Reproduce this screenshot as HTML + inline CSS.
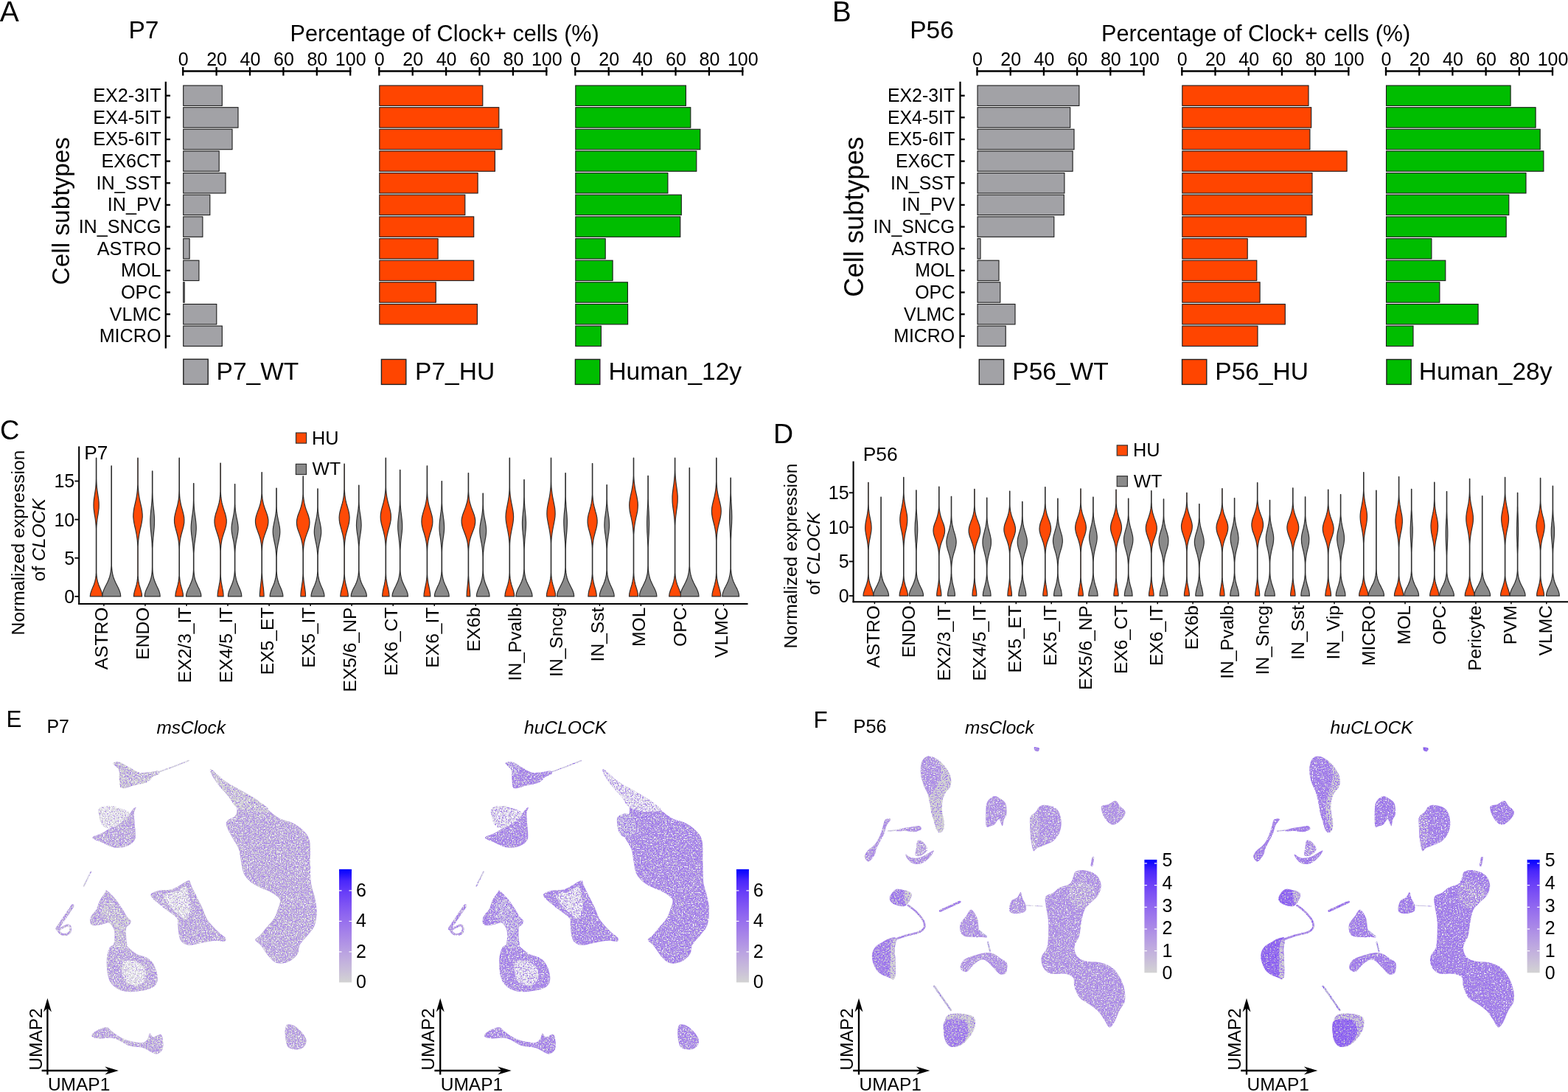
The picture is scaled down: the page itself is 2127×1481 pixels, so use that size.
<!DOCTYPE html>
<html><head><meta charset="utf-8"><title>Figure</title>
<style>html,body{margin:0;padding:0;background:#fff;overflow:hidden;}svg{display:block;}</style></head>
<body><svg width="2127" height="1481" viewBox="0 0 2127 1481" font-family="'Liberation Sans', Arial, Helvetica, sans-serif">
<rect width="2127" height="1481" fill="#fff"/>
<defs><filter id="fmE1" filterUnits="userSpaceOnUse" x="60" y="1020" width="380" height="420" color-interpolation-filters="sRGB"><feTurbulence type="fractalNoise" baseFrequency="0.6" numOctaves="1" seed="17" result="n0"/><feColorMatrix in="n0" type="matrix" values="0 0 0 0 0.827 0 0 0 0 0.827 0 0 0 0 0.827 14.00 0 0 0 -6.824" result="c0"/><feComposite in="c0" in2="SourceAlpha" operator="in" result="m0"/><feTurbulence type="fractalNoise" baseFrequency="0.6" numOctaves="1" seed="24" result="n1"/><feColorMatrix in="n1" type="matrix" values="0 0 0 0 1.000 0 0 0 0 1.000 0 0 0 0 1.000 14.00 0 0 0 -8.691" result="c1"/><feComposite in="c1" in2="SourceAlpha" operator="in" result="m1"/><feTurbulence type="fractalNoise" baseFrequency="0.6" numOctaves="1" seed="31" result="n2"/><feColorMatrix in="n2" type="matrix" values="0 0 0 0 0.616 0 0 0 0 0.467 0 0 0 0 0.925 14.00 0 0 0 -8.888" result="c2"/><feComposite in="c2" in2="SourceAlpha" operator="in" result="m2"/><feMerge><feMergeNode in="SourceGraphic"/><feMergeNode in="m0"/><feMergeNode in="m1"/><feMergeNode in="m2"/></feMerge></filter><filter id="fgE1" filterUnits="userSpaceOnUse" x="60" y="1020" width="380" height="420" color-interpolation-filters="sRGB"><feTurbulence type="fractalNoise" baseFrequency="0.6" numOctaves="1" seed="38" result="n0"/><feColorMatrix in="n0" type="matrix" values="0 0 0 0 0.698 0 0 0 0 0.588 0 0 0 0 0.894 14.00 0 0 0 -7.329" result="c0"/><feComposite in="c0" in2="SourceAlpha" operator="in" result="m0"/><feTurbulence type="fractalNoise" baseFrequency="0.6" numOctaves="1" seed="45" result="n1"/><feColorMatrix in="n1" type="matrix" values="0 0 0 0 1.000 0 0 0 0 1.000 0 0 0 0 1.000 14.00 0 0 0 -8.592" result="c1"/><feComposite in="c1" in2="SourceAlpha" operator="in" result="m1"/><feTurbulence type="fractalNoise" baseFrequency="0.6" numOctaves="1" seed="52" result="n2"/><feColorMatrix in="n2" type="matrix" values="0 0 0 0 0.588 0 0 0 0 0.431 0 0 0 0 0.933 14.00 0 0 0 -8.888" result="c2"/><feComposite in="c2" in2="SourceAlpha" operator="in" result="m2"/><feMerge><feMergeNode in="SourceGraphic"/><feMergeNode in="m0"/><feMergeNode in="m1"/><feMergeNode in="m2"/></feMerge></filter><filter id="fsE1" filterUnits="userSpaceOnUse" x="60" y="1020" width="380" height="420" color-interpolation-filters="sRGB"><feTurbulence type="fractalNoise" baseFrequency="0.6" numOctaves="1" seed="59" result="n0"/><feColorMatrix in="n0" type="matrix" values="0 0 0 0 1.000 0 0 0 0 1.000 0 0 0 0 1.000 14.00 0 0 0 -7.077" result="c0"/><feComposite in="c0" in2="SourceAlpha" operator="in" result="m0"/><feTurbulence type="fractalNoise" baseFrequency="0.6" numOctaves="1" seed="66" result="n1"/><feColorMatrix in="n1" type="matrix" values="0 0 0 0 0.827 0 0 0 0 0.827 0 0 0 0 0.827 14.00 0 0 0 -7.625" result="c1"/><feComposite in="c1" in2="SourceAlpha" operator="in" result="m1"/><feTurbulence type="fractalNoise" baseFrequency="0.6" numOctaves="1" seed="73" result="n2"/><feColorMatrix in="n2" type="matrix" values="0 0 0 0 0.690 0 0 0 0 0.573 0 0 0 0 0.898 14.00 0 0 0 -8.394" result="c2"/><feComposite in="c2" in2="SourceAlpha" operator="in" result="m2"/><feMerge><feMergeNode in="SourceGraphic"/><feMergeNode in="m0"/><feMergeNode in="m1"/><feMergeNode in="m2"/></feMerge></filter><filter id="fmE2" filterUnits="userSpaceOnUse" x="592.5" y="1020" width="380" height="420" color-interpolation-filters="sRGB"><feTurbulence type="fractalNoise" baseFrequency="0.6" numOctaves="1" seed="80" result="n0"/><feColorMatrix in="n0" type="matrix" values="0 0 0 0 0.827 0 0 0 0 0.827 0 0 0 0 0.827 14.00 0 0 0 -7.735" result="c0"/><feComposite in="c0" in2="SourceAlpha" operator="in" result="m0"/><feTurbulence type="fractalNoise" baseFrequency="0.6" numOctaves="1" seed="87" result="n1"/><feColorMatrix in="n1" type="matrix" values="0 0 0 0 1.000 0 0 0 0 1.000 0 0 0 0 1.000 14.00 0 0 0 -8.790" result="c1"/><feComposite in="c1" in2="SourceAlpha" operator="in" result="m1"/><feTurbulence type="fractalNoise" baseFrequency="0.6" numOctaves="1" seed="94" result="n2"/><feColorMatrix in="n2" type="matrix" values="0 0 0 0 0.580 0 0 0 0 0.424 0 0 0 0 0.933 14.00 0 0 0 -8.394" result="c2"/><feComposite in="c2" in2="SourceAlpha" operator="in" result="m2"/><feMerge><feMergeNode in="SourceGraphic"/><feMergeNode in="m0"/><feMergeNode in="m1"/><feMergeNode in="m2"/></feMerge></filter><filter id="fgE2" filterUnits="userSpaceOnUse" x="592.5" y="1020" width="380" height="420" color-interpolation-filters="sRGB"><feTurbulence type="fractalNoise" baseFrequency="0.6" numOctaves="1" seed="101" result="n0"/><feColorMatrix in="n0" type="matrix" values="0 0 0 0 0.655 0 0 0 0 0.522 0 0 0 0 0.910 14.00 0 0 0 -6.912" result="c0"/><feComposite in="c0" in2="SourceAlpha" operator="in" result="m0"/><feTurbulence type="fractalNoise" baseFrequency="0.6" numOctaves="1" seed="108" result="n1"/><feColorMatrix in="n1" type="matrix" values="0 0 0 0 1.000 0 0 0 0 1.000 0 0 0 0 1.000 14.00 0 0 0 -8.790" result="c1"/><feComposite in="c1" in2="SourceAlpha" operator="in" result="m1"/><feTurbulence type="fractalNoise" baseFrequency="0.6" numOctaves="1" seed="115" result="n2"/><feColorMatrix in="n2" type="matrix" values="0 0 0 0 0.557 0 0 0 0 0.396 0 0 0 0 0.941 14.00 0 0 0 -8.592" result="c2"/><feComposite in="c2" in2="SourceAlpha" operator="in" result="m2"/><feMerge><feMergeNode in="SourceGraphic"/><feMergeNode in="m0"/><feMergeNode in="m1"/><feMergeNode in="m2"/></feMerge></filter><filter id="fsE2" filterUnits="userSpaceOnUse" x="592.5" y="1020" width="380" height="420" color-interpolation-filters="sRGB"><feTurbulence type="fractalNoise" baseFrequency="0.6" numOctaves="1" seed="122" result="n0"/><feColorMatrix in="n0" type="matrix" values="0 0 0 0 1.000 0 0 0 0 1.000 0 0 0 0 1.000 14.00 0 0 0 -7.175" result="c0"/><feComposite in="c0" in2="SourceAlpha" operator="in" result="m0"/><feTurbulence type="fractalNoise" baseFrequency="0.6" numOctaves="1" seed="129" result="n1"/><feColorMatrix in="n1" type="matrix" values="0 0 0 0 0.827 0 0 0 0 0.827 0 0 0 0 0.827 14.00 0 0 0 -8.009" result="c1"/><feComposite in="c1" in2="SourceAlpha" operator="in" result="m1"/><feTurbulence type="fractalNoise" baseFrequency="0.6" numOctaves="1" seed="136" result="n2"/><feColorMatrix in="n2" type="matrix" values="0 0 0 0 0.655 0 0 0 0 0.522 0 0 0 0 0.910 14.00 0 0 0 -7.625" result="c2"/><feComposite in="c2" in2="SourceAlpha" operator="in" result="m2"/><feMerge><feMergeNode in="SourceGraphic"/><feMergeNode in="m0"/><feMergeNode in="m1"/><feMergeNode in="m2"/></feMerge></filter><linearGradient id="cbE1" x1="0" y1="0" x2="0" y2="1"><stop offset="0" stop-color="#0000ff"/><stop offset="0.1" stop-color="#4926fb"/><stop offset="0.2" stop-color="#673df8"/><stop offset="0.3" stop-color="#7c51f4"/><stop offset="0.4" stop-color="#8e65f0"/><stop offset="0.5" stop-color="#9d77ec"/><stop offset="0.6" stop-color="#aa89e7"/><stop offset="0.7" stop-color="#b69ce3"/><stop offset="0.8" stop-color="#c1aede"/><stop offset="0.9" stop-color="#cac0d9"/><stop offset="1" stop-color="#d3d3d3"/></linearGradient><linearGradient id="cbE2" x1="0" y1="0" x2="0" y2="1"><stop offset="0" stop-color="#0000ff"/><stop offset="0.1" stop-color="#4926fb"/><stop offset="0.2" stop-color="#673df8"/><stop offset="0.3" stop-color="#7c51f4"/><stop offset="0.4" stop-color="#8e65f0"/><stop offset="0.5" stop-color="#9d77ec"/><stop offset="0.6" stop-color="#aa89e7"/><stop offset="0.7" stop-color="#b69ce3"/><stop offset="0.8" stop-color="#c1aede"/><stop offset="0.9" stop-color="#cac0d9"/><stop offset="1" stop-color="#d3d3d3"/></linearGradient><filter id="fdF1" filterUnits="userSpaceOnUse" x="1150" y="1000" width="400" height="440" color-interpolation-filters="sRGB"><feTurbulence type="fractalNoise" baseFrequency="0.6" numOctaves="1" seed="143" result="n0"/><feColorMatrix in="n0" type="matrix" values="0 0 0 0 0.827 0 0 0 0 0.827 0 0 0 0 0.827 14.00 0 0 0 -6.692" result="c0"/><feComposite in="c0" in2="SourceAlpha" operator="in" result="m0"/><feTurbulence type="fractalNoise" baseFrequency="0.6" numOctaves="1" seed="150" result="n1"/><feColorMatrix in="n1" type="matrix" values="0 0 0 0 1.000 0 0 0 0 1.000 0 0 0 0 1.000 14.00 0 0 0 -8.394" result="c1"/><feComposite in="c1" in2="SourceAlpha" operator="in" result="m1"/><feTurbulence type="fractalNoise" baseFrequency="0.6" numOctaves="1" seed="157" result="n2"/><feColorMatrix in="n2" type="matrix" values="0 0 0 0 0.616 0 0 0 0 0.467 0 0 0 0 0.925 14.00 0 0 0 -8.790" result="c2"/><feComposite in="c2" in2="SourceAlpha" operator="in" result="m2"/><feMerge><feMergeNode in="SourceGraphic"/><feMergeNode in="m0"/><feMergeNode in="m1"/><feMergeNode in="m2"/></feMerge></filter><filter id="fmF1" filterUnits="userSpaceOnUse" x="1150" y="1000" width="400" height="440" color-interpolation-filters="sRGB"><feTurbulence type="fractalNoise" baseFrequency="0.6" numOctaves="1" seed="164" result="n0"/><feColorMatrix in="n0" type="matrix" values="0 0 0 0 0.827 0 0 0 0 0.827 0 0 0 0 0.827 14.00 0 0 0 -7.625" result="c0"/><feComposite in="c0" in2="SourceAlpha" operator="in" result="m0"/><feTurbulence type="fractalNoise" baseFrequency="0.6" numOctaves="1" seed="171" result="n1"/><feColorMatrix in="n1" type="matrix" values="0 0 0 0 1.000 0 0 0 0 1.000 0 0 0 0 1.000 14.00 0 0 0 -8.888" result="c1"/><feComposite in="c1" in2="SourceAlpha" operator="in" result="m1"/><feTurbulence type="fractalNoise" baseFrequency="0.6" numOctaves="1" seed="178" result="n2"/><feColorMatrix in="n2" type="matrix" values="0 0 0 0 0.616 0 0 0 0 0.467 0 0 0 0 0.925 14.00 0 0 0 -8.790" result="c2"/><feComposite in="c2" in2="SourceAlpha" operator="in" result="m2"/><feMerge><feMergeNode in="SourceGraphic"/><feMergeNode in="m0"/><feMergeNode in="m1"/><feMergeNode in="m2"/></feMerge></filter><filter id="fpF1" filterUnits="userSpaceOnUse" x="1150" y="1000" width="400" height="440" color-interpolation-filters="sRGB"><feTurbulence type="fractalNoise" baseFrequency="0.6" numOctaves="1" seed="185" result="n0"/><feColorMatrix in="n0" type="matrix" values="0 0 0 0 0.827 0 0 0 0 0.827 0 0 0 0 0.827 14.00 0 0 0 -7.625" result="c0"/><feComposite in="c0" in2="SourceAlpha" operator="in" result="m0"/><feTurbulence type="fractalNoise" baseFrequency="0.6" numOctaves="1" seed="192" result="n1"/><feColorMatrix in="n1" type="matrix" values="0 0 0 0 0.541 0 0 0 0 0.380 0 0 0 0 0.945 14.00 0 0 0 -8.394" result="c1"/><feComposite in="c1" in2="SourceAlpha" operator="in" result="m1"/><feMerge><feMergeNode in="SourceGraphic"/><feMergeNode in="m0"/><feMergeNode in="m1"/></feMerge></filter><filter id="fgF1" filterUnits="userSpaceOnUse" x="1150" y="1000" width="400" height="440" color-interpolation-filters="sRGB"><feTurbulence type="fractalNoise" baseFrequency="0.6" numOctaves="1" seed="199" result="n0"/><feColorMatrix in="n0" type="matrix" values="0 0 0 0 0.655 0 0 0 0 0.522 0 0 0 0 0.910 14.00 0 0 0 -7.845" result="c0"/><feComposite in="c0" in2="SourceAlpha" operator="in" result="m0"/><feTurbulence type="fractalNoise" baseFrequency="0.6" numOctaves="1" seed="206" result="n1"/><feColorMatrix in="n1" type="matrix" values="0 0 0 0 0.557 0 0 0 0 0.396 0 0 0 0 0.941 14.00 0 0 0 -8.888" result="c1"/><feComposite in="c1" in2="SourceAlpha" operator="in" result="m1"/><feMerge><feMergeNode in="SourceGraphic"/><feMergeNode in="m0"/><feMergeNode in="m1"/></feMerge></filter><filter id="fsF1" filterUnits="userSpaceOnUse" x="1150" y="1000" width="400" height="440" color-interpolation-filters="sRGB"><feTurbulence type="fractalNoise" baseFrequency="0.6" numOctaves="1" seed="213" result="n0"/><feColorMatrix in="n0" type="matrix" values="0 0 0 0 1.000 0 0 0 0 1.000 0 0 0 0 1.000 14.00 0 0 0 -7.241" result="c0"/><feComposite in="c0" in2="SourceAlpha" operator="in" result="m0"/><feTurbulence type="fractalNoise" baseFrequency="0.6" numOctaves="1" seed="220" result="n1"/><feColorMatrix in="n1" type="matrix" values="0 0 0 0 0.827 0 0 0 0 0.827 0 0 0 0 0.827 14.00 0 0 0 -7.460" result="c1"/><feComposite in="c1" in2="SourceAlpha" operator="in" result="m1"/><feMerge><feMergeNode in="SourceGraphic"/><feMergeNode in="m0"/><feMergeNode in="m1"/></feMerge></filter><filter id="fdF2" filterUnits="userSpaceOnUse" x="1677.5" y="1000" width="400" height="440" color-interpolation-filters="sRGB"><feTurbulence type="fractalNoise" baseFrequency="0.6" numOctaves="1" seed="227" result="n0"/><feColorMatrix in="n0" type="matrix" values="0 0 0 0 0.827 0 0 0 0 0.827 0 0 0 0 0.827 14.00 0 0 0 -7.077" result="c0"/><feComposite in="c0" in2="SourceAlpha" operator="in" result="m0"/><feTurbulence type="fractalNoise" baseFrequency="0.6" numOctaves="1" seed="234" result="n1"/><feColorMatrix in="n1" type="matrix" values="0 0 0 0 1.000 0 0 0 0 1.000 0 0 0 0 1.000 14.00 0 0 0 -8.592" result="c1"/><feComposite in="c1" in2="SourceAlpha" operator="in" result="m1"/><feTurbulence type="fractalNoise" baseFrequency="0.6" numOctaves="1" seed="241" result="n2"/><feColorMatrix in="n2" type="matrix" values="0 0 0 0 0.588 0 0 0 0 0.431 0 0 0 0 0.933 14.00 0 0 0 -8.592" result="c2"/><feComposite in="c2" in2="SourceAlpha" operator="in" result="m2"/><feMerge><feMergeNode in="SourceGraphic"/><feMergeNode in="m0"/><feMergeNode in="m1"/><feMergeNode in="m2"/></feMerge></filter><filter id="fmF2" filterUnits="userSpaceOnUse" x="1677.5" y="1000" width="400" height="440" color-interpolation-filters="sRGB"><feTurbulence type="fractalNoise" baseFrequency="0.6" numOctaves="1" seed="248" result="n0"/><feColorMatrix in="n0" type="matrix" values="0 0 0 0 0.827 0 0 0 0 0.827 0 0 0 0 0.827 14.00 0 0 0 -8.240" result="c0"/><feComposite in="c0" in2="SourceAlpha" operator="in" result="m0"/><feTurbulence type="fractalNoise" baseFrequency="0.6" numOctaves="1" seed="255" result="n1"/><feColorMatrix in="n1" type="matrix" values="0 0 0 0 1.000 0 0 0 0 1.000 0 0 0 0 1.000 14.00 0 0 0 -8.888" result="c1"/><feComposite in="c1" in2="SourceAlpha" operator="in" result="m1"/><feTurbulence type="fractalNoise" baseFrequency="0.6" numOctaves="1" seed="262" result="n2"/><feColorMatrix in="n2" type="matrix" values="0 0 0 0 0.569 0 0 0 0 0.412 0 0 0 0 0.937 14.00 0 0 0 -8.394" result="c2"/><feComposite in="c2" in2="SourceAlpha" operator="in" result="m2"/><feMerge><feMergeNode in="SourceGraphic"/><feMergeNode in="m0"/><feMergeNode in="m1"/><feMergeNode in="m2"/></feMerge></filter><filter id="fpF2" filterUnits="userSpaceOnUse" x="1677.5" y="1000" width="400" height="440" color-interpolation-filters="sRGB"><feTurbulence type="fractalNoise" baseFrequency="0.6" numOctaves="1" seed="269" result="n0"/><feColorMatrix in="n0" type="matrix" values="0 0 0 0 0.827 0 0 0 0 0.827 0 0 0 0 0.827 14.00 0 0 0 -8.394" result="c0"/><feComposite in="c0" in2="SourceAlpha" operator="in" result="m0"/><feTurbulence type="fractalNoise" baseFrequency="0.6" numOctaves="1" seed="276" result="n1"/><feColorMatrix in="n1" type="matrix" values="0 0 0 0 0.486 0 0 0 0 0.318 0 0 0 0 0.957 14.00 0 0 0 -8.086" result="c1"/><feComposite in="c1" in2="SourceAlpha" operator="in" result="m1"/><feMerge><feMergeNode in="SourceGraphic"/><feMergeNode in="m0"/><feMergeNode in="m1"/></feMerge></filter><filter id="fgF2" filterUnits="userSpaceOnUse" x="1677.5" y="1000" width="400" height="440" color-interpolation-filters="sRGB"><feTurbulence type="fractalNoise" baseFrequency="0.6" numOctaves="1" seed="283" result="n0"/><feColorMatrix in="n0" type="matrix" values="0 0 0 0 0.643 0 0 0 0 0.502 0 0 0 0 0.918 14.00 0 0 0 -7.077" result="c0"/><feComposite in="c0" in2="SourceAlpha" operator="in" result="m0"/><feTurbulence type="fractalNoise" baseFrequency="0.6" numOctaves="1" seed="290" result="n1"/><feColorMatrix in="n1" type="matrix" values="0 0 0 0 0.557 0 0 0 0 0.396 0 0 0 0 0.941 14.00 0 0 0 -8.790" result="c1"/><feComposite in="c1" in2="SourceAlpha" operator="in" result="m1"/><feMerge><feMergeNode in="SourceGraphic"/><feMergeNode in="m0"/><feMergeNode in="m1"/></feMerge></filter><filter id="fsF2" filterUnits="userSpaceOnUse" x="1677.5" y="1000" width="400" height="440" color-interpolation-filters="sRGB"><feTurbulence type="fractalNoise" baseFrequency="0.6" numOctaves="1" seed="297" result="n0"/><feColorMatrix in="n0" type="matrix" values="0 0 0 0 1.000 0 0 0 0 1.000 0 0 0 0 1.000 14.00 0 0 0 -7.460" result="c0"/><feComposite in="c0" in2="SourceAlpha" operator="in" result="m0"/><feTurbulence type="fractalNoise" baseFrequency="0.6" numOctaves="1" seed="304" result="n1"/><feColorMatrix in="n1" type="matrix" values="0 0 0 0 0.827 0 0 0 0 0.827 0 0 0 0 0.827 14.00 0 0 0 -7.460" result="c1"/><feComposite in="c1" in2="SourceAlpha" operator="in" result="m1"/><feMerge><feMergeNode in="SourceGraphic"/><feMergeNode in="m0"/><feMergeNode in="m1"/></feMerge></filter><linearGradient id="cbF1" x1="0" y1="0" x2="0" y2="1"><stop offset="0" stop-color="#0000ff"/><stop offset="0.1" stop-color="#4926fb"/><stop offset="0.2" stop-color="#673df8"/><stop offset="0.3" stop-color="#7c51f4"/><stop offset="0.4" stop-color="#8e65f0"/><stop offset="0.5" stop-color="#9d77ec"/><stop offset="0.6" stop-color="#aa89e7"/><stop offset="0.7" stop-color="#b69ce3"/><stop offset="0.8" stop-color="#c1aede"/><stop offset="0.9" stop-color="#cac0d9"/><stop offset="1" stop-color="#d3d3d3"/></linearGradient><linearGradient id="cbF2" x1="0" y1="0" x2="0" y2="1"><stop offset="0" stop-color="#0000ff"/><stop offset="0.1" stop-color="#4926fb"/><stop offset="0.2" stop-color="#673df8"/><stop offset="0.3" stop-color="#7c51f4"/><stop offset="0.4" stop-color="#8e65f0"/><stop offset="0.5" stop-color="#9d77ec"/><stop offset="0.6" stop-color="#aa89e7"/><stop offset="0.7" stop-color="#b69ce3"/><stop offset="0.8" stop-color="#c1aede"/><stop offset="0.9" stop-color="#cac0d9"/><stop offset="1" stop-color="#d3d3d3"/></linearGradient></defs>
<text x="-0.3" y="29.1" font-size="39">A</text>
<text x="174.4" y="52.1" font-size="33.5">P7</text>
<text x="393.6" y="55.9" font-size="30.6">Percentage of Clock+ cells (%)</text>
<text x="93.9" y="286.2" font-size="33.4" text-anchor="middle" transform="rotate(-90 93.9 286.2)">Cell subtypes</text>
<line x1="224.8" y1="110.8" x2="224.8" y2="472.5" stroke="#000" stroke-width="2.3" stroke-linecap="butt"/>
<line x1="224.8" y1="129.7" x2="231" y2="129.7" stroke="#000" stroke-width="2.3" stroke-linecap="butt"/>
<text x="218.6" y="138.1" font-size="25.2" text-anchor="end">EX2-3IT</text>
<line x1="224.8" y1="159.3" x2="231" y2="159.3" stroke="#000" stroke-width="2.3" stroke-linecap="butt"/>
<text x="218.6" y="167.8" font-size="25.2" text-anchor="end">EX4-5IT</text>
<line x1="224.8" y1="189" x2="231" y2="189" stroke="#000" stroke-width="2.3" stroke-linecap="butt"/>
<text x="218.6" y="197.4" font-size="25.2" text-anchor="end">EX5-6IT</text>
<line x1="224.8" y1="218.6" x2="231" y2="218.6" stroke="#000" stroke-width="2.3" stroke-linecap="butt"/>
<text x="218.6" y="227" font-size="25.2" text-anchor="end">EX6CT</text>
<line x1="224.8" y1="248.3" x2="231" y2="248.3" stroke="#000" stroke-width="2.3" stroke-linecap="butt"/>
<text x="218.6" y="256.7" font-size="25.2" text-anchor="end">IN_SST</text>
<line x1="224.8" y1="277.9" x2="231" y2="277.9" stroke="#000" stroke-width="2.3" stroke-linecap="butt"/>
<text x="218.6" y="286.3" font-size="25.2" text-anchor="end">IN_PV</text>
<line x1="224.8" y1="307.6" x2="231" y2="307.6" stroke="#000" stroke-width="2.3" stroke-linecap="butt"/>
<text x="218.6" y="316" font-size="25.2" text-anchor="end">IN_SNCG</text>
<line x1="224.8" y1="337.2" x2="231" y2="337.2" stroke="#000" stroke-width="2.3" stroke-linecap="butt"/>
<text x="218.6" y="345.6" font-size="25.2" text-anchor="end">ASTRO</text>
<line x1="224.8" y1="366.9" x2="231" y2="366.9" stroke="#000" stroke-width="2.3" stroke-linecap="butt"/>
<text x="218.6" y="375.3" font-size="25.2" text-anchor="end">MOL</text>
<line x1="224.8" y1="396.5" x2="231" y2="396.5" stroke="#000" stroke-width="2.3" stroke-linecap="butt"/>
<text x="218.6" y="404.9" font-size="25.2" text-anchor="end">OPC</text>
<line x1="224.8" y1="426.2" x2="231" y2="426.2" stroke="#000" stroke-width="2.3" stroke-linecap="butt"/>
<text x="218.6" y="434.6" font-size="25.2" text-anchor="end">VLMC</text>
<line x1="224.8" y1="455.8" x2="231" y2="455.8" stroke="#000" stroke-width="2.3" stroke-linecap="butt"/>
<text x="218.6" y="464.2" font-size="25.2" text-anchor="end">MICRO</text>
<line x1="247.1" y1="96.6" x2="476.3" y2="96.6" stroke="#000" stroke-width="2.5" stroke-linecap="butt"/>
<line x1="248.2" y1="91" x2="248.2" y2="102.6" stroke="#000" stroke-width="2.3" stroke-linecap="butt"/>
<text x="248.7" y="89" font-size="25" text-anchor="middle">0</text>
<line x1="293.6" y1="91" x2="293.6" y2="102.6" stroke="#000" stroke-width="2.3" stroke-linecap="butt"/>
<text x="294.1" y="89" font-size="25" text-anchor="middle">20</text>
<line x1="339" y1="91" x2="339" y2="102.6" stroke="#000" stroke-width="2.3" stroke-linecap="butt"/>
<text x="339.5" y="89" font-size="25" text-anchor="middle">40</text>
<line x1="384.4" y1="91" x2="384.4" y2="102.6" stroke="#000" stroke-width="2.3" stroke-linecap="butt"/>
<text x="384.9" y="89" font-size="25" text-anchor="middle">60</text>
<line x1="429.8" y1="91" x2="429.8" y2="102.6" stroke="#000" stroke-width="2.3" stroke-linecap="butt"/>
<text x="430.3" y="89" font-size="25" text-anchor="middle">80</text>
<line x1="475.2" y1="91" x2="475.2" y2="102.6" stroke="#000" stroke-width="2.3" stroke-linecap="butt"/>
<text x="475.7" y="89" font-size="25" text-anchor="middle">100</text>
<rect x="248.7" y="116" width="52.6" height="27.4" fill="#a2a2a6" stroke="#1a1a1a" stroke-width="1.1"/>
<rect x="248.7" y="145.7" width="74.3" height="27.4" fill="#a2a2a6" stroke="#1a1a1a" stroke-width="1.1"/>
<rect x="248.7" y="175.3" width="66.3" height="27.4" fill="#a2a2a6" stroke="#1a1a1a" stroke-width="1.1"/>
<rect x="248.7" y="204.9" width="48.5" height="27.4" fill="#a2a2a6" stroke="#1a1a1a" stroke-width="1.1"/>
<rect x="248.7" y="234.6" width="57.3" height="27.4" fill="#a2a2a6" stroke="#1a1a1a" stroke-width="1.1"/>
<rect x="248.7" y="264.2" width="36.1" height="27.4" fill="#a2a2a6" stroke="#1a1a1a" stroke-width="1.1"/>
<rect x="248.7" y="293.9" width="26.2" height="27.4" fill="#a2a2a6" stroke="#1a1a1a" stroke-width="1.1"/>
<rect x="248.7" y="323.6" width="8.4" height="27.4" fill="#a2a2a6" stroke="#1a1a1a" stroke-width="1.1"/>
<rect x="248.7" y="353.2" width="21.2" height="27.4" fill="#a2a2a6" stroke="#1a1a1a" stroke-width="1.1"/>
<rect x="248.7" y="382.8" width="1.5" height="27.4" fill="#a2a2a6" stroke="#1a1a1a" stroke-width="1.1"/>
<rect x="248.7" y="412.5" width="45.1" height="27.4" fill="#a2a2a6" stroke="#1a1a1a" stroke-width="1.1"/>
<rect x="248.7" y="442.1" width="52.6" height="27.4" fill="#a2a2a6" stroke="#1a1a1a" stroke-width="1.1"/>
<line x1="513.2" y1="96.6" x2="742.4" y2="96.6" stroke="#000" stroke-width="2.5" stroke-linecap="butt"/>
<line x1="514.3" y1="91" x2="514.3" y2="102.6" stroke="#000" stroke-width="2.3" stroke-linecap="butt"/>
<text x="514.8" y="89" font-size="25" text-anchor="middle">0</text>
<line x1="559.7" y1="91" x2="559.7" y2="102.6" stroke="#000" stroke-width="2.3" stroke-linecap="butt"/>
<text x="560.2" y="89" font-size="25" text-anchor="middle">20</text>
<line x1="605.1" y1="91" x2="605.1" y2="102.6" stroke="#000" stroke-width="2.3" stroke-linecap="butt"/>
<text x="605.6" y="89" font-size="25" text-anchor="middle">40</text>
<line x1="650.5" y1="91" x2="650.5" y2="102.6" stroke="#000" stroke-width="2.3" stroke-linecap="butt"/>
<text x="651" y="89" font-size="25" text-anchor="middle">60</text>
<line x1="695.9" y1="91" x2="695.9" y2="102.6" stroke="#000" stroke-width="2.3" stroke-linecap="butt"/>
<text x="696.4" y="89" font-size="25" text-anchor="middle">80</text>
<line x1="741.3" y1="91" x2="741.3" y2="102.6" stroke="#000" stroke-width="2.3" stroke-linecap="butt"/>
<text x="741.8" y="89" font-size="25" text-anchor="middle">100</text>
<rect x="514.8" y="116" width="140" height="27.4" fill="#ff4500" stroke="#1a1a1a" stroke-width="1.1"/>
<rect x="514.8" y="145.7" width="162" height="27.4" fill="#ff4500" stroke="#1a1a1a" stroke-width="1.1"/>
<rect x="514.8" y="175.3" width="166.1" height="27.4" fill="#ff4500" stroke="#1a1a1a" stroke-width="1.1"/>
<rect x="514.8" y="204.9" width="156.6" height="27.4" fill="#ff4500" stroke="#1a1a1a" stroke-width="1.1"/>
<rect x="514.8" y="234.6" width="133.3" height="27.4" fill="#ff4500" stroke="#1a1a1a" stroke-width="1.1"/>
<rect x="514.8" y="264.2" width="116" height="27.4" fill="#ff4500" stroke="#1a1a1a" stroke-width="1.1"/>
<rect x="514.8" y="293.9" width="127.9" height="27.4" fill="#ff4500" stroke="#1a1a1a" stroke-width="1.1"/>
<rect x="514.8" y="323.6" width="79.3" height="27.4" fill="#ff4500" stroke="#1a1a1a" stroke-width="1.1"/>
<rect x="514.8" y="353.2" width="127.9" height="27.4" fill="#ff4500" stroke="#1a1a1a" stroke-width="1.1"/>
<rect x="514.8" y="382.8" width="76.5" height="27.4" fill="#ff4500" stroke="#1a1a1a" stroke-width="1.1"/>
<rect x="514.8" y="412.5" width="132.6" height="27.4" fill="#ff4500" stroke="#1a1a1a" stroke-width="1.1"/>
<line x1="779.2" y1="96.6" x2="1008.4" y2="96.6" stroke="#000" stroke-width="2.5" stroke-linecap="butt"/>
<line x1="780.3" y1="91" x2="780.3" y2="102.6" stroke="#000" stroke-width="2.3" stroke-linecap="butt"/>
<text x="780.8" y="89" font-size="25" text-anchor="middle">0</text>
<line x1="825.7" y1="91" x2="825.7" y2="102.6" stroke="#000" stroke-width="2.3" stroke-linecap="butt"/>
<text x="826.2" y="89" font-size="25" text-anchor="middle">20</text>
<line x1="871.1" y1="91" x2="871.1" y2="102.6" stroke="#000" stroke-width="2.3" stroke-linecap="butt"/>
<text x="871.6" y="89" font-size="25" text-anchor="middle">40</text>
<line x1="916.5" y1="91" x2="916.5" y2="102.6" stroke="#000" stroke-width="2.3" stroke-linecap="butt"/>
<text x="917" y="89" font-size="25" text-anchor="middle">60</text>
<line x1="961.9" y1="91" x2="961.9" y2="102.6" stroke="#000" stroke-width="2.3" stroke-linecap="butt"/>
<text x="962.4" y="89" font-size="25" text-anchor="middle">80</text>
<line x1="1007.3" y1="91" x2="1007.3" y2="102.6" stroke="#000" stroke-width="2.3" stroke-linecap="butt"/>
<text x="1007.8" y="89" font-size="25" text-anchor="middle">100</text>
<rect x="780.8" y="116" width="149.6" height="27.4" fill="#00bd00" stroke="#1a1a1a" stroke-width="1.1"/>
<rect x="780.8" y="145.7" width="156" height="27.4" fill="#00bd00" stroke="#1a1a1a" stroke-width="1.1"/>
<rect x="780.8" y="175.3" width="169" height="27.4" fill="#00bd00" stroke="#1a1a1a" stroke-width="1.1"/>
<rect x="780.8" y="204.9" width="164" height="27.4" fill="#00bd00" stroke="#1a1a1a" stroke-width="1.1"/>
<rect x="780.8" y="234.6" width="125.1" height="27.4" fill="#00bd00" stroke="#1a1a1a" stroke-width="1.1"/>
<rect x="780.8" y="264.2" width="143.5" height="27.4" fill="#00bd00" stroke="#1a1a1a" stroke-width="1.1"/>
<rect x="780.8" y="293.9" width="142" height="27.4" fill="#00bd00" stroke="#1a1a1a" stroke-width="1.1"/>
<rect x="780.8" y="323.6" width="40.4" height="27.4" fill="#00bd00" stroke="#1a1a1a" stroke-width="1.1"/>
<rect x="780.8" y="353.2" width="50.3" height="27.4" fill="#00bd00" stroke="#1a1a1a" stroke-width="1.1"/>
<rect x="780.8" y="382.8" width="70.6" height="27.4" fill="#00bd00" stroke="#1a1a1a" stroke-width="1.1"/>
<rect x="780.8" y="412.5" width="70.8" height="27.4" fill="#00bd00" stroke="#1a1a1a" stroke-width="1.1"/>
<rect x="780.8" y="442.1" width="34.6" height="27.4" fill="#00bd00" stroke="#1a1a1a" stroke-width="1.1"/>
<rect x="248.8" y="487.2" width="33.4" height="34" fill="#a2a2a6" stroke="#222" stroke-width="1.4"/>
<text x="293.6" y="515.1" font-size="33.5">P7_WT</text>
<rect x="517.4" y="487.4" width="33.4" height="34" fill="#ff4500" stroke="#222" stroke-width="1.4"/>
<text x="563.1" y="515.1" font-size="33.5">P7_HU</text>
<rect x="780.4" y="487.4" width="33.4" height="34" fill="#00bd00" stroke="#222" stroke-width="1.4"/>
<text x="825.4" y="515.1" font-size="33.5">Human_12y</text>
<text x="1129" y="28.8" font-size="38.5">B</text>
<text x="1234.2" y="52.2" font-size="33.5">P56</text>
<text x="1494.1" y="56" font-size="30.6">Percentage of Clock+ cells (%)</text>
<text x="1171.3" y="294" font-size="36.2" text-anchor="middle" transform="rotate(-90 1171.3 294)">Cell subtypes</text>
<line x1="1302.5" y1="110.8" x2="1302.5" y2="472.5" stroke="#000" stroke-width="2.3" stroke-linecap="butt"/>
<line x1="1302.5" y1="129.7" x2="1308.7" y2="129.7" stroke="#000" stroke-width="2.3" stroke-linecap="butt"/>
<text x="1295.2" y="138.1" font-size="24.9" text-anchor="end">EX2-3IT</text>
<line x1="1302.5" y1="159.3" x2="1308.7" y2="159.3" stroke="#000" stroke-width="2.3" stroke-linecap="butt"/>
<text x="1295.2" y="167.8" font-size="24.9" text-anchor="end">EX4-5IT</text>
<line x1="1302.5" y1="189" x2="1308.7" y2="189" stroke="#000" stroke-width="2.3" stroke-linecap="butt"/>
<text x="1295.2" y="197.4" font-size="24.9" text-anchor="end">EX5-6IT</text>
<line x1="1302.5" y1="218.6" x2="1308.7" y2="218.6" stroke="#000" stroke-width="2.3" stroke-linecap="butt"/>
<text x="1295.2" y="227" font-size="24.9" text-anchor="end">EX6CT</text>
<line x1="1302.5" y1="248.3" x2="1308.7" y2="248.3" stroke="#000" stroke-width="2.3" stroke-linecap="butt"/>
<text x="1295.2" y="256.7" font-size="24.9" text-anchor="end">IN_SST</text>
<line x1="1302.5" y1="277.9" x2="1308.7" y2="277.9" stroke="#000" stroke-width="2.3" stroke-linecap="butt"/>
<text x="1295.2" y="286.3" font-size="24.9" text-anchor="end">IN_PV</text>
<line x1="1302.5" y1="307.6" x2="1308.7" y2="307.6" stroke="#000" stroke-width="2.3" stroke-linecap="butt"/>
<text x="1295.2" y="316" font-size="24.9" text-anchor="end">IN_SNCG</text>
<line x1="1302.5" y1="337.2" x2="1308.7" y2="337.2" stroke="#000" stroke-width="2.3" stroke-linecap="butt"/>
<text x="1295.2" y="345.6" font-size="24.9" text-anchor="end">ASTRO</text>
<line x1="1302.5" y1="366.9" x2="1308.7" y2="366.9" stroke="#000" stroke-width="2.3" stroke-linecap="butt"/>
<text x="1295.2" y="375.3" font-size="24.9" text-anchor="end">MOL</text>
<line x1="1302.5" y1="396.5" x2="1308.7" y2="396.5" stroke="#000" stroke-width="2.3" stroke-linecap="butt"/>
<text x="1295.2" y="404.9" font-size="24.9" text-anchor="end">OPC</text>
<line x1="1302.5" y1="426.2" x2="1308.7" y2="426.2" stroke="#000" stroke-width="2.3" stroke-linecap="butt"/>
<text x="1295.2" y="434.6" font-size="24.9" text-anchor="end">VLMC</text>
<line x1="1302.5" y1="455.8" x2="1308.7" y2="455.8" stroke="#000" stroke-width="2.3" stroke-linecap="butt"/>
<text x="1295.2" y="464.2" font-size="24.9" text-anchor="end">MICRO</text>
<line x1="1324.4" y1="96.6" x2="1552.6" y2="96.6" stroke="#000" stroke-width="2.5" stroke-linecap="butt"/>
<line x1="1325.5" y1="91" x2="1325.5" y2="102.6" stroke="#000" stroke-width="2.3" stroke-linecap="butt"/>
<text x="1326" y="89" font-size="25" text-anchor="middle">0</text>
<line x1="1370.7" y1="91" x2="1370.7" y2="102.6" stroke="#000" stroke-width="2.3" stroke-linecap="butt"/>
<text x="1371.2" y="89" font-size="25" text-anchor="middle">20</text>
<line x1="1415.9" y1="91" x2="1415.9" y2="102.6" stroke="#000" stroke-width="2.3" stroke-linecap="butt"/>
<text x="1416.4" y="89" font-size="25" text-anchor="middle">40</text>
<line x1="1461.1" y1="91" x2="1461.1" y2="102.6" stroke="#000" stroke-width="2.3" stroke-linecap="butt"/>
<text x="1461.6" y="89" font-size="25" text-anchor="middle">60</text>
<line x1="1506.3" y1="91" x2="1506.3" y2="102.6" stroke="#000" stroke-width="2.3" stroke-linecap="butt"/>
<text x="1506.8" y="89" font-size="25" text-anchor="middle">80</text>
<line x1="1551.5" y1="91" x2="1551.5" y2="102.6" stroke="#000" stroke-width="2.3" stroke-linecap="butt"/>
<text x="1552" y="89" font-size="25" text-anchor="middle">100</text>
<rect x="1326" y="116" width="137.9" height="27.4" fill="#a2a2a6" stroke="#1a1a1a" stroke-width="1.1"/>
<rect x="1326" y="145.7" width="125.7" height="27.4" fill="#a2a2a6" stroke="#1a1a1a" stroke-width="1.1"/>
<rect x="1326" y="175.3" width="131" height="27.4" fill="#a2a2a6" stroke="#1a1a1a" stroke-width="1.1"/>
<rect x="1326" y="204.9" width="129.1" height="27.4" fill="#a2a2a6" stroke="#1a1a1a" stroke-width="1.1"/>
<rect x="1326" y="234.6" width="117.9" height="27.4" fill="#a2a2a6" stroke="#1a1a1a" stroke-width="1.1"/>
<rect x="1326" y="264.2" width="117.3" height="27.4" fill="#a2a2a6" stroke="#1a1a1a" stroke-width="1.1"/>
<rect x="1326" y="293.9" width="103.8" height="27.4" fill="#a2a2a6" stroke="#1a1a1a" stroke-width="1.1"/>
<rect x="1326" y="323.6" width="4" height="27.4" fill="#a2a2a6" stroke="#1a1a1a" stroke-width="1.1"/>
<rect x="1326" y="353.2" width="29" height="27.4" fill="#a2a2a6" stroke="#1a1a1a" stroke-width="1.1"/>
<rect x="1326" y="382.8" width="30.8" height="27.4" fill="#a2a2a6" stroke="#1a1a1a" stroke-width="1.1"/>
<rect x="1326" y="412.5" width="51" height="27.4" fill="#a2a2a6" stroke="#1a1a1a" stroke-width="1.1"/>
<rect x="1326" y="442.1" width="38.2" height="27.4" fill="#a2a2a6" stroke="#1a1a1a" stroke-width="1.1"/>
<line x1="1602.2" y1="96.6" x2="1830.4" y2="96.6" stroke="#000" stroke-width="2.5" stroke-linecap="butt"/>
<line x1="1603.3" y1="91" x2="1603.3" y2="102.6" stroke="#000" stroke-width="2.3" stroke-linecap="butt"/>
<text x="1603.8" y="89" font-size="25" text-anchor="middle">0</text>
<line x1="1648.5" y1="91" x2="1648.5" y2="102.6" stroke="#000" stroke-width="2.3" stroke-linecap="butt"/>
<text x="1649" y="89" font-size="25" text-anchor="middle">20</text>
<line x1="1693.7" y1="91" x2="1693.7" y2="102.6" stroke="#000" stroke-width="2.3" stroke-linecap="butt"/>
<text x="1694.2" y="89" font-size="25" text-anchor="middle">40</text>
<line x1="1738.9" y1="91" x2="1738.9" y2="102.6" stroke="#000" stroke-width="2.3" stroke-linecap="butt"/>
<text x="1739.4" y="89" font-size="25" text-anchor="middle">60</text>
<line x1="1784.1" y1="91" x2="1784.1" y2="102.6" stroke="#000" stroke-width="2.3" stroke-linecap="butt"/>
<text x="1784.6" y="89" font-size="25" text-anchor="middle">80</text>
<line x1="1829.3" y1="91" x2="1829.3" y2="102.6" stroke="#000" stroke-width="2.3" stroke-linecap="butt"/>
<text x="1829.8" y="89" font-size="25" text-anchor="middle">100</text>
<rect x="1603.8" y="116" width="171.2" height="27.4" fill="#ff4500" stroke="#1a1a1a" stroke-width="1.1"/>
<rect x="1603.8" y="145.7" width="174.9" height="27.4" fill="#ff4500" stroke="#1a1a1a" stroke-width="1.1"/>
<rect x="1603.8" y="175.3" width="173.1" height="27.4" fill="#ff4500" stroke="#1a1a1a" stroke-width="1.1"/>
<rect x="1603.8" y="204.9" width="223.3" height="27.4" fill="#ff4500" stroke="#1a1a1a" stroke-width="1.1"/>
<rect x="1603.8" y="234.6" width="176.2" height="27.4" fill="#ff4500" stroke="#1a1a1a" stroke-width="1.1"/>
<rect x="1603.8" y="264.2" width="176.2" height="27.4" fill="#ff4500" stroke="#1a1a1a" stroke-width="1.1"/>
<rect x="1603.8" y="293.9" width="168.1" height="27.4" fill="#ff4500" stroke="#1a1a1a" stroke-width="1.1"/>
<rect x="1603.8" y="323.6" width="88.4" height="27.4" fill="#ff4500" stroke="#1a1a1a" stroke-width="1.1"/>
<rect x="1603.8" y="353.2" width="101" height="27.4" fill="#ff4500" stroke="#1a1a1a" stroke-width="1.1"/>
<rect x="1603.8" y="382.8" width="105.3" height="27.4" fill="#ff4500" stroke="#1a1a1a" stroke-width="1.1"/>
<rect x="1603.8" y="412.5" width="139.5" height="27.4" fill="#ff4500" stroke="#1a1a1a" stroke-width="1.1"/>
<rect x="1603.8" y="442.1" width="102.2" height="27.4" fill="#ff4500" stroke="#1a1a1a" stroke-width="1.1"/>
<line x1="1878.9" y1="96.6" x2="2107.1" y2="96.6" stroke="#000" stroke-width="2.5" stroke-linecap="butt"/>
<line x1="1880" y1="91" x2="1880" y2="102.6" stroke="#000" stroke-width="2.3" stroke-linecap="butt"/>
<text x="1880.5" y="89" font-size="25" text-anchor="middle">0</text>
<line x1="1925.2" y1="91" x2="1925.2" y2="102.6" stroke="#000" stroke-width="2.3" stroke-linecap="butt"/>
<text x="1925.7" y="89" font-size="25" text-anchor="middle">20</text>
<line x1="1970.4" y1="91" x2="1970.4" y2="102.6" stroke="#000" stroke-width="2.3" stroke-linecap="butt"/>
<text x="1970.9" y="89" font-size="25" text-anchor="middle">40</text>
<line x1="2015.6" y1="91" x2="2015.6" y2="102.6" stroke="#000" stroke-width="2.3" stroke-linecap="butt"/>
<text x="2016.1" y="89" font-size="25" text-anchor="middle">60</text>
<line x1="2060.8" y1="91" x2="2060.8" y2="102.6" stroke="#000" stroke-width="2.3" stroke-linecap="butt"/>
<text x="2061.3" y="89" font-size="25" text-anchor="middle">80</text>
<line x1="2106" y1="91" x2="2106" y2="102.6" stroke="#000" stroke-width="2.3" stroke-linecap="butt"/>
<text x="2106.5" y="89" font-size="25" text-anchor="middle">100</text>
<rect x="1880.5" y="116" width="168.6" height="27.4" fill="#00bd00" stroke="#1a1a1a" stroke-width="1.1"/>
<rect x="1880.5" y="145.7" width="202.6" height="27.4" fill="#00bd00" stroke="#1a1a1a" stroke-width="1.1"/>
<rect x="1880.5" y="175.3" width="208.7" height="27.4" fill="#00bd00" stroke="#1a1a1a" stroke-width="1.1"/>
<rect x="1880.5" y="204.9" width="213.4" height="27.4" fill="#00bd00" stroke="#1a1a1a" stroke-width="1.1"/>
<rect x="1880.5" y="234.6" width="189.5" height="27.4" fill="#00bd00" stroke="#1a1a1a" stroke-width="1.1"/>
<rect x="1880.5" y="264.2" width="166.3" height="27.4" fill="#00bd00" stroke="#1a1a1a" stroke-width="1.1"/>
<rect x="1880.5" y="293.9" width="162.7" height="27.4" fill="#00bd00" stroke="#1a1a1a" stroke-width="1.1"/>
<rect x="1880.5" y="323.6" width="61.4" height="27.4" fill="#00bd00" stroke="#1a1a1a" stroke-width="1.1"/>
<rect x="1880.5" y="353.2" width="80.3" height="27.4" fill="#00bd00" stroke="#1a1a1a" stroke-width="1.1"/>
<rect x="1880.5" y="382.8" width="72.4" height="27.4" fill="#00bd00" stroke="#1a1a1a" stroke-width="1.1"/>
<rect x="1880.5" y="412.5" width="124.6" height="27.4" fill="#00bd00" stroke="#1a1a1a" stroke-width="1.1"/>
<rect x="1880.5" y="442.1" width="36.5" height="27.4" fill="#00bd00" stroke="#1a1a1a" stroke-width="1.1"/>
<rect x="1328.3" y="487.5" width="33.3" height="33.9" fill="#a2a2a6" stroke="#222" stroke-width="1.4"/>
<text x="1373.3" y="515.1" font-size="33.5">P56_WT</text>
<rect x="1603.5" y="487.5" width="33.3" height="33.9" fill="#ff4500" stroke="#222" stroke-width="1.4"/>
<text x="1648.3" y="515.1" font-size="33.5">P56_HU</text>
<rect x="1880.9" y="487.5" width="33.3" height="33.9" fill="#00bd00" stroke="#222" stroke-width="1.4"/>
<text x="1924.8" y="515.1" font-size="33.5">Human_28y</text>
<polygon points="138.7,808.9 139.1,805.1 140.2,801.4 141.9,797.6 143.8,793.8 145.7,790.1 147.3,786.3 148.7,782.5 149.6,778.8 150.3,775 150.7,771.2 151,767.5 151,763.7 151,759.9 151,756.1 151,752.4 151,748.6 151,744.8 151,741.1 151,737.3 151,733.5 151,729.8 151,726 151,722.2 151,718.5 151,714.7 151,710.9 151,707.2 151,703.4 151,699.6 151,695.9 151,692.1 151,688.3 151,684.6 151,680.8 151,677 151,673.2 151,669.5 151,665.7 151,661.9 151,658.2 151,654.4 151,650.6 151,646.9 151,643.1 151,639.3 151,635.6 151,631.8 151.4,631.8 151.4,635.6 151.4,639.3 151.4,643.1 151.4,646.9 151.4,650.6 151.4,654.4 151.4,658.2 151.4,661.9 151.4,665.7 151.4,669.5 151.4,673.2 151.4,677 151.4,680.8 151.4,684.6 151.4,688.3 151.4,692.1 151.4,695.9 151.4,699.6 151.4,703.4 151.4,707.2 151.4,710.9 151.4,714.7 151.4,718.5 151.4,722.2 151.4,726 151.4,729.8 151.4,733.5 151.4,737.3 151.4,741.1 151.4,744.8 151.4,748.6 151.4,752.4 151.4,756.1 151.4,759.9 151.4,763.7 151.4,767.5 151.7,771.2 152.1,775 152.8,778.8 153.7,782.5 155.1,786.3 156.7,790.1 158.6,793.8 160.5,797.6 162.2,801.4 163.3,805.1 163.7,808.9" fill="#8a8a8a" stroke="#2e2e2e" stroke-width="1.2" stroke-linejoin="round"/>
<polygon points="196.2,808.9 196.6,805.3 197.6,801.7 199.2,798 200.9,794.4 202.5,790.8 203.9,787.2 205,783.6 205.7,780 206.2,776.3 206.4,772.7 206.5,769.1 206.5,765.5 206.5,761.9 206.5,758.3 206.5,754.6 206.5,751 206.5,747.4 206.5,743.8 206.3,740.2 206.2,736.6 205.9,732.9 205.6,729.3 205.2,725.7 204.9,722.1 204.5,718.5 204.2,714.9 204,711.2 203.9,707.6 203.9,704 204.1,700.4 204.4,696.8 204.7,693.1 205.1,689.5 205.5,685.9 205.8,682.3 206.1,678.7 206.3,675.1 206.4,671.4 206.5,667.8 206.5,664.2 206.5,660.6 206.5,657 206.5,653.4 206.5,649.7 206.5,646.1 206.5,642.5 206.5,638.9 206.9,638.9 206.9,642.5 206.9,646.1 206.9,649.7 206.9,653.4 206.9,657 206.9,660.6 206.9,664.2 206.9,667.8 207,671.4 207.1,675.1 207.3,678.7 207.6,682.3 207.9,685.9 208.3,689.5 208.7,693.1 209,696.8 209.3,700.4 209.5,704 209.5,707.6 209.4,711.2 209.2,714.9 208.9,718.5 208.5,722.1 208.2,725.7 207.8,729.3 207.5,732.9 207.2,736.6 207.1,740.2 206.9,743.8 206.9,747.4 206.9,751 206.9,754.6 206.9,758.3 206.9,761.9 206.9,765.5 206.9,769.1 207,772.7 207.2,776.3 207.7,780 208.4,783.6 209.5,787.2 210.9,790.8 212.5,794.4 214.2,798 215.8,801.7 216.8,805.3 217.2,808.9" fill="#8a8a8a" stroke="#2e2e2e" stroke-width="1.2" stroke-linejoin="round"/>
<polygon points="252.5,808.9 252.8,805.6 253.8,802.4 255.1,799.1 256.7,795.9 258.2,792.6 259.6,789.3 260.7,786.1 261.5,782.8 262,779.5 262.3,776.3 262.5,773 262.5,769.8 262.5,766.5 262.5,763.2 262.5,760 262.5,756.7 262.5,753.4 262.5,750.2 262.3,746.9 262.1,743.7 261.8,740.4 261.5,737.1 261,733.9 260.6,730.6 260.1,727.3 259.7,724.1 259.4,720.8 259.2,717.6 259.2,714.3 259.4,711 259.7,707.8 260.1,704.5 260.5,701.2 261,698 261.4,694.7 261.8,691.5 262.1,688.2 262.3,684.9 262.4,681.7 262.5,678.4 262.5,675.2 262.5,671.9 262.5,668.6 262.5,665.4 262.5,662.1 262.5,658.8 262.5,655.6 262.9,655.6 262.9,658.8 262.9,662.1 262.9,665.4 262.9,668.6 262.9,671.9 262.9,675.2 262.9,678.4 263,681.7 263.1,684.9 263.3,688.2 263.6,691.5 264,694.7 264.4,698 264.9,701.2 265.3,704.5 265.7,707.8 266,711 266.2,714.3 266.2,717.6 266,720.8 265.7,724.1 265.3,727.3 264.8,730.6 264.4,733.9 263.9,737.1 263.6,740.4 263.3,743.7 263.1,746.9 262.9,750.2 262.9,753.4 262.9,756.7 262.9,760 262.9,763.2 262.9,766.5 262.9,769.8 262.9,773 263.1,776.3 263.4,779.5 263.9,782.8 264.7,786.1 265.8,789.3 267.2,792.6 268.7,795.9 270.3,799.1 271.6,802.4 272.6,805.6 272.9,808.9" fill="#8a8a8a" stroke="#2e2e2e" stroke-width="1.2" stroke-linejoin="round"/>
<polygon points="309.4,808.9 309.7,805.7 310.5,802.4 311.7,799.2 313.1,795.9 314.5,792.7 315.7,789.5 316.7,786.2 317.4,783 317.9,779.8 318.2,776.5 318.4,773.3 318.4,770 318.4,766.8 318.4,763.6 318.4,760.3 318.4,757.1 318.4,753.9 318.4,750.6 318.3,747.4 318.1,744.1 317.8,740.9 317.4,737.7 316.9,734.4 316.2,731.2 315.5,728 314.9,724.7 314.4,721.5 314.1,718.2 314.1,715 314.4,711.8 314.9,708.5 315.5,705.3 316.2,702.1 316.8,698.8 317.4,695.6 317.8,692.3 318.1,689.1 318.3,685.9 318.4,682.6 318.4,679.4 318.4,676.2 318.4,672.9 318.4,669.7 318.4,666.4 318.4,663.2 318.4,660 318.4,656.7 318.8,656.7 318.8,660 318.8,663.2 318.8,666.4 318.8,669.7 318.8,672.9 318.8,676.2 318.8,679.4 318.8,682.6 318.9,685.9 319.1,689.1 319.4,692.3 319.8,695.6 320.4,698.8 321,702.1 321.7,705.3 322.3,708.5 322.8,711.8 323.1,715 323.1,718.2 322.8,721.5 322.3,724.7 321.7,728 321,731.2 320.3,734.4 319.8,737.7 319.4,740.9 319.1,744.1 318.9,747.4 318.8,750.6 318.8,753.9 318.8,757.1 318.8,760.3 318.8,763.6 318.8,766.8 318.8,770 318.8,773.3 319,776.5 319.3,779.8 319.8,783 320.5,786.2 321.5,789.5 322.7,792.7 324.1,795.9 325.5,799.2 326.7,802.4 327.5,805.7 327.8,808.9" fill="#8a8a8a" stroke="#2e2e2e" stroke-width="1.2" stroke-linejoin="round"/>
<polygon points="366.1,808.9 366.4,805.8 367.2,802.7 368.3,799.5 369.6,796.4 371,793.3 372.2,790.2 373.1,787 373.8,783.9 374.3,780.8 374.6,777.7 374.8,774.6 374.8,771.4 374.8,768.3 374.8,765.2 374.8,762.1 374.8,758.9 374.8,755.8 374.7,752.7 374.5,749.6 374.2,746.5 373.8,743.3 373.3,740.2 372.7,737.1 372,734 371.4,730.8 370.8,727.7 370.4,724.6 370.2,721.5 370.3,718.4 370.6,715.2 371.2,712.1 371.8,709 372.5,705.9 373.1,702.7 373.7,699.6 374.1,696.5 374.5,693.4 374.7,690.3 374.8,687.1 374.8,684 374.8,680.9 374.8,677.8 374.8,674.6 374.8,671.5 374.8,668.4 374.8,665.3 374.8,662.1 375.2,662.1 375.2,665.3 375.2,668.4 375.2,671.5 375.2,674.6 375.2,677.8 375.2,680.9 375.2,684 375.2,687.1 375.3,690.3 375.5,693.4 375.9,696.5 376.3,699.6 376.9,702.7 377.5,705.9 378.2,709 378.8,712.1 379.4,715.2 379.7,718.4 379.8,721.5 379.6,724.6 379.2,727.7 378.6,730.8 378,734 377.3,737.1 376.7,740.2 376.2,743.3 375.8,746.5 375.5,749.6 375.3,752.7 375.2,755.8 375.2,758.9 375.2,762.1 375.2,765.2 375.2,768.3 375.2,771.4 375.2,774.6 375.4,777.7 375.7,780.8 376.2,783.9 376.9,787 377.8,790.2 379,793.3 380.4,796.4 381.7,799.5 382.8,802.7 383.6,805.8 383.9,808.9" fill="#8a8a8a" stroke="#2e2e2e" stroke-width="1.2" stroke-linejoin="round"/>
<polygon points="422,808.9 422.3,805.8 423.1,802.7 424.2,799.6 425.6,796.5 426.9,793.4 428.1,790.3 429.1,787.2 429.8,784 430.3,780.9 430.6,777.8 430.8,774.7 430.8,771.6 430.8,768.5 430.8,765.4 430.8,762.3 430.8,759.2 430.8,756.1 430.8,753 430.6,749.9 430.3,746.8 430,743.7 429.5,740.6 428.9,737.4 428.2,734.3 427.6,731.2 427,728.1 426.5,725 426.3,721.9 426.4,718.8 426.7,715.7 427.2,712.6 427.8,709.5 428.5,706.4 429.1,703.3 429.7,700.2 430.1,697.1 430.5,693.9 430.7,690.8 430.8,687.7 430.8,684.6 430.8,681.5 430.8,678.4 430.8,675.3 430.8,672.2 430.8,669.1 430.8,666 430.8,662.9 431.2,662.9 431.2,666 431.2,669.1 431.2,672.2 431.2,675.3 431.2,678.4 431.2,681.5 431.2,684.6 431.2,687.7 431.3,690.8 431.5,693.9 431.9,697.1 432.3,700.2 432.9,703.3 433.5,706.4 434.2,709.5 434.8,712.6 435.3,715.7 435.6,718.8 435.7,721.9 435.5,725 435,728.1 434.4,731.2 433.8,734.3 433.1,737.4 432.5,740.6 432,743.7 431.7,746.8 431.4,749.9 431.2,753 431.2,756.1 431.2,759.2 431.2,762.3 431.2,765.4 431.2,768.5 431.2,771.6 431.2,774.7 431.4,777.8 431.7,780.9 432.2,784 432.9,787.2 433.9,790.3 435.1,793.4 436.4,796.5 437.8,799.6 438.9,802.7 439.7,805.8 440,808.9" fill="#8a8a8a" stroke="#2e2e2e" stroke-width="1.2" stroke-linejoin="round"/>
<polygon points="476.2,808.9 476.5,805.7 477.5,802.5 478.9,799.3 480.6,796.1 482.2,792.9 483.6,789.7 484.7,786.5 485.5,783.2 486.1,780 486.4,776.8 486.6,773.6 486.6,770.4 486.6,767.2 486.6,764 486.6,760.8 486.6,757.6 486.6,754.4 486.6,751.2 486.6,748 486.6,744.8 486.6,741.6 486.4,738.4 486.1,735.1 485.8,731.9 485.4,728.7 484.9,725.5 484.4,722.3 484,719.1 483.7,715.9 483.5,712.7 483.6,709.5 483.8,706.3 484.2,703.1 484.6,699.9 485.1,696.7 485.6,693.5 486,690.3 486.3,687 486.5,683.8 486.6,680.6 486.6,677.4 486.6,674.2 486.6,671 486.6,667.8 486.6,664.6 486.6,661.4 486.6,658.2 487,658.2 487,661.4 487,664.6 487,667.8 487,671 487,674.2 487,677.4 487,680.6 487.1,683.8 487.3,687 487.6,690.3 488,693.5 488.5,696.7 489,699.9 489.4,703.1 489.8,706.3 490,709.5 490.1,712.7 489.9,715.9 489.6,719.1 489.2,722.3 488.7,725.5 488.2,728.7 487.8,731.9 487.5,735.1 487.2,738.4 487,741.6 487,744.8 487,748 487,751.2 487,754.4 487,757.6 487,760.8 487,764 487,767.2 487,770.4 487,773.6 487.2,776.8 487.5,780 488.1,783.2 488.9,786.5 490,789.7 491.4,792.9 493,796.1 494.7,799.3 496.1,802.5 497.1,805.7 497.4,808.9" fill="#8a8a8a" stroke="#2e2e2e" stroke-width="1.2" stroke-linejoin="round"/>
<polygon points="532,808.9 532.4,805.2 533.6,801.6 535.3,797.9 537.1,794.3 538.8,790.6 540.2,787 541.2,783.3 541.9,779.7 542.3,776 542.5,772.4 542.5,768.7 542.5,765.1 542.5,761.4 542.5,757.8 542.5,754.1 542.5,750.5 542.5,746.8 542.3,743.2 542.1,739.5 541.8,735.9 541.4,732.2 541,728.6 540.5,724.9 540.1,721.3 539.8,717.6 539.7,714 539.8,710.3 540,706.7 540.4,703 540.8,699.4 541.3,695.7 541.7,692.1 542,688.4 542.3,684.8 542.4,681.1 542.5,677.5 542.5,673.8 542.5,670.2 542.5,666.5 542.5,662.9 542.5,659.2 542.5,655.6 542.5,651.9 542.5,648.3 542.5,644.6 542.5,641 542.5,637.3 542.9,637.3 542.9,641 542.9,644.6 542.9,648.3 542.9,651.9 542.9,655.6 542.9,659.2 542.9,662.9 542.9,666.5 542.9,670.2 542.9,673.8 542.9,677.5 543,681.1 543.1,684.8 543.4,688.4 543.7,692.1 544.1,695.7 544.6,699.4 545,703 545.4,706.7 545.6,710.3 545.7,714 545.6,717.6 545.3,721.3 544.9,724.9 544.4,728.6 544,732.2 543.6,735.9 543.3,739.5 543.1,743.2 542.9,746.8 542.9,750.5 542.9,754.1 542.9,757.8 542.9,761.4 542.9,765.1 542.9,768.7 542.9,772.4 543.1,776 543.5,779.7 544.2,783.3 545.2,787 546.6,790.6 548.3,794.3 550.1,797.9 551.8,801.6 553,805.2 553.4,808.9" fill="#8a8a8a" stroke="#2e2e2e" stroke-width="1.2" stroke-linejoin="round"/>
<polygon points="589.4,808.9 589.7,805.6 590.7,802.2 592.1,798.9 593.6,795.6 595.2,792.3 596.5,788.9 597.5,785.6 598.2,782.3 598.7,778.9 599,775.6 599.1,772.3 599.1,769 599.1,765.6 599.1,762.3 599.1,759 599.1,755.6 599.1,752.3 599.1,749 599,745.7 598.8,742.3 598.5,739 598.2,735.7 597.8,732.3 597.3,729 596.8,725.7 596.4,722.4 596.1,719 596,715.7 596.1,712.4 596.3,709 596.6,705.7 597.1,702.4 597.5,699.1 598,695.7 598.4,692.4 598.7,689.1 598.9,685.7 599.1,682.4 599.1,679.1 599.1,675.8 599.1,672.4 599.1,669.1 599.1,665.8 599.1,662.4 599.1,659.1 599.1,655.8 599.1,652.5 599.5,652.5 599.5,655.8 599.5,659.1 599.5,662.4 599.5,665.8 599.5,669.1 599.5,672.4 599.5,675.8 599.5,679.1 599.5,682.4 599.7,685.7 599.9,689.1 600.2,692.4 600.6,695.7 601.1,699.1 601.5,702.4 602,705.7 602.3,709 602.5,712.4 602.6,715.7 602.5,719 602.2,722.4 601.8,725.7 601.3,729 600.8,732.3 600.4,735.7 600.1,739 599.8,742.3 599.6,745.7 599.5,749 599.5,752.3 599.5,755.6 599.5,759 599.5,762.3 599.5,765.6 599.5,769 599.5,772.3 599.6,775.6 599.9,778.9 600.4,782.3 601.1,785.6 602.1,788.9 603.4,792.3 605,795.6 606.5,798.9 607.9,802.2 608.9,805.6 609.2,808.9" fill="#8a8a8a" stroke="#2e2e2e" stroke-width="1.2" stroke-linejoin="round"/>
<polygon points="646.4,808.9 646.6,805.9 647.4,803 648.4,800 649.6,797 650.9,794 652.1,791.1 653,788.1 653.8,785.1 654.3,782.1 654.7,779.2 654.9,776.2 655,773.2 655,770.2 655,767.3 655,764.3 655,761.3 655,758.3 655,755.4 654.9,752.4 654.8,749.4 654.5,746.5 654.2,743.5 653.8,740.5 653.3,737.5 652.7,734.6 652.2,731.6 651.6,728.6 651.2,725.6 650.9,722.7 650.8,719.7 650.9,716.7 651.2,713.7 651.6,710.8 652.1,707.8 652.7,704.8 653.3,701.8 653.8,698.9 654.2,695.9 654.5,692.9 654.8,690 654.9,687 655,684 655,681 655,678.1 655,675.1 655,672.1 655,669.1 655.4,669.1 655.4,672.1 655.4,675.1 655.4,678.1 655.4,681 655.4,684 655.5,687 655.6,690 655.9,692.9 656.2,695.9 656.6,698.9 657.1,701.8 657.7,704.8 658.3,707.8 658.8,710.8 659.2,713.7 659.5,716.7 659.6,719.7 659.5,722.7 659.2,725.6 658.8,728.6 658.2,731.6 657.7,734.6 657.1,737.5 656.6,740.5 656.2,743.5 655.9,746.5 655.6,749.4 655.5,752.4 655.4,755.4 655.4,758.3 655.4,761.3 655.4,764.3 655.4,767.3 655.4,770.2 655.4,773.2 655.5,776.2 655.7,779.2 656.1,782.1 656.6,785.1 657.4,788.1 658.3,791.1 659.5,794 660.8,797 662,800 663,803 663.8,805.9 664,808.9" fill="#8a8a8a" stroke="#2e2e2e" stroke-width="1.2" stroke-linejoin="round"/>
<polygon points="699.9,808.9 700.3,805.5 701.3,802.2 702.7,798.8 704.4,795.4 706.1,792 707.6,788.7 708.8,785.3 709.6,781.9 710.2,778.6 710.6,775.2 710.8,771.8 710.8,768.4 710.8,765.1 710.8,761.7 710.8,758.3 710.8,755 710.8,751.6 710.8,748.2 710.8,744.9 710.7,741.5 710.5,738.1 710.3,734.7 710.1,731.4 709.8,728 709.4,724.6 709.1,721.3 708.8,717.9 708.6,714.5 708.5,711.1 708.5,707.8 708.7,704.4 708.9,701 709.2,697.7 709.5,694.3 709.9,690.9 710.2,687.5 710.4,684.2 710.6,680.8 710.7,677.4 710.8,674.1 710.8,670.7 710.8,667.3 710.8,664 710.8,660.6 710.8,657.2 710.8,653.8 710.8,650.5 711.2,650.5 711.2,653.8 711.2,657.2 711.2,660.6 711.2,664 711.2,667.3 711.2,670.7 711.2,674.1 711.3,677.4 711.4,680.8 711.6,684.2 711.8,687.5 712.1,690.9 712.5,694.3 712.8,697.7 713.1,701 713.3,704.4 713.5,707.8 713.5,711.1 713.4,714.5 713.2,717.9 712.9,721.3 712.6,724.6 712.2,728 711.9,731.4 711.7,734.7 711.5,738.1 711.3,741.5 711.2,744.9 711.2,748.2 711.2,751.6 711.2,755 711.2,758.3 711.2,761.7 711.2,765.1 711.2,768.4 711.2,771.8 711.4,775.2 711.8,778.6 712.4,781.9 713.2,785.3 714.4,788.7 715.9,792 717.6,795.4 719.3,798.8 720.7,802.2 721.7,805.5 722.1,808.9" fill="#8a8a8a" stroke="#2e2e2e" stroke-width="1.2" stroke-linejoin="round"/>
<polygon points="755.5,808.9 755.9,805.3 757,801.8 758.6,798.2 760.4,794.7 762.2,791.1 763.8,787.5 765,784 765.8,780.4 766.4,776.9 766.7,773.3 766.9,769.7 766.9,766.2 766.9,762.6 766.9,759.1 766.9,755.5 766.9,751.9 766.9,748.4 766.9,744.8 766.8,741.3 766.7,737.7 766.5,734.2 766.2,730.6 765.9,727 765.6,723.5 765.3,719.9 765.1,716.4 764.9,712.8 764.8,709.2 764.8,705.7 765,702.1 765.2,698.6 765.5,695 765.9,691.4 766.2,687.9 766.4,684.3 766.6,680.8 766.8,677.2 766.9,673.6 766.9,670.1 766.9,666.5 766.9,663 766.9,659.4 766.9,655.8 766.9,652.3 766.9,648.7 766.9,645.2 766.9,641.6 767.3,641.6 767.3,645.2 767.3,648.7 767.3,652.3 767.3,655.8 767.3,659.4 767.3,663 767.3,666.5 767.3,670.1 767.3,673.6 767.4,677.2 767.6,680.8 767.8,684.3 768,687.9 768.3,691.4 768.7,695 769,698.6 769.2,702.1 769.4,705.7 769.4,709.2 769.3,712.8 769.1,716.4 768.9,719.9 768.6,723.5 768.3,727 768,730.6 767.7,734.2 767.5,737.7 767.4,741.3 767.3,744.8 767.3,748.4 767.3,751.9 767.3,755.5 767.3,759.1 767.3,762.6 767.3,766.2 767.3,769.7 767.5,773.3 767.8,776.9 768.4,780.4 769.2,784 770.4,787.5 772,791.1 773.8,794.7 775.6,798.2 777.2,801.8 778.3,805.3 778.7,808.9" fill="#8a8a8a" stroke="#2e2e2e" stroke-width="1.2" stroke-linejoin="round"/>
<polygon points="813.2,808.9 813.5,805.7 814.4,802.5 815.6,799.2 817.1,796 818.6,792.8 819.9,789.6 821,786.3 821.8,783.1 822.4,779.9 822.7,776.7 823,773.5 823,770.2 823,767 823,763.8 823,760.6 823,757.3 823,754.1 823,750.9 823,747.7 823,744.5 822.8,741.2 822.6,738 822.3,734.8 822,731.6 821.5,728.3 821.1,725.1 820.6,721.9 820.3,718.7 820,715.5 819.9,712.2 820,709 820.2,705.8 820.5,702.6 821,699.3 821.4,696.1 821.9,692.9 822.2,689.7 822.5,686.5 822.8,683.2 822.9,680 823,676.8 823,673.6 823,670.3 823,667.1 823,663.9 823,660.7 823,657.5 823.4,657.5 823.4,660.7 823.4,663.9 823.4,667.1 823.4,670.3 823.4,673.6 823.4,676.8 823.5,680 823.6,683.2 823.9,686.5 824.2,689.7 824.5,692.9 825,696.1 825.4,699.3 825.9,702.6 826.2,705.8 826.4,709 826.5,712.2 826.4,715.5 826.1,718.7 825.8,721.9 825.3,725.1 824.9,728.3 824.4,731.6 824.1,734.8 823.8,738 823.6,741.2 823.4,744.5 823.4,747.7 823.4,750.9 823.4,754.1 823.4,757.3 823.4,760.6 823.4,763.8 823.4,767 823.4,770.2 823.4,773.5 823.7,776.7 824,779.9 824.6,783.1 825.4,786.3 826.5,789.6 827.8,792.8 829.3,796 830.8,799.2 832,802.5 832.9,805.7 833.2,808.9" fill="#8a8a8a" stroke="#2e2e2e" stroke-width="1.2" stroke-linejoin="round"/>
<polygon points="867.3,808.9 867.7,805.4 868.7,801.9 870.2,798.5 872,795 873.7,791.5 875.3,788 876.6,784.5 877.5,781 878.2,777.6 878.6,774.1 878.8,770.6 878.9,767.1 878.9,763.6 878.9,760.2 878.9,756.7 878.9,753.2 878.9,749.7 878.9,746.2 878.9,742.7 878.8,739.3 878.6,735.8 878.5,732.3 878.3,728.8 878.1,725.3 877.9,721.9 877.8,718.4 877.7,714.9 877.6,711.4 877.6,707.9 877.7,704.4 877.8,701 878,697.5 878.1,694 878.3,690.5 878.5,687 878.7,683.6 878.8,680.1 878.9,676.6 878.9,673.1 878.9,669.6 878.9,666.1 878.9,662.7 878.9,659.2 878.9,655.7 878.9,652.2 878.9,648.7 878.9,645.3 879.3,645.3 879.3,648.7 879.3,652.2 879.3,655.7 879.3,659.2 879.3,662.7 879.3,666.1 879.3,669.6 879.3,673.1 879.3,676.6 879.4,680.1 879.5,683.6 879.7,687 879.9,690.5 880.1,694 880.2,697.5 880.4,701 880.5,704.4 880.6,707.9 880.6,711.4 880.5,714.9 880.4,718.4 880.3,721.9 880.1,725.3 879.9,728.8 879.7,732.3 879.6,735.8 879.4,739.3 879.3,742.7 879.3,746.2 879.3,749.7 879.3,753.2 879.3,756.7 879.3,760.2 879.3,763.6 879.3,767.1 879.4,770.6 879.6,774.1 880,777.6 880.7,781 881.6,784.5 882.9,788 884.5,791.5 886.2,795 888,798.5 889.5,801.9 890.5,805.4 890.9,808.9" fill="#8a8a8a" stroke="#2e2e2e" stroke-width="1.2" stroke-linejoin="round"/>
<polygon points="922.6,808.9 923,805.2 924.2,801.5 925.8,797.8 927.8,794.1 929.7,790.3 931.4,786.6 932.7,782.9 933.7,779.2 934.4,775.5 934.8,771.8 935.1,768.1 935.1,764.4 935.1,760.7 935.1,757 935.1,753.2 935.1,749.5 935.1,745.8 935.1,742.1 935.1,738.4 935.1,734.7 935.1,731 935.1,727.3 935.1,723.6 935.1,719.8 935.1,716.1 935.1,712.4 935.1,708.7 935.1,705 935.1,701.3 935.1,697.6 935.1,693.9 935.1,690.2 935.1,686.5 935.1,682.7 935.1,679 935.1,675.3 935.1,671.6 935.1,667.9 935.1,664.2 935.1,660.5 935.1,656.8 935.1,653.1 935.1,649.4 935.1,645.6 935.1,641.9 935.1,638.2 935.1,634.5 935.5,634.5 935.5,638.2 935.5,641.9 935.5,645.6 935.5,649.4 935.5,653.1 935.5,656.8 935.5,660.5 935.5,664.2 935.5,667.9 935.5,671.6 935.5,675.3 935.5,679 935.5,682.7 935.5,686.5 935.5,690.2 935.5,693.9 935.5,697.6 935.5,701.3 935.5,705 935.5,708.7 935.5,712.4 935.5,716.1 935.5,719.8 935.5,723.6 935.5,727.3 935.5,731 935.5,734.7 935.5,738.4 935.5,742.1 935.5,745.8 935.5,749.5 935.5,753.2 935.5,757 935.5,760.7 935.5,764.4 935.5,768.1 935.8,771.8 936.2,775.5 936.9,779.2 937.9,782.9 939.2,786.6 940.9,790.3 942.8,794.1 944.8,797.8 946.4,801.5 947.6,805.2 948,808.9" fill="#8a8a8a" stroke="#2e2e2e" stroke-width="1.2" stroke-linejoin="round"/>
<polygon points="979.8,808.9 980.2,805.5 981.2,802.1 982.6,798.6 984.4,795.2 986.1,791.8 987.6,788.4 988.8,784.9 989.7,781.5 990.3,778.1 990.7,774.7 991,771.3 991,767.8 991,764.4 991,761 991,757.6 991,754.1 991,750.7 991,747.3 991,743.9 991,740.5 991,737 991,733.6 990.9,730.2 990.7,726.8 990.6,723.4 990.4,719.9 990.2,716.5 990,713.1 989.8,709.7 989.7,706.2 989.6,702.8 989.6,699.4 989.7,696 989.8,692.6 990,689.1 990.2,685.7 990.4,682.3 990.6,678.9 990.7,675.4 990.9,672 991,668.6 991,665.2 991,661.8 991,658.3 991,654.9 991,651.5 991,648.1 991.4,648.1 991.4,651.5 991.4,654.9 991.4,658.3 991.4,661.8 991.4,665.2 991.4,668.6 991.5,672 991.7,675.4 991.8,678.9 992,682.3 992.2,685.7 992.4,689.1 992.6,692.6 992.7,696 992.8,699.4 992.8,702.8 992.7,706.2 992.6,709.7 992.4,713.1 992.2,716.5 992,719.9 991.8,723.4 991.7,726.8 991.5,730.2 991.4,733.6 991.4,737 991.4,740.5 991.4,743.9 991.4,747.3 991.4,750.7 991.4,754.1 991.4,757.6 991.4,761 991.4,764.4 991.4,767.8 991.4,771.3 991.7,774.7 992.1,778.1 992.7,781.5 993.6,784.9 994.8,788.4 996.3,791.8 998,795.2 999.8,798.6 1001.2,802.1 1002.2,805.5 1002.6,808.9" fill="#8a8a8a" stroke="#2e2e2e" stroke-width="1.2" stroke-linejoin="round"/>
<polygon points="122.3,808.9 122.8,804.9 124.1,800.9 125.7,796.9 127.4,792.9 128.7,788.9 129.6,784.9 130.1,780.9 130.4,776.9 130.4,772.9 130.4,769 130.4,765 130.4,761 130.4,757 130.4,753 130.4,749 130.4,745 130.4,741 130.4,737 130.4,733 130.4,729 130.4,725 130.4,721 130.4,717 130.2,713 129.8,709 129.4,705 128.8,701 128.1,697.1 127.6,693.1 127.1,689.1 127,685.1 127.1,681.1 127.5,677.1 128.1,673.1 128.7,669.1 129.3,665.1 129.8,661.1 130.1,657.1 130.3,653.1 130.4,649.1 130.4,645.1 130.4,641.1 130.4,637.1 130.4,633.1 130.4,629.1 130.4,625.2 130.4,621.2 130.8,621.2 130.8,625.2 130.8,629.1 130.8,633.1 130.8,637.1 130.8,641.1 130.8,645.1 130.8,649.1 130.9,653.1 131.1,657.1 131.4,661.1 131.9,665.1 132.5,669.1 133.1,673.1 133.7,677.1 134.1,681.1 134.2,685.1 134.1,689.1 133.6,693.1 133.1,697.1 132.4,701 131.8,705 131.4,709 131,713 130.8,717 130.8,721 130.8,725 130.8,729 130.8,733 130.8,737 130.8,741 130.8,745 130.8,749 130.8,753 130.8,757 130.8,761 130.8,765 130.8,769 130.8,772.9 130.8,776.9 131.1,780.9 131.6,784.9 132.5,788.9 133.8,792.9 135.5,796.9 137.1,800.9 138.4,804.9 138.8,808.9" fill="#ff4a06" stroke="#2e2e2e" stroke-width="1.2" stroke-linejoin="round"/>
<polygon points="181.4,808.9 181.8,804.9 182.8,800.9 184,796.9 185.2,792.9 186,788.9 186.5,784.9 186.8,780.9 186.8,776.9 186.8,772.9 186.8,769 186.8,765 186.8,761 186.8,757 186.8,753 186.8,749 186.8,745 186.8,741 186.6,737 186.3,733 185.8,729 185.2,725 184.4,721 183.6,717 182.6,713 181.8,709 181.2,705 180.8,701 180.9,697.1 181.3,693.1 181.9,689.1 182.8,685.1 183.7,681.1 184.6,677.1 185.3,673.1 185.9,669.1 186.3,665.1 186.6,661.1 186.8,657.1 186.8,653.1 186.8,649.1 186.8,645.1 186.8,641.1 186.8,637.1 186.8,633.1 186.8,629.1 186.8,625.2 186.8,621.2 187.2,621.2 187.2,625.2 187.2,629.1 187.2,633.1 187.2,637.1 187.2,641.1 187.2,645.1 187.2,649.1 187.2,653.1 187.2,657.1 187.4,661.1 187.7,665.1 188.1,669.1 188.7,673.1 189.4,677.1 190.3,681.1 191.2,685.1 192.1,689.1 192.7,693.1 193.1,697.1 193.2,701 192.8,705 192.2,709 191.4,713 190.4,717 189.6,721 188.8,725 188.2,729 187.7,733 187.4,737 187.2,741 187.2,745 187.2,749 187.2,753 187.2,757 187.2,761 187.2,765 187.2,769 187.2,772.9 187.2,776.9 187.2,780.9 187.5,784.9 188,788.9 188.8,792.9 190,796.9 191.2,800.9 192.2,804.9 192.6,808.9" fill="#ff4a06" stroke="#2e2e2e" stroke-width="1.2" stroke-linejoin="round"/>
<polygon points="237.9,808.9 238.2,804.9 239.1,800.9 240.2,796.9 241.3,792.9 242.1,788.9 242.6,784.9 243,780.9 243,776.9 243,772.9 243,769 243,765 243,761 243,757 243,753 243,749 243,745 242.9,741 242.6,737 242.1,733 241.4,729 240.5,725 239.4,721 238.3,717 237.3,713 236.6,709 236.5,705 236.8,701 237.6,697.1 238.6,693.1 239.7,689.1 240.8,685.1 241.6,681.1 242.3,677.1 242.7,673.1 242.9,669.1 243,665.1 243,661.1 243,657.1 243,653.1 243,649.1 243,645.1 243,641.1 243,637.1 243,633.1 243,629.1 243,625.2 243,621.2 243.4,621.2 243.4,625.2 243.4,629.1 243.4,633.1 243.4,637.1 243.4,641.1 243.4,645.1 243.4,649.1 243.4,653.1 243.4,657.1 243.4,661.1 243.4,665.1 243.5,669.1 243.7,673.1 244.1,677.1 244.8,681.1 245.6,685.1 246.7,689.1 247.8,693.1 248.8,697.1 249.6,701 249.9,705 249.8,709 249.1,713 248.1,717 247,721 245.9,725 245,729 244.3,733 243.8,737 243.5,741 243.4,745 243.4,749 243.4,753 243.4,757 243.4,761 243.4,765 243.4,769 243.4,772.9 243.4,776.9 243.4,780.9 243.8,784.9 244.3,788.9 245.1,792.9 246.2,796.9 247.3,800.9 248.2,804.9 248.5,808.9" fill="#ff4a06" stroke="#2e2e2e" stroke-width="1.2" stroke-linejoin="round"/>
<polygon points="295.1,808.9 295.3,805.1 295.8,801.2 296.6,797.4 297.3,793.5 298,789.7 298.5,785.8 298.8,782 298.9,778.1 298.9,774.3 298.9,770.4 298.9,766.6 298.9,762.7 298.9,758.9 298.9,755 298.9,751.2 298.9,747.3 298.7,743.5 298.4,739.6 297.9,735.8 297.2,731.9 296.2,728.1 295,724.2 293.7,720.4 292.5,716.5 291.5,712.7 291,708.9 291,705 291.6,701.2 292.5,697.3 293.8,693.5 295,689.6 296.2,685.8 297.2,681.9 297.9,678.1 298.4,674.2 298.7,670.4 298.9,666.5 298.9,662.7 298.9,658.8 298.9,655 298.9,651.1 298.9,647.3 298.9,643.4 298.9,639.6 298.9,635.7 298.9,631.9 298.9,628 299.3,628 299.3,631.9 299.3,635.7 299.3,639.6 299.3,643.4 299.3,647.3 299.3,651.1 299.3,655 299.3,658.8 299.3,662.7 299.3,666.5 299.5,670.4 299.8,674.2 300.3,678.1 301,681.9 302,685.8 303.2,689.6 304.4,693.5 305.7,697.3 306.6,701.2 307.2,705 307.2,708.9 306.7,712.7 305.7,716.5 304.5,720.4 303.2,724.2 302,728.1 301,731.9 300.3,735.8 299.8,739.6 299.5,743.5 299.3,747.3 299.3,751.2 299.3,755 299.3,758.9 299.3,762.7 299.3,766.6 299.3,770.4 299.3,774.3 299.3,778.1 299.4,782 299.7,785.8 300.2,789.7 300.9,793.5 301.6,797.4 302.4,801.2 302.9,805.1 303.1,808.9" fill="#ff4a06" stroke="#2e2e2e" stroke-width="1.2" stroke-linejoin="round"/>
<polygon points="352.3,808.9 352.4,805.3 352.7,801.7 353,798.2 353.5,794.6 353.9,791 354.3,787.4 354.6,783.8 354.8,780.3 355,776.7 355,773.1 355,769.5 355,765.9 355,762.4 355,758.8 355,755.2 355,751.6 355,748 354.9,744.5 354.7,740.9 354.3,737.3 353.7,733.7 352.9,730.2 351.8,726.6 350.5,723 349.2,719.4 347.9,715.8 347,712.3 346.5,708.7 346.5,705.1 347.1,701.5 348.1,697.9 349.3,694.4 350.7,690.8 351.9,687.2 353,683.6 353.8,680 354.4,676.5 354.7,672.9 355,669.3 355,665.7 355,662.1 355,658.6 355,655 355,651.4 355,647.8 355,644.2 355,640.7 355.4,640.7 355.4,644.2 355.4,647.8 355.4,651.4 355.4,655 355.4,658.6 355.4,662.1 355.4,665.7 355.4,669.3 355.7,672.9 356,676.5 356.6,680 357.4,683.6 358.5,687.2 359.7,690.8 361.1,694.4 362.3,697.9 363.3,701.5 363.9,705.1 363.9,708.7 363.4,712.3 362.5,715.8 361.2,719.4 359.9,723 358.6,726.6 357.5,730.2 356.7,733.7 356.1,737.3 355.7,740.9 355.5,744.5 355.4,748 355.4,751.6 355.4,755.2 355.4,758.8 355.4,762.4 355.4,765.9 355.4,769.5 355.4,773.1 355.4,776.7 355.6,780.3 355.8,783.8 356.1,787.4 356.5,791 356.9,794.6 357.4,798.2 357.7,801.7 358,805.3 358.1,808.9" fill="#ff4a06" stroke="#2e2e2e" stroke-width="1.2" stroke-linejoin="round"/>
<polygon points="407.9,808.9 408,805.4 408.3,802 408.8,798.5 409.3,795 409.8,791.5 410.3,788.1 410.6,784.6 410.9,781.1 411,777.7 411,774.2 411,770.7 411,767.3 411,763.8 411,760.3 411,756.8 411,753.4 411,749.9 410.9,746.4 410.7,743 410.3,739.5 409.8,736 409,732.5 408,729.1 406.8,725.6 405.5,722.1 404.3,718.7 403.2,715.2 402.6,711.7 402.4,708.2 402.7,704.8 403.5,701.3 404.6,697.8 405.9,694.4 407.2,690.9 408.3,687.4 409.2,684 409.9,680.5 410.4,677 410.8,673.5 411,670.1 411,666.6 411,663.1 411,659.7 411,656.2 411,652.7 411,649.2 411,645.8 411.4,645.8 411.4,649.2 411.4,652.7 411.4,656.2 411.4,659.7 411.4,663.1 411.4,666.6 411.4,670.1 411.6,673.5 412,677 412.5,680.5 413.2,684 414.1,687.4 415.2,690.9 416.5,694.4 417.8,697.8 418.9,701.3 419.7,704.8 420,708.2 419.8,711.7 419.2,715.2 418.1,718.7 416.9,722.1 415.6,725.6 414.4,729.1 413.4,732.5 412.6,736 412.1,739.5 411.7,743 411.5,746.4 411.4,749.9 411.4,753.4 411.4,756.8 411.4,760.3 411.4,763.8 411.4,767.3 411.4,770.7 411.4,774.2 411.4,777.7 411.5,781.1 411.8,784.6 412.1,788.1 412.6,791.5 413.1,795 413.6,798.5 414.1,802 414.4,805.4 414.5,808.9" fill="#ff4a06" stroke="#2e2e2e" stroke-width="1.2" stroke-linejoin="round"/>
<polygon points="461.8,808.9 462.1,805.1 462.8,801.3 463.8,797.4 464.8,793.6 465.7,789.8 466.3,786 466.7,782.1 466.9,778.3 466.9,774.5 466.9,770.7 466.9,766.8 466.9,763 466.9,759.2 466.9,755.4 466.9,751.5 466.9,747.7 466.9,743.9 466.8,740.1 466.6,736.3 466.2,732.4 465.7,728.6 464.9,724.8 463.9,721 462.8,717.1 461.8,713.3 460.8,709.5 460.3,705.7 460.1,701.8 460.4,698 461.1,694.2 462.1,690.4 463.2,686.5 464.3,682.7 465.2,678.9 465.9,675.1 466.4,671.3 466.7,667.4 466.9,663.6 466.9,659.8 466.9,656 466.9,652.1 466.9,648.3 466.9,644.5 466.9,640.7 466.9,636.8 466.9,633 466.9,629.2 467.3,629.2 467.3,633 467.3,636.8 467.3,640.7 467.3,644.5 467.3,648.3 467.3,652.1 467.3,656 467.3,659.8 467.3,663.6 467.5,667.4 467.8,671.3 468.3,675.1 469,678.9 469.9,682.7 471,686.5 472.1,690.4 473.1,694.2 473.8,698 474.1,701.8 473.9,705.7 473.4,709.5 472.4,713.3 471.4,717.1 470.3,721 469.3,724.8 468.5,728.6 468,732.4 467.6,736.3 467.4,740.1 467.3,743.9 467.3,747.7 467.3,751.5 467.3,755.4 467.3,759.2 467.3,763 467.3,766.8 467.3,770.7 467.3,774.5 467.3,778.3 467.5,782.1 467.9,786 468.5,789.8 469.4,793.6 470.4,797.4 471.4,801.3 472.1,805.1 472.4,808.9" fill="#ff4a06" stroke="#2e2e2e" stroke-width="1.2" stroke-linejoin="round"/>
<polygon points="518.6,808.9 518.9,804.9 519.5,800.9 520.4,796.9 521.4,792.9 522.1,788.9 522.7,784.9 523,780.9 523.1,776.9 523.1,772.9 523.1,769 523.1,765 523.1,761 523.1,757 523.1,753 523.1,749 523.1,745 523.1,741 522.9,737 522.5,733 522,729 521.2,725 520.3,721 519.2,717 518.1,713 517.1,709 516.4,705 516.2,701 516.4,697.1 517.1,693.1 518.1,689.1 519.2,685.1 520.3,681.1 521.2,677.1 522,673.1 522.5,669.1 522.9,665.1 523.1,661.1 523.1,657.1 523.1,653.1 523.1,649.1 523.1,645.1 523.1,641.1 523.1,637.1 523.1,633.1 523.1,629.1 523.1,625.2 523.1,621.2 523.5,621.2 523.5,625.2 523.5,629.1 523.5,633.1 523.5,637.1 523.5,641.1 523.5,645.1 523.5,649.1 523.5,653.1 523.5,657.1 523.5,661.1 523.7,665.1 524.1,669.1 524.6,673.1 525.4,677.1 526.3,681.1 527.4,685.1 528.5,689.1 529.5,693.1 530.2,697.1 530.4,701 530.2,705 529.5,709 528.5,713 527.4,717 526.3,721 525.4,725 524.6,729 524.1,733 523.7,737 523.5,741 523.5,745 523.5,749 523.5,753 523.5,757 523.5,761 523.5,765 523.5,769 523.5,772.9 523.5,776.9 523.6,780.9 523.9,784.9 524.5,788.9 525.2,792.9 526.2,796.9 527.1,800.9 527.7,804.9 528,808.9" fill="#ff4a06" stroke="#2e2e2e" stroke-width="1.2" stroke-linejoin="round"/>
<polygon points="575,808.9 575.2,805.1 575.8,801.4 576.5,797.6 577.3,793.8 578.1,790.1 578.6,786.3 579,782.5 579.2,778.8 579.2,775 579.2,771.2 579.2,767.5 579.2,763.7 579.2,759.9 579.2,756.1 579.2,752.4 579.2,748.6 579.1,744.8 578.9,741.1 578.5,737.3 577.9,733.5 577.1,729.8 576.1,726 575,722.2 573.8,718.5 572.8,714.7 572.1,710.9 571.9,707.2 572.1,703.4 572.8,699.6 573.8,695.9 574.9,692.1 576.1,688.3 577.1,684.6 577.9,680.8 578.5,677 578.9,673.2 579.1,669.5 579.2,665.7 579.2,661.9 579.2,658.2 579.2,654.4 579.2,650.6 579.2,646.9 579.2,643.1 579.2,639.3 579.2,635.6 579.2,631.8 579.6,631.8 579.6,635.6 579.6,639.3 579.6,643.1 579.6,646.9 579.6,650.6 579.6,654.4 579.6,658.2 579.6,661.9 579.6,665.7 579.7,669.5 579.9,673.2 580.3,677 580.9,680.8 581.7,684.6 582.7,688.3 583.9,692.1 585,695.9 586,699.6 586.7,703.4 586.9,707.2 586.7,710.9 586,714.7 585,718.5 583.8,722.2 582.7,726 581.7,729.8 580.9,733.5 580.3,737.3 579.9,741.1 579.7,744.8 579.6,748.6 579.6,752.4 579.6,756.1 579.6,759.9 579.6,763.7 579.6,767.5 579.6,771.2 579.6,775 579.6,778.8 579.8,782.5 580.2,786.3 580.7,790.1 581.5,793.8 582.3,797.6 583,801.4 583.6,805.1 583.8,808.9" fill="#ff4a06" stroke="#2e2e2e" stroke-width="1.2" stroke-linejoin="round"/>
<polygon points="633.1,808.9 633.2,805.3 633.4,801.8 633.8,798.2 634.1,794.7 634.5,791.1 634.8,787.5 635,784 635.2,780.4 635.2,776.9 635.2,773.3 635.2,769.7 635.2,766.2 635.2,762.6 635.2,759.1 635.2,755.5 635.2,751.9 635.2,748.4 635.1,744.8 634.8,741.3 634.4,737.7 633.8,734.2 632.9,730.6 631.8,727 630.5,723.5 629.1,719.9 627.8,716.4 626.8,712.8 626.2,709.2 626.1,705.7 626.6,702.1 627.5,698.6 628.8,695 630.2,691.4 631.5,687.9 632.6,684.3 633.6,680.8 634.3,677.2 634.7,673.6 635,670.1 635.2,666.5 635.2,663 635.2,659.4 635.2,655.8 635.2,652.3 635.2,648.7 635.2,645.2 635.2,641.6 635.6,641.6 635.6,645.2 635.6,648.7 635.6,652.3 635.6,655.8 635.6,659.4 635.6,663 635.6,666.5 635.8,670.1 636.1,673.6 636.5,677.2 637.2,680.8 638.2,684.3 639.3,687.9 640.6,691.4 642,695 643.3,698.6 644.2,702.1 644.7,705.7 644.6,709.2 644,712.8 643,716.4 641.7,719.9 640.3,723.5 639,727 637.9,730.6 637,734.2 636.4,737.7 636,741.3 635.7,744.8 635.6,748.4 635.6,751.9 635.6,755.5 635.6,759.1 635.6,762.6 635.6,766.2 635.6,769.7 635.6,773.3 635.6,776.9 635.6,780.4 635.8,784 636,787.5 636.3,791.1 636.7,794.7 637,798.2 637.4,801.8 637.6,805.3 637.7,808.9" fill="#ff4a06" stroke="#2e2e2e" stroke-width="1.2" stroke-linejoin="round"/>
<polygon points="684.9,808.9 685.3,804.9 686.2,800.9 687.5,796.9 688.8,792.9 689.8,788.9 690.5,784.9 690.9,780.9 691.1,776.9 691.1,772.9 691.1,769 691.1,765 691.1,761 691.1,757 691.1,753 691.1,749 691.1,745 691.1,741 691,737 690.7,733 690.3,729 689.7,725 689,721 688.2,717 687.4,713 686.7,709 686.2,705 686,701 686.2,697.1 686.7,693.1 687.4,689.1 688.2,685.1 689,681.1 689.7,677.1 690.3,673.1 690.7,669.1 691,665.1 691.1,661.1 691.1,657.1 691.1,653.1 691.1,649.1 691.1,645.1 691.1,641.1 691.1,637.1 691.1,633.1 691.1,629.1 691.1,625.2 691.1,621.2 691.5,621.2 691.5,625.2 691.5,629.1 691.5,633.1 691.5,637.1 691.5,641.1 691.5,645.1 691.5,649.1 691.5,653.1 691.5,657.1 691.5,661.1 691.6,665.1 691.9,669.1 692.3,673.1 692.9,677.1 693.6,681.1 694.4,685.1 695.2,689.1 695.9,693.1 696.4,697.1 696.6,701 696.4,705 695.9,709 695.2,713 694.4,717 693.6,721 692.9,725 692.3,729 691.9,733 691.6,737 691.5,741 691.5,745 691.5,749 691.5,753 691.5,757 691.5,761 691.5,765 691.5,769 691.5,772.9 691.5,776.9 691.7,780.9 692.1,784.9 692.8,788.9 693.8,792.9 695.1,796.9 696.4,800.9 697.3,804.9 697.7,808.9" fill="#ff4a06" stroke="#2e2e2e" stroke-width="1.2" stroke-linejoin="round"/>
<polygon points="741.4,808.9 741.7,804.9 742.6,800.9 743.8,796.9 745,792.9 746,788.9 746.7,784.9 747.1,780.9 747.3,776.9 747.3,772.9 747.3,769 747.3,765 747.3,761 747.3,757 747.3,753 747.3,749 747.3,745 747.3,741 747.3,737 747.1,733 746.8,729 746.3,725 745.7,721 745,717 744.2,713 743.4,709 742.7,705 742.1,701 741.9,697.1 742,693.1 742.4,689.1 743.1,685.1 743.9,681.1 744.7,677.1 745.5,673.1 746.1,669.1 746.6,665.1 747,661.1 747.2,657.1 747.3,653.1 747.3,649.1 747.3,645.1 747.3,641.1 747.3,637.1 747.3,633.1 747.3,629.1 747.3,625.2 747.3,621.2 747.7,621.2 747.7,625.2 747.7,629.1 747.7,633.1 747.7,637.1 747.7,641.1 747.7,645.1 747.7,649.1 747.7,653.1 747.8,657.1 748,661.1 748.4,665.1 748.9,669.1 749.5,673.1 750.3,677.1 751.1,681.1 751.9,685.1 752.6,689.1 753,693.1 753.1,697.1 752.9,701 752.3,705 751.6,709 750.8,713 750,717 749.3,721 748.7,725 748.2,729 747.9,733 747.7,737 747.7,741 747.7,745 747.7,749 747.7,753 747.7,757 747.7,761 747.7,765 747.7,769 747.7,772.9 747.7,776.9 747.9,780.9 748.3,784.9 749,788.9 750,792.9 751.2,796.9 752.4,800.9 753.3,804.9 753.6,808.9" fill="#ff4a06" stroke="#2e2e2e" stroke-width="1.2" stroke-linejoin="round"/>
<polygon points="797.9,808.9 798.2,805.1 798.9,801.2 800,797.4 801.1,793.6 802,789.7 802.7,785.9 803.1,782.1 803.4,778.2 803.4,774.4 803.4,770.6 803.4,766.7 803.4,762.9 803.4,759 803.4,755.2 803.4,751.4 803.4,747.5 803.4,743.7 803.2,739.9 802.8,736 802.3,732.2 801.5,728.4 800.5,724.5 799.5,720.7 798.4,716.9 797.6,713 797.1,709.2 797.1,705.4 797.5,701.5 798.3,697.7 799.4,693.9 800.4,690 801.4,686.2 802.2,682.4 802.8,678.5 803.1,674.7 803.4,670.9 803.4,667 803.4,663.2 803.4,659.3 803.4,655.5 803.4,651.7 803.4,647.8 803.4,644 803.4,640.2 803.4,636.3 803.4,632.5 803.4,628.7 803.8,628.7 803.8,632.5 803.8,636.3 803.8,640.2 803.8,644 803.8,647.8 803.8,651.7 803.8,655.5 803.8,659.3 803.8,663.2 803.8,667 803.8,670.9 804.1,674.7 804.4,678.5 805,682.4 805.8,686.2 806.8,690 807.8,693.9 808.9,697.7 809.7,701.5 810.1,705.4 810.1,709.2 809.6,713 808.8,716.9 807.7,720.7 806.7,724.5 805.7,728.4 804.9,732.2 804.4,736 804,739.9 803.8,743.7 803.8,747.5 803.8,751.4 803.8,755.2 803.8,759 803.8,762.9 803.8,766.7 803.8,770.6 803.8,774.4 803.8,778.2 804.1,782.1 804.5,785.9 805.2,789.7 806.1,793.6 807.2,797.4 808.3,801.2 809,805.1 809.3,808.9" fill="#ff4a06" stroke="#2e2e2e" stroke-width="1.2" stroke-linejoin="round"/>
<polygon points="853.5,808.9 853.8,804.9 854.7,800.9 855.9,796.9 857.1,792.9 858,788.9 858.7,784.9 859.1,780.9 859.3,776.9 859.3,772.9 859.3,769 859.3,765 859.3,761 859.3,757 859.3,753 859.3,749 859.3,745 859.3,741 859.3,737 859.3,733 859.3,729 859.3,725 859,721 858.7,717 858.2,713 857.6,709 856.8,705 856,701 855.1,697.1 854.3,693.1 853.9,689.1 853.7,685.1 853.9,681.1 854.5,677.1 855.2,673.1 856.1,669.1 857,665.1 857.7,661.1 858.3,657.1 858.8,653.1 859.1,649.1 859.3,645.1 859.3,641.1 859.3,637.1 859.3,633.1 859.3,629.1 859.3,625.2 859.3,621.2 859.7,621.2 859.7,625.2 859.7,629.1 859.7,633.1 859.7,637.1 859.7,641.1 859.7,645.1 859.9,649.1 860.2,653.1 860.7,657.1 861.3,661.1 862,665.1 862.9,669.1 863.8,673.1 864.5,677.1 865.1,681.1 865.3,685.1 865.1,689.1 864.7,693.1 863.9,697.1 863,701 862.2,705 861.4,709 860.8,713 860.3,717 860,721 859.7,725 859.7,729 859.7,733 859.7,737 859.7,741 859.7,745 859.7,749 859.7,753 859.7,757 859.7,761 859.7,765 859.7,769 859.7,772.9 859.7,776.9 859.9,780.9 860.3,784.9 861,788.9 861.9,792.9 863.1,796.9 864.3,800.9 865.2,804.9 865.5,808.9" fill="#ff4a06" stroke="#2e2e2e" stroke-width="1.2" stroke-linejoin="round"/>
<polygon points="907.7,808.9 908.1,804.9 909.3,800.9 910.9,796.9 912.5,792.9 913.7,788.9 914.6,784.9 915.1,780.9 915.4,776.9 915.4,772.9 915.4,769 915.4,765 915.4,761 915.4,757 915.4,753 915.4,749 915.4,745 915.4,741 915.4,737 915.4,733 915.4,729 915.4,725 915.4,721 915.4,717 915.4,713 915.2,709 915,705 914.6,701 914.1,697.1 913.6,693.1 913,689.1 912.5,685.1 912.1,681.1 912,677.1 912,673.1 912.3,669.1 912.8,665.1 913.3,661.1 913.9,657.1 914.4,653.1 914.8,649.1 915.1,645.1 915.3,641.1 915.4,637.1 915.4,633.1 915.4,629.1 915.4,625.2 915.4,621.2 915.8,621.2 915.8,625.2 915.8,629.1 915.8,633.1 915.8,637.1 915.9,641.1 916.1,645.1 916.4,649.1 916.8,653.1 917.3,657.1 917.9,661.1 918.4,665.1 918.9,669.1 919.2,673.1 919.2,677.1 919.1,681.1 918.7,685.1 918.2,689.1 917.6,693.1 917.1,697.1 916.6,701 916.2,705 916,709 915.8,713 915.8,717 915.8,721 915.8,725 915.8,729 915.8,733 915.8,737 915.8,741 915.8,745 915.8,749 915.8,753 915.8,757 915.8,761 915.8,765 915.8,769 915.8,772.9 915.8,776.9 916.1,780.9 916.6,784.9 917.5,788.9 918.7,792.9 920.3,796.9 921.9,800.9 923.1,804.9 923.5,808.9" fill="#ff4a06" stroke="#2e2e2e" stroke-width="1.2" stroke-linejoin="round"/>
<polygon points="965.9,808.9 966.2,804.9 967.1,800.9 968.2,796.9 969.4,792.9 970.3,788.9 971,784.9 971.4,780.9 971.6,776.9 971.6,772.9 971.6,769 971.6,765 971.6,761 971.6,757 971.6,753 971.6,749 971.6,745 971.6,741 971.6,737 971.6,733 971.4,729 971.1,725 970.6,721 969.9,717 969.1,713 968.1,709 967.1,705 966.2,701 965.6,697.1 965.4,693.1 965.6,689.1 966.3,685.1 967.2,681.1 968.2,677.1 969.2,673.1 970,669.1 970.7,665.1 971.1,661.1 971.4,657.1 971.6,653.1 971.6,649.1 971.6,645.1 971.6,641.1 971.6,637.1 971.6,633.1 971.6,629.1 971.6,625.2 971.6,621.2 972,621.2 972,625.2 972,629.1 972,633.1 972,637.1 972,641.1 972,645.1 972,649.1 972,653.1 972.2,657.1 972.5,661.1 972.9,665.1 973.6,669.1 974.4,673.1 975.4,677.1 976.4,681.1 977.3,685.1 978,689.1 978.2,693.1 978,697.1 977.4,701 976.5,705 975.5,709 974.5,713 973.7,717 973,721 972.5,725 972.2,729 972,733 972,737 972,741 972,745 972,749 972,753 972,757 972,761 972,765 972,769 972,772.9 972,776.9 972.2,780.9 972.6,784.9 973.3,788.9 974.2,792.9 975.4,796.9 976.5,800.9 977.4,804.9 977.7,808.9" fill="#ff4a06" stroke="#2e2e2e" stroke-width="1.2" stroke-linejoin="round"/>
<line x1="107.2" y1="605.4" x2="107.2" y2="820" stroke="#000" stroke-width="2.1" stroke-linecap="butt"/>
<line x1="106.2" y1="819" x2="1014.5" y2="819" stroke="#000" stroke-width="2.1" stroke-linecap="butt"/>
<line x1="101.4" y1="808.9" x2="107.2" y2="808.9" stroke="#000" stroke-width="1.8" stroke-linecap="butt"/>
<text x="101.2" y="817.8" font-size="25" text-anchor="end">0</text>
<line x1="101.4" y1="756.8" x2="107.2" y2="756.8" stroke="#000" stroke-width="1.8" stroke-linecap="butt"/>
<text x="101.2" y="765.6" font-size="25" text-anchor="end">5</text>
<line x1="101.4" y1="704.6" x2="107.2" y2="704.6" stroke="#000" stroke-width="1.8" stroke-linecap="butt"/>
<text x="101.2" y="713.5" font-size="25" text-anchor="end">10</text>
<line x1="101.4" y1="652.5" x2="107.2" y2="652.5" stroke="#000" stroke-width="1.8" stroke-linecap="butt"/>
<text x="101.2" y="661.4" font-size="25" text-anchor="end">15</text>
<line x1="140.9" y1="819" x2="140.9" y2="822" stroke="#000" stroke-width="1.5" stroke-linecap="butt"/>
<text x="146.5" y="823.6" font-size="24.6" text-anchor="end" transform="rotate(-90 146.5 823.6)">ASTRO</text>
<line x1="196.9" y1="819" x2="196.9" y2="822" stroke="#000" stroke-width="1.5" stroke-linecap="butt"/>
<text x="202.5" y="823.6" font-size="24.6" text-anchor="end" transform="rotate(-90 202.5 823.6)">ENDO</text>
<line x1="253" y1="819" x2="253" y2="822" stroke="#000" stroke-width="1.5" stroke-linecap="butt"/>
<text x="258.6" y="823.6" font-size="24.6" text-anchor="end" transform="rotate(-90 258.6 823.6)">EX2/3_IT</text>
<line x1="309" y1="819" x2="309" y2="822" stroke="#000" stroke-width="1.5" stroke-linecap="butt"/>
<text x="314.6" y="823.6" font-size="24.6" text-anchor="end" transform="rotate(-90 314.6 823.6)">EX4/5_IT</text>
<line x1="365.1" y1="819" x2="365.1" y2="822" stroke="#000" stroke-width="1.5" stroke-linecap="butt"/>
<text x="370.7" y="823.6" font-size="24.6" text-anchor="end" transform="rotate(-90 370.7 823.6)">EX5_ET</text>
<line x1="421.1" y1="819" x2="421.1" y2="822" stroke="#000" stroke-width="1.5" stroke-linecap="butt"/>
<text x="426.7" y="823.6" font-size="24.6" text-anchor="end" transform="rotate(-90 426.7 823.6)">EX5_IT</text>
<line x1="477.1" y1="819" x2="477.1" y2="822" stroke="#000" stroke-width="1.5" stroke-linecap="butt"/>
<text x="482.7" y="823.6" font-size="24.6" text-anchor="end" transform="rotate(-90 482.7 823.6)">EX5/6_NP</text>
<line x1="533.2" y1="819" x2="533.2" y2="822" stroke="#000" stroke-width="1.5" stroke-linecap="butt"/>
<text x="538.8" y="823.6" font-size="24.6" text-anchor="end" transform="rotate(-90 538.8 823.6)">EX6_CT</text>
<line x1="589.2" y1="819" x2="589.2" y2="822" stroke="#000" stroke-width="1.5" stroke-linecap="butt"/>
<text x="594.8" y="823.6" font-size="24.6" text-anchor="end" transform="rotate(-90 594.8 823.6)">EX6_IT</text>
<line x1="645.3" y1="819" x2="645.3" y2="822" stroke="#000" stroke-width="1.5" stroke-linecap="butt"/>
<text x="650.9" y="823.6" font-size="24.6" text-anchor="end" transform="rotate(-90 650.9 823.6)">EX6b</text>
<line x1="701.3" y1="819" x2="701.3" y2="822" stroke="#000" stroke-width="1.5" stroke-linecap="butt"/>
<text x="706.9" y="823.6" font-size="24.6" text-anchor="end" transform="rotate(-90 706.9 823.6)">IN_Pvalb</text>
<line x1="757.3" y1="819" x2="757.3" y2="822" stroke="#000" stroke-width="1.5" stroke-linecap="butt"/>
<text x="762.9" y="823.6" font-size="24.6" text-anchor="end" transform="rotate(-90 762.9 823.6)">IN_Sncg</text>
<line x1="813.4" y1="819" x2="813.4" y2="822" stroke="#000" stroke-width="1.5" stroke-linecap="butt"/>
<text x="819" y="823.6" font-size="24.6" text-anchor="end" transform="rotate(-90 819 823.6)">IN_Sst</text>
<line x1="869.4" y1="819" x2="869.4" y2="822" stroke="#000" stroke-width="1.5" stroke-linecap="butt"/>
<text x="875" y="823.6" font-size="24.6" text-anchor="end" transform="rotate(-90 875 823.6)">MOL</text>
<line x1="925.5" y1="819" x2="925.5" y2="822" stroke="#000" stroke-width="1.5" stroke-linecap="butt"/>
<text x="931.1" y="823.6" font-size="24.6" text-anchor="end" transform="rotate(-90 931.1 823.6)">OPC</text>
<line x1="981.5" y1="819" x2="981.5" y2="822" stroke="#000" stroke-width="1.5" stroke-linecap="butt"/>
<text x="987.1" y="823.6" font-size="24.6" text-anchor="end" transform="rotate(-90 987.1 823.6)">VLMC</text>
<text x="0" y="595.9" font-size="36.5">C</text>
<text x="114.2" y="623" font-size="26.3">P7</text>
<text x="32.8" y="736" font-size="24.7" text-anchor="middle" transform="rotate(-90 32.8 736)">Normalized expression</text>
<text x="61.1" y="732.2" font-size="24.7" text-anchor="middle" transform="rotate(-90 61.1 732.2)">of <tspan font-style="italic">CLOCK</tspan></text>
<rect x="401.5" y="587" width="14.1" height="14.1" fill="#ff4a06" stroke="#333" stroke-width="1.2"/>
<text x="423" y="602.6" font-size="25.3">HU</text>
<rect x="401.4" y="629.4" width="14.1" height="14.1" fill="#8a8a8a" stroke="#333" stroke-width="1.2"/>
<text x="423.6" y="643.9" font-size="24.8">WT</text>
<polygon points="1184.6,808.1 1184.9,805.3 1185.7,802.4 1186.9,799.6 1188.3,796.7 1189.8,793.9 1191.1,791 1192.3,788.2 1193.2,785.3 1193.9,782.5 1194.4,779.6 1194.7,776.8 1194.9,773.9 1194.9,771.1 1194.9,768.2 1194.9,765.4 1194.9,762.5 1194.9,759.7 1194.9,756.8 1194.9,754 1194.9,751.1 1194.9,748.3 1194.9,745.4 1194.9,742.6 1194.9,739.7 1194.9,736.9 1194.9,734 1194.9,731.2 1194.9,728.3 1194.9,725.5 1194.9,722.6 1194.9,719.8 1194.9,716.9 1194.9,714.1 1194.9,711.2 1194.9,708.4 1194.9,705.5 1194.9,702.7 1194.9,699.8 1194.9,697 1194.9,694.1 1194.9,691.3 1194.9,688.4 1194.9,685.6 1194.9,682.7 1194.9,679.9 1194.9,677 1194.9,674.2 1195.3,674.2 1195.3,677 1195.3,679.9 1195.3,682.7 1195.3,685.6 1195.3,688.4 1195.3,691.3 1195.3,694.1 1195.3,697 1195.3,699.8 1195.3,702.7 1195.3,705.5 1195.3,708.4 1195.3,711.2 1195.3,714.1 1195.3,716.9 1195.3,719.8 1195.3,722.6 1195.3,725.5 1195.3,728.3 1195.3,731.2 1195.3,734 1195.3,736.9 1195.3,739.7 1195.3,742.6 1195.3,745.4 1195.3,748.3 1195.3,751.1 1195.3,754 1195.3,756.8 1195.3,759.7 1195.3,762.5 1195.3,765.4 1195.3,768.2 1195.3,771.1 1195.3,773.9 1195.5,776.8 1195.8,779.6 1196.3,782.5 1197,785.3 1197.9,788.2 1199.1,791 1200.4,793.9 1201.9,796.7 1203.3,799.6 1204.5,802.4 1205.3,805.3 1205.6,808.1" fill="#8a8a8a" stroke="#2e2e2e" stroke-width="1.2" stroke-linejoin="round"/>
<polygon points="1233.2,808.1 1233.5,805.1 1234.4,802 1235.6,799 1237.1,795.9 1238.5,792.9 1239.8,789.8 1240.9,786.8 1241.7,783.7 1242.2,780.7 1242.5,777.6 1242.7,774.6 1242.7,771.5 1242.7,768.5 1242.7,765.5 1242.7,762.4 1242.7,759.4 1242.7,756.3 1242.7,753.3 1242.7,750.2 1242.7,747.2 1242.6,744.1 1242.4,741.1 1242.3,738 1242,735 1241.8,732 1241.6,728.9 1241.4,725.9 1241.2,722.8 1241.1,719.8 1241.1,716.7 1241.2,713.7 1241.3,710.6 1241.5,707.6 1241.8,704.5 1242,701.5 1242.2,698.4 1242.4,695.4 1242.6,692.4 1242.7,689.3 1242.7,686.3 1242.7,683.2 1242.7,680.2 1242.7,677.1 1242.7,674.1 1242.7,671 1242.7,668 1242.7,664.9 1243.1,664.9 1243.1,668 1243.1,671 1243.1,674.1 1243.1,677.1 1243.1,680.2 1243.1,683.2 1243.1,686.3 1243.1,689.3 1243.2,692.4 1243.4,695.4 1243.6,698.4 1243.8,701.5 1244,704.5 1244.3,707.6 1244.5,710.6 1244.6,713.7 1244.7,716.7 1244.7,719.8 1244.6,722.8 1244.4,725.9 1244.2,728.9 1244,732 1243.8,735 1243.5,738 1243.4,741.1 1243.2,744.1 1243.1,747.2 1243.1,750.2 1243.1,753.3 1243.1,756.3 1243.1,759.4 1243.1,762.4 1243.1,765.5 1243.1,768.5 1243.1,771.5 1243.1,774.6 1243.3,777.6 1243.6,780.7 1244.1,783.7 1244.9,786.8 1246,789.8 1247.3,792.9 1248.7,795.9 1250.2,799 1251.4,802 1252.3,805.1 1252.6,808.1" fill="#8a8a8a" stroke="#2e2e2e" stroke-width="1.2" stroke-linejoin="round"/>
<polygon points="1285.6,808.1 1285.7,805.2 1286.1,802.4 1286.7,799.5 1287.4,796.6 1288.1,793.8 1288.8,790.9 1289.3,788 1289.7,785.2 1290,782.3 1290.2,779.4 1290.3,776.6 1290.3,773.7 1290.3,770.8 1290.2,768 1290,765.1 1289.7,762.2 1289.3,759.4 1288.8,756.5 1288.1,753.6 1287.3,750.8 1286.4,747.9 1285.5,745 1284.8,742.2 1284.2,739.3 1283.9,736.4 1283.9,733.5 1284.3,730.7 1284.9,727.8 1285.6,724.9 1286.5,722.1 1287.4,719.2 1288.1,716.3 1288.8,713.5 1289.4,710.6 1289.8,707.7 1290,704.9 1290.2,702 1290.3,699.1 1290.3,696.3 1290.3,693.4 1290.3,690.5 1290.3,687.7 1290.3,684.8 1290.3,681.9 1290.3,679.1 1290.3,676.2 1290.3,673.3 1290.7,673.3 1290.7,676.2 1290.7,679.1 1290.7,681.9 1290.7,684.8 1290.7,687.7 1290.7,690.5 1290.7,693.4 1290.7,696.3 1290.7,699.1 1290.8,702 1291,704.9 1291.2,707.7 1291.6,710.6 1292.2,713.5 1292.9,716.3 1293.6,719.2 1294.5,722.1 1295.4,724.9 1296.1,727.8 1296.7,730.7 1297.1,733.5 1297.1,736.4 1296.8,739.3 1296.2,742.2 1295.5,745 1294.6,747.9 1293.7,750.8 1292.9,753.6 1292.2,756.5 1291.7,759.4 1291.3,762.2 1291,765.1 1290.8,768 1290.7,770.8 1290.7,773.7 1290.7,776.6 1290.8,779.4 1291,782.3 1291.3,785.2 1291.7,788 1292.2,790.9 1292.9,793.8 1293.6,796.6 1294.3,799.5 1294.9,802.4 1295.3,805.2 1295.4,808.1" fill="#8a8a8a" stroke="#2e2e2e" stroke-width="1.2" stroke-linejoin="round"/>
<polygon points="1333.3,808.1 1333.5,805.3 1333.9,802.4 1334.6,799.6 1335.3,796.8 1336.1,793.9 1336.8,791.1 1337.4,788.3 1337.9,785.4 1338.2,782.6 1338.4,779.8 1338.5,777 1338.5,774.1 1338.5,771.3 1338.4,768.5 1338.3,765.6 1338.1,762.8 1337.7,760 1337.3,757.1 1336.7,754.3 1336,751.5 1335.3,748.6 1334.6,745.8 1333.9,743 1333.3,740.1 1333,737.3 1333,734.5 1333.1,731.6 1333.6,728.8 1334.2,726 1334.9,723.1 1335.6,720.3 1336.3,717.5 1337,714.7 1337.5,711.8 1337.9,709 1338.2,706.2 1338.4,703.3 1338.5,700.5 1338.5,697.7 1338.5,694.8 1338.5,692 1338.5,689.2 1338.5,686.3 1338.5,683.5 1338.5,680.7 1338.5,677.8 1338.5,675 1338.9,675 1338.9,677.8 1338.9,680.7 1338.9,683.5 1338.9,686.3 1338.9,689.2 1338.9,692 1338.9,694.8 1338.9,697.7 1338.9,700.5 1339,703.3 1339.2,706.2 1339.5,709 1339.9,711.8 1340.4,714.7 1341.1,717.5 1341.8,720.3 1342.5,723.1 1343.2,726 1343.8,728.8 1344.3,731.6 1344.4,734.5 1344.4,737.3 1344.1,740.1 1343.5,743 1342.8,745.8 1342.1,748.6 1341.4,751.5 1340.7,754.3 1340.1,757.1 1339.7,760 1339.3,762.8 1339.1,765.6 1339,768.5 1338.9,771.3 1338.9,774.1 1338.9,777 1339,779.8 1339.2,782.6 1339.5,785.4 1340,788.3 1340.6,791.1 1341.3,793.9 1342.1,796.8 1342.8,799.6 1343.5,802.4 1343.9,805.3 1344.1,808.1" fill="#8a8a8a" stroke="#2e2e2e" stroke-width="1.2" stroke-linejoin="round"/>
<polygon points="1381.8,808.1 1381.9,805.4 1382.3,802.7 1382.8,799.9 1383.5,797.2 1384.2,794.5 1384.8,791.8 1385.4,789.1 1385.9,786.4 1386.2,783.6 1386.4,780.9 1386.6,778.2 1386.6,775.5 1386.6,772.8 1386.6,770.1 1386.5,767.3 1386.3,764.6 1386.1,761.9 1385.7,759.2 1385.2,756.5 1384.5,753.8 1383.8,751 1382.9,748.3 1382.1,745.6 1381.3,742.9 1380.7,740.2 1380.3,737.5 1380.2,734.7 1380.4,732 1380.8,729.3 1381.5,726.6 1382.3,723.9 1383.1,721.2 1383.9,718.4 1384.7,715.7 1385.3,713 1385.8,710.3 1386.1,707.6 1386.4,704.9 1386.5,702.1 1386.6,699.4 1386.6,696.7 1386.6,694 1386.6,691.3 1386.6,688.6 1386.6,685.8 1386.6,683.1 1386.6,680.4 1387,680.4 1387,683.1 1387,685.8 1387,688.6 1387,691.3 1387,694 1387,696.7 1387,699.4 1387.1,702.1 1387.2,704.9 1387.5,707.6 1387.8,710.3 1388.3,713 1388.9,715.7 1389.7,718.4 1390.5,721.2 1391.3,723.9 1392.1,726.6 1392.8,729.3 1393.2,732 1393.4,734.7 1393.3,737.5 1392.9,740.2 1392.3,742.9 1391.5,745.6 1390.7,748.3 1389.8,751 1389.1,753.8 1388.4,756.5 1387.9,759.2 1387.5,761.9 1387.3,764.6 1387.1,767.3 1387,770.1 1387,772.8 1387,775.5 1387,778.2 1387.2,780.9 1387.4,783.6 1387.7,786.4 1388.2,789.1 1388.8,791.8 1389.4,794.5 1390.1,797.2 1390.8,799.9 1391.3,802.7 1391.7,805.4 1391.8,808.1" fill="#8a8a8a" stroke="#2e2e2e" stroke-width="1.2" stroke-linejoin="round"/>
<polygon points="1429.5,808.1 1429.7,805.3 1430.1,802.5 1430.7,799.7 1431.5,796.9 1432.3,794.1 1433,791.3 1433.6,788.4 1434,785.6 1434.4,782.8 1434.6,780 1434.7,777.2 1434.7,774.4 1434.7,771.6 1434.7,768.8 1434.6,766 1434.4,763.2 1434.2,760.4 1433.8,757.6 1433.2,754.7 1432.6,751.9 1431.8,749.1 1431,746.3 1430.1,743.5 1429.4,740.7 1428.9,737.9 1428.5,735.1 1428.5,732.3 1428.8,729.5 1429.3,726.7 1430.1,723.9 1430.9,721.1 1431.7,718.2 1432.5,715.4 1433.2,712.6 1433.7,709.8 1434.1,707 1434.4,704.2 1434.6,701.4 1434.7,698.6 1434.7,695.8 1434.7,693 1434.7,690.2 1434.7,687.4 1434.7,684.6 1434.7,681.7 1434.7,678.9 1434.7,676.1 1435.1,676.1 1435.1,678.9 1435.1,681.7 1435.1,684.6 1435.1,687.4 1435.1,690.2 1435.1,693 1435.1,695.8 1435.1,698.6 1435.2,701.4 1435.4,704.2 1435.7,707 1436.1,709.8 1436.6,712.6 1437.3,715.4 1438.1,718.2 1438.9,721.1 1439.7,723.9 1440.5,726.7 1441,729.5 1441.3,732.3 1441.3,735.1 1440.9,737.9 1440.4,740.7 1439.7,743.5 1438.8,746.3 1438,749.1 1437.2,751.9 1436.6,754.7 1436,757.6 1435.6,760.4 1435.4,763.2 1435.2,766 1435.1,768.8 1435.1,771.6 1435.1,774.4 1435.1,777.2 1435.2,780 1435.4,782.8 1435.8,785.6 1436.2,788.4 1436.8,791.3 1437.5,794.1 1438.3,796.9 1439.1,799.7 1439.7,802.5 1440.1,805.3 1440.3,808.1" fill="#8a8a8a" stroke="#2e2e2e" stroke-width="1.2" stroke-linejoin="round"/>
<polygon points="1476.7,808.1 1476.9,805.3 1477.4,802.4 1478.1,799.6 1479,796.7 1479.9,793.9 1480.7,791 1481.4,788.2 1481.9,785.3 1482.3,782.5 1482.6,779.6 1482.7,776.8 1482.7,773.9 1482.7,771.1 1482.7,768.2 1482.7,765.4 1482.7,762.5 1482.6,759.7 1482.4,756.8 1482.1,754 1481.7,751.1 1481.2,748.3 1480.5,745.4 1479.9,742.6 1479.2,739.7 1478.5,736.9 1478,734 1477.7,731.2 1477.6,728.3 1477.8,725.5 1478.2,722.6 1478.8,719.8 1479.4,716.9 1480.1,714.1 1480.8,711.2 1481.4,708.4 1481.8,705.5 1482.2,702.7 1482.5,699.8 1482.6,697 1482.7,694.1 1482.7,691.3 1482.7,688.4 1482.7,685.6 1482.7,682.7 1482.7,679.9 1482.7,677 1482.7,674.2 1483.1,674.2 1483.1,677 1483.1,679.9 1483.1,682.7 1483.1,685.6 1483.1,688.4 1483.1,691.3 1483.1,694.1 1483.2,697 1483.3,699.8 1483.6,702.7 1484,705.5 1484.4,708.4 1485,711.2 1485.7,714.1 1486.4,716.9 1487,719.8 1487.6,722.6 1488,725.5 1488.2,728.3 1488.1,731.2 1487.8,734 1487.3,736.9 1486.6,739.7 1485.9,742.6 1485.3,745.4 1484.6,748.3 1484.1,751.1 1483.7,754 1483.4,756.8 1483.2,759.7 1483.1,762.5 1483.1,765.4 1483.1,768.2 1483.1,771.1 1483.1,773.9 1483.1,776.8 1483.2,779.6 1483.5,782.5 1483.9,785.3 1484.4,788.2 1485.1,791 1485.9,793.9 1486.8,796.7 1487.7,799.6 1488.4,802.4 1488.9,805.3 1489.1,808.1" fill="#8a8a8a" stroke="#2e2e2e" stroke-width="1.2" stroke-linejoin="round"/>
<polygon points="1525.3,808.1 1525.5,805.3 1525.9,802.5 1526.5,799.7 1527.3,796.9 1528.1,794.1 1528.8,791.3 1529.4,788.4 1529.8,785.6 1530.2,782.8 1530.4,780 1530.5,777.2 1530.5,774.4 1530.5,771.6 1530.5,768.8 1530.5,766 1530.3,763.2 1530.1,760.4 1529.8,757.6 1529.4,754.7 1528.8,751.9 1528.1,749.1 1527.3,746.3 1526.5,743.5 1525.8,740.7 1525.1,737.9 1524.7,735.1 1524.5,732.3 1524.6,729.5 1525,726.7 1525.6,723.9 1526.3,721.1 1527.1,718.2 1527.9,715.4 1528.6,712.6 1529.2,709.8 1529.7,707 1530.1,704.2 1530.3,701.4 1530.5,698.6 1530.5,695.8 1530.5,693 1530.5,690.2 1530.5,687.4 1530.5,684.6 1530.5,681.7 1530.5,678.9 1530.5,676.1 1530.9,676.1 1530.9,678.9 1530.9,681.7 1530.9,684.6 1530.9,687.4 1530.9,690.2 1530.9,693 1530.9,695.8 1530.9,698.6 1531.1,701.4 1531.3,704.2 1531.7,707 1532.2,709.8 1532.8,712.6 1533.5,715.4 1534.3,718.2 1535.1,721.1 1535.8,723.9 1536.4,726.7 1536.8,729.5 1536.9,732.3 1536.7,735.1 1536.3,737.9 1535.6,740.7 1534.9,743.5 1534.1,746.3 1533.3,749.1 1532.6,751.9 1532,754.7 1531.6,757.6 1531.3,760.4 1531.1,763.2 1530.9,766 1530.9,768.8 1530.9,771.6 1530.9,774.4 1530.9,777.2 1531,780 1531.2,782.8 1531.6,785.6 1532,788.4 1532.6,791.3 1533.3,794.1 1534.1,796.9 1534.9,799.7 1535.5,802.5 1535.9,805.3 1536.1,808.1" fill="#8a8a8a" stroke="#2e2e2e" stroke-width="1.2" stroke-linejoin="round"/>
<polygon points="1573.1,808.1 1573.3,805.3 1573.7,802.5 1574.3,799.7 1575.1,796.9 1575.8,794.1 1576.6,791.3 1577.2,788.6 1577.6,785.8 1578,783 1578.2,780.2 1578.3,777.4 1578.3,774.6 1578.3,771.8 1578.3,769 1578.2,766.2 1578.1,763.4 1577.8,760.6 1577.4,757.8 1576.9,755.1 1576.3,752.3 1575.5,749.5 1574.7,746.7 1573.8,743.9 1573.1,741.1 1572.5,738.3 1572.2,735.5 1572.1,732.7 1572.3,729.9 1572.8,727.1 1573.5,724.3 1574.3,721.5 1575.2,718.8 1576,716 1576.6,713.2 1577.2,710.4 1577.6,707.6 1578,704.8 1578.2,702 1578.3,699.2 1578.3,696.4 1578.3,693.6 1578.3,690.8 1578.3,688 1578.3,685.3 1578.3,682.5 1578.3,679.7 1578.3,676.9 1578.7,676.9 1578.7,679.7 1578.7,682.5 1578.7,685.3 1578.7,688 1578.7,690.8 1578.7,693.6 1578.7,696.4 1578.7,699.2 1578.8,702 1579,704.8 1579.4,707.6 1579.8,710.4 1580.4,713.2 1581,716 1581.8,718.8 1582.7,721.5 1583.5,724.3 1584.2,727.1 1584.7,729.9 1584.9,732.7 1584.8,735.5 1584.5,738.3 1583.9,741.1 1583.2,743.9 1582.3,746.7 1581.5,749.5 1580.7,752.3 1580.1,755.1 1579.6,757.8 1579.2,760.6 1578.9,763.4 1578.8,766.2 1578.7,769 1578.7,771.8 1578.7,774.6 1578.7,777.4 1578.8,780.2 1579,783 1579.4,785.8 1579.8,788.6 1580.4,791.3 1581.2,794.1 1581.9,796.9 1582.7,799.7 1583.3,802.5 1583.7,805.3 1583.9,808.1" fill="#8a8a8a" stroke="#2e2e2e" stroke-width="1.2" stroke-linejoin="round"/>
<polygon points="1621.8,808.1 1621.9,805.4 1622.3,802.8 1622.8,800.1 1623.4,797.5 1624.1,794.8 1624.8,792.2 1625.3,789.5 1625.8,786.9 1626.1,784.2 1626.4,781.6 1626.5,778.9 1626.6,776.3 1626.6,773.6 1626.6,771 1626.5,768.3 1626.4,765.7 1626.2,763 1625.8,760.4 1625.4,757.7 1624.8,755.1 1624.2,752.4 1623.4,749.8 1622.6,747.1 1621.9,744.5 1621.2,741.8 1620.7,739.2 1620.4,736.5 1620.4,733.9 1620.7,731.2 1621.2,728.6 1621.8,725.9 1622.6,723.3 1623.4,720.6 1624.1,718 1624.8,715.3 1625.4,712.7 1625.8,710 1626.2,707.4 1626.4,704.7 1626.6,702.1 1626.6,699.4 1626.6,696.7 1626.6,694.1 1626.6,691.4 1626.6,688.8 1626.6,686.1 1626.6,683.5 1627,683.5 1627,686.1 1627,688.8 1627,691.4 1627,694.1 1627,696.7 1627,699.4 1627,702.1 1627.2,704.7 1627.4,707.4 1627.8,710 1628.2,712.7 1628.8,715.3 1629.5,718 1630.2,720.6 1631,723.3 1631.8,725.9 1632.4,728.6 1632.9,731.2 1633.2,733.9 1633.2,736.5 1632.9,739.2 1632.4,741.8 1631.7,744.5 1631,747.1 1630.2,749.8 1629.4,752.4 1628.8,755.1 1628.2,757.7 1627.8,760.4 1627.4,763 1627.2,765.7 1627.1,768.3 1627,771 1627,773.6 1627,776.3 1627.1,778.9 1627.2,781.6 1627.5,784.2 1627.8,786.9 1628.3,789.5 1628.8,792.2 1629.5,794.8 1630.2,797.5 1630.8,800.1 1631.3,802.8 1631.7,805.4 1631.8,808.1" fill="#8a8a8a" stroke="#2e2e2e" stroke-width="1.2" stroke-linejoin="round"/>
<polygon points="1668.7,808.1 1668.9,805.3 1669.3,802.5 1670,799.6 1670.8,796.8 1671.7,794 1672.4,791.2 1673.1,788.4 1673.6,785.5 1674,782.7 1674.2,779.9 1674.4,777.1 1674.4,774.3 1674.4,771.4 1674.4,768.6 1674.4,765.8 1674.4,763 1674.2,760.2 1674,757.3 1673.6,754.5 1673.2,751.7 1672.7,748.9 1672,746.1 1671.3,743.2 1670.6,740.4 1670,737.6 1669.5,734.8 1669.2,732 1669.2,729.1 1669.5,726.3 1669.9,723.5 1670.5,720.7 1671.2,717.9 1671.9,715 1672.6,712.2 1673.1,709.4 1673.6,706.6 1673.9,703.8 1674.2,700.9 1674.4,698.1 1674.4,695.3 1674.4,692.5 1674.4,689.7 1674.4,686.8 1674.4,684 1674.4,681.2 1674.4,678.4 1674.4,675.6 1674.8,675.6 1674.8,678.4 1674.8,681.2 1674.8,684 1674.8,686.8 1674.8,689.7 1674.8,692.5 1674.8,695.3 1674.8,698.1 1675,700.9 1675.3,703.8 1675.6,706.6 1676.1,709.4 1676.6,712.2 1677.3,715 1678,717.9 1678.7,720.7 1679.3,723.5 1679.7,726.3 1680,729.1 1680,732 1679.7,734.8 1679.2,737.6 1678.6,740.4 1677.9,743.2 1677.2,746.1 1676.5,748.9 1676,751.7 1675.6,754.5 1675.2,757.3 1675,760.2 1674.8,763 1674.8,765.8 1674.8,768.6 1674.8,771.4 1674.8,774.3 1674.8,777.1 1675,779.9 1675.2,782.7 1675.6,785.5 1676.1,788.4 1676.8,791.2 1677.5,794 1678.4,796.8 1679.2,799.6 1679.9,802.5 1680.3,805.3 1680.5,808.1" fill="#8a8a8a" stroke="#2e2e2e" stroke-width="1.2" stroke-linejoin="round"/>
<polygon points="1715.7,808.1 1715.9,805.3 1716.4,802.6 1717.2,799.8 1718.1,797.1 1719,794.3 1719.9,791.5 1720.6,788.8 1721.3,786 1721.7,783.3 1722,780.5 1722.2,777.7 1722.3,775 1722.3,772.2 1722.3,769.5 1722.3,766.7 1722.3,763.9 1722.2,761.2 1722,758.4 1721.7,755.7 1721.3,752.9 1720.8,750.1 1720.3,747.4 1719.6,744.6 1719,741.9 1718.3,739.1 1717.8,736.3 1717.5,733.6 1717.3,730.8 1717.4,728.1 1717.7,725.3 1718.2,722.5 1718.8,719.8 1719.4,717 1720.1,714.2 1720.7,711.5 1721.2,708.7 1721.6,706 1721.9,703.2 1722.1,700.4 1722.3,697.7 1722.3,694.9 1722.3,692.2 1722.3,689.4 1722.3,686.6 1722.3,683.9 1722.3,681.1 1722.3,678.4 1722.7,678.4 1722.7,681.1 1722.7,683.9 1722.7,686.6 1722.7,689.4 1722.7,692.2 1722.7,694.9 1722.7,697.7 1722.9,700.4 1723.1,703.2 1723.4,706 1723.8,708.7 1724.3,711.5 1724.9,714.2 1725.6,717 1726.2,719.8 1726.8,722.5 1727.3,725.3 1727.6,728.1 1727.7,730.8 1727.5,733.6 1727.2,736.3 1726.7,739.1 1726,741.9 1725.4,744.6 1724.7,747.4 1724.2,750.1 1723.7,752.9 1723.3,755.7 1723,758.4 1722.8,761.2 1722.7,763.9 1722.7,766.7 1722.7,769.5 1722.7,772.2 1722.7,775 1722.8,777.7 1723,780.5 1723.3,783.3 1723.7,786 1724.4,788.8 1725.1,791.5 1726,794.3 1726.9,797.1 1727.8,799.8 1728.6,802.6 1729.1,805.3 1729.3,808.1" fill="#8a8a8a" stroke="#2e2e2e" stroke-width="1.2" stroke-linejoin="round"/>
<polygon points="1764.8,808.1 1765,805.2 1765.4,802.4 1766.1,799.5 1766.9,796.7 1767.8,793.8 1768.5,791 1769.2,788.1 1769.7,785.2 1770,782.4 1770.3,779.5 1770.4,776.7 1770.4,773.8 1770.4,771 1770.4,768.1 1770.4,765.2 1770.3,762.4 1770,759.5 1769.7,756.7 1769.3,753.8 1768.8,751 1768.2,748.1 1767.5,745.2 1766.8,742.4 1766.2,739.5 1765.7,736.7 1765.5,733.8 1765.4,730.9 1765.6,728.1 1766,725.2 1766.6,722.4 1767.3,719.5 1768,716.7 1768.6,713.8 1769.2,710.9 1769.6,708.1 1770,705.2 1770.2,702.4 1770.4,699.5 1770.4,696.7 1770.4,693.8 1770.4,690.9 1770.4,688.1 1770.4,685.2 1770.4,682.4 1770.4,679.5 1770.4,676.7 1770.4,673.8 1770.8,673.8 1770.8,676.7 1770.8,679.5 1770.8,682.4 1770.8,685.2 1770.8,688.1 1770.8,690.9 1770.8,693.8 1770.8,696.7 1770.8,699.5 1771,702.4 1771.2,705.2 1771.6,708.1 1772,710.9 1772.6,713.8 1773.2,716.7 1773.9,719.5 1774.6,722.4 1775.2,725.2 1775.6,728.1 1775.8,730.9 1775.7,733.8 1775.5,736.7 1775,739.5 1774.4,742.4 1773.7,745.2 1773,748.1 1772.4,751 1771.9,753.8 1771.5,756.7 1771.2,759.5 1770.9,762.4 1770.8,765.2 1770.8,768.1 1770.8,771 1770.8,773.8 1770.8,776.7 1770.9,779.5 1771.2,782.4 1771.5,785.2 1772,788.1 1772.7,791 1773.4,793.8 1774.3,796.7 1775.1,799.5 1775.8,802.4 1776.2,805.2 1776.4,808.1" fill="#8a8a8a" stroke="#2e2e2e" stroke-width="1.2" stroke-linejoin="round"/>
<polygon points="1812.2,808.1 1812.4,805.2 1812.9,802.3 1813.8,799.3 1814.7,796.4 1815.7,793.5 1816.5,790.6 1817.2,787.6 1817.7,784.7 1818.1,781.8 1818.3,778.9 1818.4,775.9 1818.4,773 1818.4,770.1 1818.4,767.2 1818.4,764.3 1818.3,761.3 1818.1,758.4 1817.8,755.5 1817.4,752.6 1816.9,749.6 1816.3,746.7 1815.7,743.8 1815,740.9 1814.4,738 1814,735 1813.7,732.1 1813.7,729.2 1813.9,726.3 1814.3,723.3 1814.9,720.4 1815.6,717.5 1816.2,714.6 1816.8,711.6 1817.3,708.7 1817.7,705.8 1818,702.9 1818.3,700 1818.4,697 1818.4,694.1 1818.4,691.2 1818.4,688.3 1818.4,685.3 1818.4,682.4 1818.4,679.5 1818.4,676.6 1818.4,673.6 1818.4,670.7 1818.8,670.7 1818.8,673.6 1818.8,676.6 1818.8,679.5 1818.8,682.4 1818.8,685.3 1818.8,688.3 1818.8,691.2 1818.8,694.1 1818.8,697 1818.9,700 1819.2,702.9 1819.5,705.8 1819.9,708.7 1820.4,711.6 1821,714.6 1821.6,717.5 1822.3,720.4 1822.9,723.3 1823.3,726.3 1823.5,729.2 1823.5,732.1 1823.2,735 1822.8,738 1822.2,740.9 1821.5,743.8 1820.9,746.7 1820.3,749.6 1819.8,752.6 1819.4,755.5 1819.1,758.4 1818.9,761.3 1818.8,764.3 1818.8,767.2 1818.8,770.1 1818.8,773 1818.8,775.9 1818.9,778.9 1819.1,781.8 1819.5,784.7 1820,787.6 1820.7,790.6 1821.5,793.5 1822.5,796.4 1823.4,799.3 1824.3,802.3 1824.8,805.2 1825,808.1" fill="#8a8a8a" stroke="#2e2e2e" stroke-width="1.2" stroke-linejoin="round"/>
<polygon points="1856.3,808.1 1856.6,805.1 1857.5,802 1858.9,799 1860.4,795.9 1862,792.9 1863.4,789.9 1864.6,786.8 1865.4,783.8 1866,780.7 1866.4,777.7 1866.6,774.7 1866.7,771.6 1866.7,768.6 1866.7,765.5 1866.7,762.5 1866.7,759.5 1866.7,756.4 1866.7,753.4 1866.7,750.3 1866.7,747.3 1866.7,744.3 1866.7,741.2 1866.7,738.2 1866.7,735.1 1866.7,732.1 1866.7,729.1 1866.7,726 1866.7,723 1866.7,719.9 1866.7,716.9 1866.7,713.9 1866.7,710.8 1866.7,707.8 1866.7,704.7 1866.7,701.7 1866.7,698.7 1866.7,695.6 1866.7,692.6 1866.7,689.5 1866.7,686.5 1866.7,683.5 1866.7,680.4 1866.7,677.4 1866.7,674.3 1866.7,671.3 1866.7,668.3 1866.7,665.2 1867.1,665.2 1867.1,668.3 1867.1,671.3 1867.1,674.3 1867.1,677.4 1867.1,680.4 1867.1,683.5 1867.1,686.5 1867.1,689.5 1867.1,692.6 1867.1,695.6 1867.1,698.7 1867.1,701.7 1867.1,704.7 1867.1,707.8 1867.1,710.8 1867.1,713.9 1867.1,716.9 1867.1,719.9 1867.1,723 1867.1,726 1867.1,729.1 1867.1,732.1 1867.1,735.1 1867.1,738.2 1867.1,741.2 1867.1,744.3 1867.1,747.3 1867.1,750.3 1867.1,753.4 1867.1,756.4 1867.1,759.5 1867.1,762.5 1867.1,765.5 1867.1,768.6 1867.1,771.6 1867.2,774.7 1867.4,777.7 1867.8,780.7 1868.4,783.8 1869.2,786.8 1870.4,789.9 1871.8,792.9 1873.4,795.9 1874.9,799 1876.3,802 1877.2,805.1 1877.5,808.1" fill="#8a8a8a" stroke="#2e2e2e" stroke-width="1.2" stroke-linejoin="round"/>
<polygon points="1904.8,808.1 1905.1,805 1906,801.9 1907.3,798.9 1908.9,795.8 1910.4,792.7 1911.7,789.6 1912.7,786.5 1913.5,783.5 1914,780.4 1914.3,777.3 1914.5,774.2 1914.5,771.1 1914.5,768.1 1914.5,765 1914.5,761.9 1914.5,758.8 1914.5,755.7 1914.5,752.7 1914.5,749.6 1914.4,746.5 1914.3,743.4 1914.1,740.3 1914,737.3 1913.8,734.2 1913.6,731.1 1913.4,728 1913.3,725 1913.2,721.9 1913.2,718.8 1913.2,715.7 1913.4,712.6 1913.5,709.6 1913.7,706.5 1913.9,703.4 1914,700.3 1914.2,697.2 1914.3,694.2 1914.5,691.1 1914.5,688 1914.5,684.9 1914.5,681.8 1914.5,678.8 1914.5,675.7 1914.5,672.6 1914.5,669.5 1914.5,666.4 1914.5,663.4 1914.9,663.4 1914.9,666.4 1914.9,669.5 1914.9,672.6 1914.9,675.7 1914.9,678.8 1914.9,681.8 1914.9,684.9 1914.9,688 1914.9,691.1 1915.1,694.2 1915.2,697.2 1915.4,700.3 1915.5,703.4 1915.7,706.5 1915.9,709.6 1916,712.6 1916.2,715.7 1916.2,718.8 1916.2,721.9 1916.1,725 1916,728 1915.8,731.1 1915.6,734.2 1915.4,737.3 1915.3,740.3 1915.1,743.4 1915,746.5 1914.9,749.6 1914.9,752.7 1914.9,755.7 1914.9,758.8 1914.9,761.9 1914.9,765 1914.9,768.1 1914.9,771.1 1914.9,774.2 1915.1,777.3 1915.4,780.4 1915.9,783.5 1916.7,786.5 1917.7,789.6 1919,792.7 1920.5,795.8 1922.1,798.9 1923.4,801.9 1924.3,805 1924.6,808.1" fill="#8a8a8a" stroke="#2e2e2e" stroke-width="1.2" stroke-linejoin="round"/>
<polygon points="1952.6,808.1 1952.9,805.1 1953.8,802.1 1955,799.1 1956.5,796.1 1958,793 1959.3,790 1960.4,787 1961.2,784 1961.7,781 1962.1,778 1962.3,775 1962.3,772 1962.3,768.9 1962.3,765.9 1962.3,762.9 1962.3,759.9 1962.3,756.9 1962.3,753.9 1962.2,750.9 1962.1,747.9 1961.9,744.8 1961.8,741.8 1961.6,738.8 1961.5,735.8 1961.4,732.8 1961.3,729.8 1961.2,726.8 1961.2,723.8 1961.2,720.7 1961.3,717.7 1961.4,714.7 1961.5,711.7 1961.7,708.7 1961.8,705.7 1962,702.7 1962.1,699.7 1962.2,696.7 1962.3,693.6 1962.3,690.6 1962.3,687.6 1962.3,684.6 1962.3,681.6 1962.3,678.6 1962.3,675.6 1962.3,672.6 1962.3,669.5 1962.3,666.5 1962.7,666.5 1962.7,669.5 1962.7,672.6 1962.7,675.6 1962.7,678.6 1962.7,681.6 1962.7,684.6 1962.7,687.6 1962.7,690.6 1962.7,693.6 1962.8,696.7 1962.9,699.7 1963,702.7 1963.2,705.7 1963.3,708.7 1963.5,711.7 1963.6,714.7 1963.7,717.7 1963.8,720.7 1963.8,723.8 1963.8,726.8 1963.7,729.8 1963.6,732.8 1963.5,735.8 1963.4,738.8 1963.2,741.8 1963.1,744.8 1962.9,747.9 1962.8,750.9 1962.7,753.9 1962.7,756.9 1962.7,759.9 1962.7,762.9 1962.7,765.9 1962.7,768.9 1962.7,772 1962.7,775 1962.9,778 1963.3,781 1963.8,784 1964.6,787 1965.7,790 1967,793 1968.5,796.1 1970,799.1 1971.2,802.1 1972.1,805.1 1972.4,808.1" fill="#8a8a8a" stroke="#2e2e2e" stroke-width="1.2" stroke-linejoin="round"/>
<polygon points="1999.8,808.1 2000.1,805.2 2001,802.3 2002.2,799.5 2003.7,796.6 2005.3,793.7 2006.7,790.8 2007.9,787.9 2008.9,785 2009.6,782.2 2010,779.3 2010.3,776.4 2010.5,773.5 2010.5,770.6 2010.5,767.8 2010.5,764.9 2010.5,762 2010.5,759.1 2010.5,756.2 2010.5,753.4 2010.5,750.5 2010.5,747.6 2010.5,744.7 2010.5,741.8 2010.5,738.9 2010.5,736.1 2010.5,733.2 2010.5,730.3 2010.5,727.4 2010.5,724.5 2010.5,721.7 2010.5,718.8 2010.5,715.9 2010.5,713 2010.5,710.1 2010.5,707.3 2010.5,704.4 2010.5,701.5 2010.5,698.6 2010.5,695.7 2010.5,692.8 2010.5,690 2010.5,687.1 2010.5,684.2 2010.5,681.3 2010.5,678.4 2010.5,675.6 2010.5,672.7 2010.9,672.7 2010.9,675.6 2010.9,678.4 2010.9,681.3 2010.9,684.2 2010.9,687.1 2010.9,690 2010.9,692.8 2010.9,695.7 2010.9,698.6 2010.9,701.5 2010.9,704.4 2010.9,707.3 2010.9,710.1 2010.9,713 2010.9,715.9 2010.9,718.8 2010.9,721.7 2010.9,724.5 2010.9,727.4 2010.9,730.3 2010.9,733.2 2010.9,736.1 2010.9,738.9 2010.9,741.8 2010.9,744.7 2010.9,747.6 2010.9,750.5 2010.9,753.4 2010.9,756.2 2010.9,759.1 2010.9,762 2010.9,764.9 2010.9,767.8 2010.9,770.6 2010.9,773.5 2011.1,776.4 2011.4,779.3 2011.8,782.2 2012.5,785 2013.5,787.9 2014.7,790.8 2016.1,793.7 2017.7,796.6 2019.2,799.5 2020.4,802.3 2021.3,805.2 2021.6,808.1" fill="#8a8a8a" stroke="#2e2e2e" stroke-width="1.2" stroke-linejoin="round"/>
<polygon points="2048.1,808.1 2048.4,805.1 2049.3,802.2 2050.5,799.2 2052,796.2 2053.6,793.2 2055,790.3 2056.1,787.3 2057,784.3 2057.6,781.3 2058,778.4 2058.3,775.4 2058.4,772.4 2058.4,769.4 2058.4,766.5 2058.4,763.5 2058.4,760.5 2058.4,757.5 2058.4,754.6 2058.4,751.6 2058.3,748.6 2058.2,745.6 2058.1,742.7 2058,739.7 2058,736.7 2057.9,733.7 2057.8,730.8 2057.7,727.8 2057.6,724.8 2057.6,721.8 2057.6,718.9 2057.6,715.9 2057.7,712.9 2057.7,709.9 2057.8,707 2057.9,704 2058,701 2058.1,698 2058.2,695.1 2058.3,692.1 2058.3,689.1 2058.4,686.1 2058.4,683.2 2058.4,680.2 2058.4,677.2 2058.4,674.2 2058.4,671.3 2058.4,668.3 2058.8,668.3 2058.8,671.3 2058.8,674.2 2058.8,677.2 2058.8,680.2 2058.8,683.2 2058.8,686.1 2058.9,689.1 2058.9,692.1 2059,695.1 2059.1,698 2059.2,701 2059.3,704 2059.4,707 2059.5,709.9 2059.5,712.9 2059.6,715.9 2059.6,718.9 2059.6,721.8 2059.6,724.8 2059.5,727.8 2059.4,730.8 2059.3,733.7 2059.2,736.7 2059.2,739.7 2059.1,742.7 2059,745.6 2058.9,748.6 2058.8,751.6 2058.8,754.6 2058.8,757.5 2058.8,760.5 2058.8,763.5 2058.8,766.5 2058.8,769.4 2058.8,772.4 2058.9,775.4 2059.2,778.4 2059.6,781.3 2060.2,784.3 2061.1,787.3 2062.2,790.3 2063.6,793.2 2065.2,796.2 2066.7,799.2 2067.9,802.2 2068.8,805.1 2069.1,808.1" fill="#8a8a8a" stroke="#2e2e2e" stroke-width="1.2" stroke-linejoin="round"/>
<polygon points="2097.5,808.1 2097.8,804.9 2098.7,801.8 2100,798.6 2101.4,795.4 2102.8,792.2 2104,789.1 2104.9,785.9 2105.5,782.7 2105.9,779.5 2106.2,776.4 2106.2,773.2 2106.2,770 2106.2,766.9 2106.2,763.7 2106.2,760.5 2106.2,757.3 2106.2,754.2 2106.2,751 2106.1,747.8 2106,744.6 2105.7,741.5 2105.5,738.3 2105.2,735.1 2104.9,732 2104.6,728.8 2104.4,725.6 2104.3,722.4 2104.3,719.3 2104.4,716.1 2104.7,712.9 2104.9,709.7 2105.3,706.6 2105.5,703.4 2105.8,700.2 2106,697.1 2106.1,693.9 2106.2,690.7 2106.2,687.5 2106.2,684.4 2106.2,681.2 2106.2,678 2106.2,674.8 2106.2,671.7 2106.2,668.5 2106.2,665.3 2106.2,662.2 2106.2,659 2106.6,659 2106.6,662.2 2106.6,665.3 2106.6,668.5 2106.6,671.7 2106.6,674.8 2106.6,678 2106.6,681.2 2106.6,684.4 2106.6,687.5 2106.6,690.7 2106.7,693.9 2106.8,697.1 2107,700.2 2107.3,703.4 2107.5,706.6 2107.9,709.7 2108.1,712.9 2108.4,716.1 2108.5,719.3 2108.5,722.4 2108.4,725.6 2108.2,728.8 2107.9,732 2107.6,735.1 2107.3,738.3 2107.1,741.5 2106.8,744.6 2106.7,747.8 2106.6,751 2106.6,754.2 2106.6,757.3 2106.6,760.5 2106.6,763.7 2106.6,766.9 2106.6,770 2106.6,773.2 2106.6,776.4 2106.9,779.5 2107.3,782.7 2107.9,785.9 2108.8,789.1 2110,792.2 2111.4,795.4 2112.8,798.6 2114.1,801.8 2115,804.9 2115.3,808.1" fill="#8a8a8a" stroke="#2e2e2e" stroke-width="1.2" stroke-linejoin="round"/>
<polygon points="1171,808.1 1171.3,804.8 1172.2,801.6 1173.3,798.3 1174.6,795 1175.7,791.7 1176.6,788.5 1177.2,785.2 1177.5,781.9 1177.7,778.7 1177.7,775.4 1177.7,772.1 1177.7,768.8 1177.7,765.6 1177.7,762.3 1177.7,759 1177.7,755.7 1177.7,752.5 1177.7,749.2 1177.7,745.9 1177.5,742.7 1177.2,739.4 1176.8,736.1 1176.3,732.8 1175.6,729.6 1175,726.3 1174.4,723 1173.9,719.8 1173.7,716.5 1173.8,713.2 1174.1,709.9 1174.7,706.7 1175.3,703.4 1176,700.1 1176.6,696.9 1177,693.6 1177.4,690.3 1177.6,687 1177.7,683.8 1177.7,680.5 1177.7,677.2 1177.7,674 1177.7,670.7 1177.7,667.4 1177.7,664.1 1177.7,660.9 1177.7,657.6 1177.7,654.3 1178.1,654.3 1178.1,657.6 1178.1,660.9 1178.1,664.1 1178.1,667.4 1178.1,670.7 1178.1,674 1178.1,677.2 1178.1,680.5 1178.1,683.8 1178.2,687 1178.4,690.3 1178.8,693.6 1179.2,696.9 1179.8,700.1 1180.5,703.4 1181.1,706.7 1181.7,709.9 1182,713.2 1182.1,716.5 1181.9,719.8 1181.4,723 1180.8,726.3 1180.2,729.6 1179.5,732.8 1179,736.1 1178.6,739.4 1178.3,742.7 1178.1,745.9 1178.1,749.2 1178.1,752.5 1178.1,755.7 1178.1,759 1178.1,762.3 1178.1,765.6 1178.1,768.8 1178.1,772.1 1178.1,775.4 1178.1,778.7 1178.3,781.9 1178.6,785.2 1179.2,788.5 1180.1,791.7 1181.2,795 1182.5,798.3 1183.6,801.6 1184.5,804.8 1184.8,808.1" fill="#ff4a06" stroke="#2e2e2e" stroke-width="1.2" stroke-linejoin="round"/>
<polygon points="1220.1,808.1 1220.4,804.7 1221.2,801.3 1222.3,797.8 1223.4,794.4 1224.3,791 1225,787.6 1225.4,784.2 1225.6,780.8 1225.6,777.3 1225.6,773.9 1225.6,770.5 1225.6,767.1 1225.6,763.7 1225.6,760.2 1225.6,756.8 1225.6,753.4 1225.6,750 1225.6,746.6 1225.6,743.1 1225.5,739.7 1225.3,736.3 1225,732.9 1224.6,729.5 1224.1,726.1 1223.5,722.6 1222.7,719.2 1222,715.8 1221.4,712.4 1221,709 1220.8,705.5 1220.9,702.1 1221.2,698.7 1221.8,695.3 1222.5,691.9 1223.2,688.4 1223.8,685 1224.4,681.6 1224.9,678.2 1225.2,674.8 1225.5,671.4 1225.6,667.9 1225.6,664.5 1225.6,661.1 1225.6,657.7 1225.6,654.3 1225.6,650.8 1225.6,647.4 1226,647.4 1226,650.8 1226,654.3 1226,657.7 1226,661.1 1226,664.5 1226,667.9 1226.1,671.4 1226.4,674.8 1226.7,678.2 1227.2,681.6 1227.8,685 1228.4,688.4 1229.1,691.9 1229.8,695.3 1230.4,698.7 1230.7,702.1 1230.8,705.5 1230.6,709 1230.2,712.4 1229.6,715.8 1228.9,719.2 1228.1,722.6 1227.5,726.1 1227,729.5 1226.6,732.9 1226.3,736.3 1226.1,739.7 1226,743.1 1226,746.6 1226,750 1226,753.4 1226,756.8 1226,760.2 1226,763.7 1226,767.1 1226,770.5 1226,773.9 1226,777.3 1226,780.8 1226.2,784.2 1226.6,787.6 1227.3,791 1228.2,794.4 1229.3,797.8 1230.4,801.3 1231.2,804.7 1231.5,808.1" fill="#ff4a06" stroke="#2e2e2e" stroke-width="1.2" stroke-linejoin="round"/>
<polygon points="1270.7,808.1 1270.8,805 1271.2,801.8 1271.7,798.7 1272.3,795.5 1272.8,792.4 1273.2,789.2 1273.5,786.1 1273.6,782.9 1273.6,779.8 1273.6,776.6 1273.6,773.5 1273.6,770.3 1273.6,767.2 1273.6,764 1273.6,760.9 1273.6,757.7 1273.6,754.6 1273.5,751.5 1273.3,748.3 1272.9,745.2 1272.3,742 1271.5,738.9 1270.5,735.7 1269.3,732.6 1268.1,729.4 1267.1,726.3 1266.3,723.1 1266,720 1266.2,716.8 1266.8,713.7 1267.8,710.5 1269,707.4 1270.2,704.2 1271.2,701.1 1272.1,698 1272.7,694.8 1273.2,691.7 1273.5,688.5 1273.6,685.4 1273.6,682.2 1273.6,679.1 1273.6,675.9 1273.6,672.8 1273.6,669.6 1273.6,666.5 1273.6,663.3 1273.6,660.2 1274,660.2 1274,663.3 1274,666.5 1274,669.6 1274,672.8 1274,675.9 1274,679.1 1274,682.2 1274,685.4 1274.1,688.5 1274.4,691.7 1274.9,694.8 1275.5,698 1276.4,701.1 1277.4,704.2 1278.6,707.4 1279.8,710.5 1280.8,713.7 1281.4,716.8 1281.6,720 1281.3,723.1 1280.5,726.3 1279.5,729.4 1278.3,732.6 1277.1,735.7 1276.1,738.9 1275.3,742 1274.7,745.2 1274.3,748.3 1274.1,751.5 1274,754.6 1274,757.7 1274,760.9 1274,764 1274,767.2 1274,770.3 1274,773.5 1274,776.6 1274,779.8 1274,782.9 1274.1,786.1 1274.4,789.2 1274.8,792.4 1275.3,795.5 1275.9,798.7 1276.4,801.8 1276.8,805 1276.9,808.1" fill="#ff4a06" stroke="#2e2e2e" stroke-width="1.2" stroke-linejoin="round"/>
<polygon points="1319,808.1 1319.1,805 1319.4,801.9 1319.9,798.9 1320.4,795.8 1320.9,792.7 1321.3,789.6 1321.5,786.5 1321.7,783.5 1321.7,780.4 1321.7,777.3 1321.7,774.2 1321.7,771.1 1321.7,768.1 1321.7,765 1321.7,761.9 1321.7,758.8 1321.7,755.7 1321.7,752.7 1321.5,749.6 1321.2,746.5 1320.7,743.4 1320,740.3 1319.1,737.3 1318,734.2 1316.9,731.1 1315.7,728 1314.8,725 1314.2,721.9 1314.1,718.8 1314.5,715.7 1315.2,712.6 1316.3,709.6 1317.4,706.5 1318.6,703.4 1319.6,700.3 1320.4,697.2 1321,694.2 1321.3,691.1 1321.6,688 1321.7,684.9 1321.7,681.8 1321.7,678.8 1321.7,675.7 1321.7,672.6 1321.7,669.5 1321.7,666.4 1321.7,663.4 1322.1,663.4 1322.1,666.4 1322.1,669.5 1322.1,672.6 1322.1,675.7 1322.1,678.8 1322.1,681.8 1322.1,684.9 1322.2,688 1322.5,691.1 1322.8,694.2 1323.4,697.2 1324.2,700.3 1325.2,703.4 1326.4,706.5 1327.5,709.6 1328.6,712.6 1329.3,715.7 1329.7,718.8 1329.6,721.9 1329,725 1328.1,728 1326.9,731.1 1325.8,734.2 1324.7,737.3 1323.8,740.3 1323.1,743.4 1322.6,746.5 1322.3,749.6 1322.1,752.7 1322.1,755.7 1322.1,758.8 1322.1,761.9 1322.1,765 1322.1,768.1 1322.1,771.1 1322.1,774.2 1322.1,777.3 1322.1,780.4 1322.1,783.5 1322.3,786.5 1322.5,789.6 1322.9,792.7 1323.4,795.8 1323.9,798.9 1324.4,801.9 1324.7,805 1324.8,808.1" fill="#ff4a06" stroke="#2e2e2e" stroke-width="1.2" stroke-linejoin="round"/>
<polygon points="1366.9,808.1 1367,805.1 1367.3,802.1 1367.7,799 1368.2,796 1368.7,793 1369,790 1369.3,786.9 1369.5,783.9 1369.5,780.9 1369.5,777.9 1369.5,774.8 1369.5,771.8 1369.5,768.8 1369.5,765.8 1369.5,762.7 1369.5,759.7 1369.5,756.7 1369.5,753.7 1369.5,750.6 1369.3,747.6 1368.9,744.6 1368.4,741.6 1367.7,738.5 1366.8,735.5 1365.8,732.5 1364.6,729.5 1363.5,726.5 1362.6,723.4 1362,720.4 1361.9,717.4 1362.2,714.4 1362.9,711.3 1364,708.3 1365.1,705.3 1366.2,702.3 1367.2,699.2 1368,696.2 1368.7,693.2 1369.1,690.2 1369.4,687.1 1369.5,684.1 1369.5,681.1 1369.5,678.1 1369.5,675 1369.5,672 1369.5,669 1369.5,666 1369.9,666 1369.9,669 1369.9,672 1369.9,675 1369.9,678.1 1369.9,681.1 1369.9,684.1 1370,687.1 1370.3,690.2 1370.7,693.2 1371.4,696.2 1372.2,699.2 1373.2,702.3 1374.3,705.3 1375.4,708.3 1376.5,711.3 1377.2,714.4 1377.5,717.4 1377.4,720.4 1376.8,723.4 1375.9,726.5 1374.8,729.5 1373.6,732.5 1372.6,735.5 1371.7,738.5 1371,741.6 1370.5,744.6 1370.1,747.6 1369.9,750.6 1369.9,753.7 1369.9,756.7 1369.9,759.7 1369.9,762.7 1369.9,765.8 1369.9,768.8 1369.9,771.8 1369.9,774.8 1369.9,777.9 1369.9,780.9 1369.9,783.9 1370.1,786.9 1370.4,790 1370.7,793 1371.2,796 1371.7,799 1372.1,802.1 1372.4,805.1 1372.5,808.1" fill="#ff4a06" stroke="#2e2e2e" stroke-width="1.2" stroke-linejoin="round"/>
<polygon points="1414.8,808.1 1414.9,805 1415.3,801.8 1415.8,798.7 1416.3,795.5 1416.8,792.4 1417.2,789.3 1417.5,786.1 1417.6,783 1417.6,779.8 1417.6,776.7 1417.6,773.6 1417.6,770.4 1417.6,767.3 1417.6,764.2 1417.6,761 1417.6,757.9 1417.6,754.7 1417.6,751.6 1417.4,748.5 1417.1,745.3 1416.7,742.2 1416,739 1415.2,735.9 1414.1,732.8 1413,729.6 1411.8,726.5 1410.9,723.3 1410.2,720.2 1410,717.1 1410.3,713.9 1410.9,710.8 1411.9,707.7 1413.1,704.5 1414.2,701.4 1415.3,698.2 1416.1,695.1 1416.7,692 1417.2,688.8 1417.4,685.7 1417.6,682.5 1417.6,679.4 1417.6,676.3 1417.6,673.1 1417.6,670 1417.6,666.8 1417.6,663.7 1417.6,660.6 1418,660.6 1418,663.7 1418,666.8 1418,670 1418,673.1 1418,676.3 1418,679.4 1418,682.5 1418.2,685.7 1418.4,688.8 1418.9,692 1419.5,695.1 1420.3,698.2 1421.4,701.4 1422.5,704.5 1423.7,707.7 1424.7,710.8 1425.3,713.9 1425.6,717.1 1425.4,720.2 1424.7,723.3 1423.8,726.5 1422.6,729.6 1421.5,732.8 1420.4,735.9 1419.6,739 1418.9,742.2 1418.5,745.3 1418.2,748.5 1418,751.6 1418,754.7 1418,757.9 1418,761 1418,764.2 1418,767.3 1418,770.4 1418,773.6 1418,776.7 1418,779.8 1418,783 1418.1,786.1 1418.4,789.3 1418.8,792.4 1419.3,795.5 1419.8,798.7 1420.3,801.8 1420.7,805 1420.8,808.1" fill="#ff4a06" stroke="#2e2e2e" stroke-width="1.2" stroke-linejoin="round"/>
<polygon points="1462.7,808.1 1462.8,805 1463.2,801.9 1463.7,798.8 1464.3,795.7 1464.8,792.7 1465.3,789.6 1465.6,786.5 1465.8,783.4 1465.8,780.3 1465.8,777.2 1465.8,774.1 1465.8,771 1465.8,767.9 1465.8,764.8 1465.8,761.8 1465.8,758.7 1465.8,755.6 1465.8,752.5 1465.8,749.4 1465.6,746.3 1465.3,743.2 1464.9,740.1 1464.2,737 1463.4,734 1462.4,730.9 1461.3,727.8 1460.2,724.7 1459.4,721.6 1458.8,718.5 1458.6,715.4 1458.9,712.3 1459.5,709.2 1460.5,706.1 1461.5,703.1 1462.6,700 1463.6,696.9 1464.4,693.8 1465,690.7 1465.4,687.6 1465.7,684.5 1465.8,681.4 1465.8,678.3 1465.8,675.3 1465.8,672.2 1465.8,669.1 1465.8,666 1465.8,662.9 1466.2,662.9 1466.2,666 1466.2,669.1 1466.2,672.2 1466.2,675.3 1466.2,678.3 1466.2,681.4 1466.3,684.5 1466.6,687.6 1467,690.7 1467.6,693.8 1468.4,696.9 1469.4,700 1470.5,703.1 1471.5,706.1 1472.5,709.2 1473.1,712.3 1473.4,715.4 1473.2,718.5 1472.6,721.6 1471.8,724.7 1470.7,727.8 1469.6,730.9 1468.6,734 1467.8,737 1467.1,740.1 1466.7,743.2 1466.4,746.3 1466.2,749.4 1466.2,752.5 1466.2,755.6 1466.2,758.7 1466.2,761.8 1466.2,764.8 1466.2,767.9 1466.2,771 1466.2,774.1 1466.2,777.2 1466.2,780.3 1466.2,783.4 1466.4,786.5 1466.7,789.6 1467.2,792.7 1467.7,795.7 1468.3,798.8 1468.8,801.9 1469.2,805 1469.3,808.1" fill="#ff4a06" stroke="#2e2e2e" stroke-width="1.2" stroke-linejoin="round"/>
<polygon points="1510.9,808.1 1511,805 1511.4,802 1511.8,798.9 1512.4,795.8 1512.8,792.8 1513.3,789.7 1513.6,786.7 1513.8,783.6 1513.8,780.5 1513.8,777.5 1513.8,774.4 1513.8,771.3 1513.8,768.3 1513.8,765.2 1513.8,762.1 1513.8,759.1 1513.8,756 1513.8,753 1513.8,749.9 1513.6,746.8 1513.4,743.8 1513,740.7 1512.4,737.6 1511.6,734.6 1510.6,731.5 1509.5,728.4 1508.4,725.4 1507.5,722.3 1506.8,719.3 1506.5,716.2 1506.7,713.1 1507.2,710.1 1508.1,707 1509.2,703.9 1510.3,700.9 1511.3,697.8 1512.1,694.7 1512.8,691.7 1513.3,688.6 1513.6,685.6 1513.8,682.5 1513.8,679.4 1513.8,676.4 1513.8,673.3 1513.8,670.2 1513.8,667.2 1513.8,664.1 1514.2,664.1 1514.2,667.2 1514.2,670.2 1514.2,673.3 1514.2,676.4 1514.2,679.4 1514.2,682.5 1514.4,685.6 1514.7,688.6 1515.2,691.7 1515.9,694.7 1516.7,697.8 1517.7,700.9 1518.8,703.9 1519.9,707 1520.8,710.1 1521.3,713.1 1521.5,716.2 1521.2,719.3 1520.5,722.3 1519.6,725.4 1518.5,728.4 1517.4,731.5 1516.4,734.6 1515.6,737.6 1515,740.7 1514.6,743.8 1514.4,746.8 1514.2,749.9 1514.2,753 1514.2,756 1514.2,759.1 1514.2,762.1 1514.2,765.2 1514.2,768.3 1514.2,771.3 1514.2,774.4 1514.2,777.5 1514.2,780.5 1514.2,783.6 1514.4,786.7 1514.7,789.7 1515.2,792.8 1515.6,795.8 1516.2,798.9 1516.6,802 1517,805 1517.1,808.1" fill="#ff4a06" stroke="#2e2e2e" stroke-width="1.2" stroke-linejoin="round"/>
<polygon points="1558.5,808.1 1558.6,805.1 1559,802 1559.5,799 1560.1,796 1560.6,793 1561,789.9 1561.3,786.9 1561.5,783.9 1561.6,780.8 1561.6,777.8 1561.6,774.8 1561.6,771.7 1561.6,768.7 1561.6,765.7 1561.6,762.7 1561.6,759.6 1561.6,756.6 1561.6,753.6 1561.6,750.5 1561.4,747.5 1561.2,744.5 1560.8,741.4 1560.2,738.4 1559.4,735.4 1558.4,732.4 1557.3,729.3 1556.3,726.3 1555.3,723.3 1554.6,720.2 1554.3,717.2 1554.4,714.2 1554.9,711.1 1555.8,708.1 1556.8,705.1 1557.9,702.1 1558.9,699 1559.8,696 1560.5,693 1561,689.9 1561.3,686.9 1561.5,683.9 1561.6,680.8 1561.6,677.8 1561.6,674.8 1561.6,671.8 1561.6,668.7 1561.6,665.7 1562,665.7 1562,668.7 1562,671.8 1562,674.8 1562,677.8 1562,680.8 1562.1,683.9 1562.3,686.9 1562.6,689.9 1563.1,693 1563.8,696 1564.7,699 1565.7,702.1 1566.8,705.1 1567.8,708.1 1568.7,711.1 1569.2,714.2 1569.3,717.2 1569,720.2 1568.3,723.3 1567.3,726.3 1566.3,729.3 1565.2,732.4 1564.2,735.4 1563.4,738.4 1562.8,741.4 1562.4,744.5 1562.2,747.5 1562,750.5 1562,753.6 1562,756.6 1562,759.6 1562,762.7 1562,765.7 1562,768.7 1562,771.7 1562,774.8 1562,777.8 1562,780.8 1562.1,783.9 1562.3,786.9 1562.6,789.9 1563,793 1563.5,796 1564.1,799 1564.6,802 1565,805.1 1565.1,808.1" fill="#ff4a06" stroke="#2e2e2e" stroke-width="1.2" stroke-linejoin="round"/>
<polygon points="1606.4,808.1 1606.5,805.1 1606.9,802.2 1607.4,799.2 1608,796.2 1608.6,793.2 1609.1,790.3 1609.4,787.3 1609.6,784.3 1609.7,781.3 1609.7,778.4 1609.7,775.4 1609.7,772.4 1609.7,769.4 1609.7,766.5 1609.7,763.5 1609.7,760.5 1609.7,757.5 1609.7,754.6 1609.7,751.6 1609.7,748.6 1609.6,745.6 1609.3,742.7 1609,739.7 1608.4,736.7 1607.7,733.7 1606.8,730.8 1605.8,727.8 1604.8,724.8 1603.8,721.8 1603,718.9 1602.6,715.9 1602.5,712.9 1602.9,709.9 1603.6,707 1604.5,704 1605.6,701 1606.6,698 1607.5,695.1 1608.3,692.1 1608.9,689.1 1609.3,686.1 1609.5,683.2 1609.7,680.2 1609.7,677.2 1609.7,674.2 1609.7,671.3 1609.7,668.3 1610.1,668.3 1610.1,671.3 1610.1,674.2 1610.1,677.2 1610.1,680.2 1610.3,683.2 1610.5,686.1 1610.9,689.1 1611.5,692.1 1612.3,695.1 1613.2,698 1614.2,701 1615.3,704 1616.2,707 1616.9,709.9 1617.3,712.9 1617.2,715.9 1616.8,718.9 1616,721.8 1615,724.8 1614,727.8 1613,730.8 1612.1,733.7 1611.4,736.7 1610.8,739.7 1610.5,742.7 1610.2,745.6 1610.1,748.6 1610.1,751.6 1610.1,754.6 1610.1,757.5 1610.1,760.5 1610.1,763.5 1610.1,766.5 1610.1,769.4 1610.1,772.4 1610.1,775.4 1610.1,778.4 1610.1,781.3 1610.2,784.3 1610.4,787.3 1610.7,790.3 1611.2,793.2 1611.8,796.2 1612.4,799.2 1612.9,802.2 1613.3,805.1 1613.4,808.1" fill="#ff4a06" stroke="#2e2e2e" stroke-width="1.2" stroke-linejoin="round"/>
<polygon points="1654.8,808.1 1654.9,805 1655.3,801.9 1655.7,798.8 1656.3,795.7 1656.8,792.6 1657.2,789.5 1657.5,786.4 1657.7,783.3 1657.7,780.2 1657.7,777.1 1657.7,774.1 1657.7,771 1657.7,767.9 1657.7,764.8 1657.7,761.7 1657.7,758.6 1657.7,755.5 1657.7,752.4 1657.7,749.3 1657.5,746.2 1657.2,743.1 1656.7,740 1656,736.9 1655.1,733.8 1654.1,730.7 1652.9,727.6 1651.7,724.5 1650.8,721.4 1650.2,718.3 1650,715.2 1650.3,712.1 1651.1,709 1652.1,706 1653.3,702.9 1654.4,699.8 1655.5,696.7 1656.3,693.6 1656.9,690.5 1657.3,687.4 1657.6,684.3 1657.7,681.2 1657.7,678.1 1657.7,675 1657.7,671.9 1657.7,668.8 1657.7,665.7 1657.7,662.6 1658.1,662.6 1658.1,665.7 1658.1,668.8 1658.1,671.9 1658.1,675 1658.1,678.1 1658.1,681.2 1658.2,684.3 1658.5,687.4 1658.9,690.5 1659.5,693.6 1660.3,696.7 1661.4,699.8 1662.5,702.9 1663.7,706 1664.7,709 1665.5,712.1 1665.8,715.2 1665.6,718.3 1665,721.4 1664.1,724.5 1662.9,727.6 1661.7,730.7 1660.7,733.8 1659.8,736.9 1659.1,740 1658.6,743.1 1658.3,746.2 1658.1,749.3 1658.1,752.4 1658.1,755.5 1658.1,758.6 1658.1,761.7 1658.1,764.8 1658.1,767.9 1658.1,771 1658.1,774.1 1658.1,777.1 1658.1,780.2 1658.1,783.3 1658.3,786.4 1658.6,789.5 1659,792.6 1659.5,795.7 1660.1,798.8 1660.5,801.9 1660.9,805 1661,808.1" fill="#ff4a06" stroke="#2e2e2e" stroke-width="1.2" stroke-linejoin="round"/>
<polygon points="1702.7,808.1 1702.8,804.8 1703.2,801.6 1703.7,798.3 1704.2,795 1704.7,791.8 1705.1,788.5 1705.4,785.3 1705.5,782 1705.5,778.7 1705.5,775.5 1705.5,772.2 1705.5,768.9 1705.5,765.7 1705.5,762.4 1705.5,759.1 1705.5,755.9 1705.5,752.6 1705.5,749.3 1705.5,746.1 1705.3,742.8 1704.9,739.6 1704.4,736.3 1703.7,733 1702.7,729.8 1701.6,726.5 1700.4,723.2 1699.2,720 1698.4,716.7 1697.9,713.4 1697.9,710.2 1698.4,706.9 1699.2,703.7 1700.4,700.4 1701.6,697.1 1702.7,693.9 1703.7,690.6 1704.4,687.3 1704.9,684.1 1705.3,680.8 1705.5,677.5 1705.5,674.3 1705.5,671 1705.5,667.7 1705.5,664.5 1705.5,661.2 1705.5,658 1705.5,654.7 1705.9,654.7 1705.9,658 1705.9,661.2 1705.9,664.5 1705.9,667.7 1705.9,671 1705.9,674.3 1705.9,677.5 1706.1,680.8 1706.5,684.1 1707,687.3 1707.7,690.6 1708.7,693.9 1709.8,697.1 1711,700.4 1712.2,703.7 1713,706.9 1713.5,710.2 1713.5,713.4 1713,716.7 1712.2,720 1711,723.2 1709.8,726.5 1708.7,729.8 1707.7,733 1707,736.3 1706.5,739.6 1706.1,742.8 1705.9,746.1 1705.9,749.3 1705.9,752.6 1705.9,755.9 1705.9,759.1 1705.9,762.4 1705.9,765.7 1705.9,768.9 1705.9,772.2 1705.9,775.5 1705.9,778.7 1705.9,782 1706,785.3 1706.3,788.5 1706.7,791.8 1707.2,795 1707.7,798.3 1708.2,801.6 1708.6,804.8 1708.7,808.1" fill="#ff4a06" stroke="#2e2e2e" stroke-width="1.2" stroke-linejoin="round"/>
<polygon points="1750.6,808.1 1750.7,805 1751.1,801.9 1751.6,798.8 1752.1,795.6 1752.7,792.5 1753.1,789.4 1753.4,786.3 1753.6,783.2 1753.6,780.1 1753.6,777 1753.6,773.9 1753.6,770.7 1753.6,767.6 1753.6,764.5 1753.6,761.4 1753.6,758.3 1753.6,755.2 1753.6,752.1 1753.6,748.9 1753.4,745.8 1753,742.7 1752.5,739.6 1751.8,736.5 1750.9,733.4 1749.8,730.3 1748.6,727.2 1747.5,724 1746.6,720.9 1746,717.8 1745.9,714.7 1746.3,711.6 1747.1,708.5 1748.2,705.4 1749.4,702.2 1750.5,699.1 1751.5,696 1752.3,692.9 1752.9,689.8 1753.3,686.7 1753.5,683.6 1753.6,680.5 1753.6,677.3 1753.6,674.2 1753.6,671.1 1753.6,668 1753.6,664.9 1753.6,661.8 1754,661.8 1754,664.9 1754,668 1754,671.1 1754,674.2 1754,677.3 1754,680.5 1754.1,683.6 1754.3,686.7 1754.7,689.8 1755.3,692.9 1756.1,696 1757.1,699.1 1758.2,702.2 1759.4,705.4 1760.5,708.5 1761.3,711.6 1761.7,714.7 1761.6,717.8 1761,720.9 1760.1,724 1759,727.2 1757.8,730.3 1756.7,733.4 1755.8,736.5 1755.1,739.6 1754.6,742.7 1754.2,745.8 1754,748.9 1754,752.1 1754,755.2 1754,758.3 1754,761.4 1754,764.5 1754,767.6 1754,770.7 1754,773.9 1754,777 1754,780.1 1754,783.2 1754.2,786.3 1754.5,789.4 1754.9,792.5 1755.5,795.6 1756,798.8 1756.5,801.9 1756.9,805 1757,808.1" fill="#ff4a06" stroke="#2e2e2e" stroke-width="1.2" stroke-linejoin="round"/>
<polygon points="1797.8,808.1 1798,805 1798.4,802 1799,798.9 1799.7,795.8 1800.3,792.8 1800.8,789.7 1801.2,786.7 1801.4,783.6 1801.5,780.5 1801.5,777.5 1801.5,774.4 1801.5,771.3 1801.5,768.3 1801.5,765.2 1801.5,762.1 1801.5,759.1 1801.5,756 1801.5,753 1801.4,749.9 1801.2,746.8 1800.9,743.8 1800.4,740.7 1799.7,737.6 1798.8,734.6 1797.8,731.5 1796.7,728.4 1795.7,725.4 1794.9,722.3 1794.4,719.3 1794.3,716.2 1794.7,713.1 1795.4,710.1 1796.4,707 1797.5,703.9 1798.5,700.9 1799.4,697.8 1800.2,694.7 1800.8,691.7 1801.1,688.6 1801.4,685.6 1801.5,682.5 1801.5,679.4 1801.5,676.4 1801.5,673.3 1801.5,670.2 1801.5,667.2 1801.5,664.1 1801.9,664.1 1801.9,667.2 1801.9,670.2 1801.9,673.3 1801.9,676.4 1801.9,679.4 1801.9,682.5 1802,685.6 1802.3,688.6 1802.6,691.7 1803.2,694.7 1804,697.8 1804.9,700.9 1805.9,703.9 1807,707 1808,710.1 1808.7,713.1 1809.1,716.2 1809,719.3 1808.5,722.3 1807.7,725.4 1806.7,728.4 1805.6,731.5 1804.6,734.6 1803.7,737.6 1803,740.7 1802.5,743.8 1802.2,746.8 1802,749.9 1801.9,753 1801.9,756 1801.9,759.1 1801.9,762.1 1801.9,765.2 1801.9,768.3 1801.9,771.3 1801.9,774.4 1801.9,777.5 1801.9,780.5 1802,783.6 1802.2,786.7 1802.6,789.7 1803.1,792.8 1803.7,795.8 1804.4,798.9 1805,802 1805.4,805 1805.6,808.1" fill="#ff4a06" stroke="#2e2e2e" stroke-width="1.2" stroke-linejoin="round"/>
<polygon points="1843.6,808.1 1843.9,804.5 1844.9,801 1846.1,797.4 1847.3,793.9 1848.3,790.3 1849,786.7 1849.4,783.2 1849.6,779.6 1849.6,776 1849.6,772.5 1849.6,768.9 1849.6,765.4 1849.6,761.8 1849.6,758.2 1849.6,754.7 1849.6,751.1 1849.6,747.6 1849.6,744 1849.6,740.4 1849.6,736.9 1849.4,733.3 1849.2,729.7 1848.8,726.2 1848.3,722.6 1847.7,719.1 1847,715.5 1846.3,711.9 1845.7,708.4 1845.3,704.8 1845.1,701.3 1845.2,697.7 1845.6,694.1 1846.2,690.6 1846.9,687 1847.6,683.4 1848.2,679.9 1848.7,676.3 1849.1,672.8 1849.4,669.2 1849.6,665.6 1849.6,662.1 1849.6,658.5 1849.6,655 1849.6,651.4 1849.6,647.8 1849.6,644.3 1849.6,640.7 1850,640.7 1850,644.3 1850,647.8 1850,651.4 1850,655 1850,658.5 1850,662.1 1850,665.6 1850.2,669.2 1850.5,672.8 1850.9,676.3 1851.4,679.9 1852,683.4 1852.7,687 1853.4,690.6 1854,694.1 1854.4,697.7 1854.5,701.3 1854.3,704.8 1853.9,708.4 1853.3,711.9 1852.6,715.5 1851.9,719.1 1851.3,722.6 1850.8,726.2 1850.4,729.7 1850.2,733.3 1850,736.9 1850,740.4 1850,744 1850,747.6 1850,751.1 1850,754.7 1850,758.2 1850,761.8 1850,765.4 1850,768.9 1850,772.5 1850,776 1850,779.6 1850.2,783.2 1850.6,786.7 1851.3,790.3 1852.3,793.9 1853.5,797.4 1854.7,801 1855.7,804.5 1856,808.1" fill="#ff4a06" stroke="#2e2e2e" stroke-width="1.2" stroke-linejoin="round"/>
<polygon points="1891.4,808.1 1891.7,804.7 1892.6,801.2 1893.7,797.8 1894.9,794.4 1895.9,790.9 1896.7,787.5 1897.1,784 1897.4,780.6 1897.4,777.2 1897.4,773.7 1897.4,770.3 1897.4,766.9 1897.4,763.4 1897.4,760 1897.4,756.6 1897.4,753.1 1897.4,749.7 1897.4,746.2 1897.4,742.8 1897.2,739.4 1897,735.9 1896.7,732.5 1896.2,729.1 1895.6,725.6 1894.9,722.2 1894.2,718.8 1893.6,715.3 1893.2,711.9 1892.9,708.4 1892.9,705 1893.2,701.6 1893.7,698.1 1894.4,694.7 1895.1,691.3 1895.7,687.8 1896.3,684.4 1896.7,680.9 1897.1,677.5 1897.3,674.1 1897.4,670.6 1897.4,667.2 1897.4,663.8 1897.4,660.3 1897.4,656.9 1897.4,653.5 1897.4,650 1897.4,646.6 1897.8,646.6 1897.8,650 1897.8,653.5 1897.8,656.9 1897.8,660.3 1897.8,663.8 1897.8,667.2 1897.8,670.6 1897.9,674.1 1898.1,677.5 1898.5,680.9 1898.9,684.4 1899.5,687.8 1900.1,691.3 1900.8,694.7 1901.5,698.1 1902,701.6 1902.3,705 1902.3,708.4 1902,711.9 1901.6,715.3 1901,718.8 1900.3,722.2 1899.6,725.6 1899,729.1 1898.5,732.5 1898.2,735.9 1898,739.4 1897.8,742.8 1897.8,746.2 1897.8,749.7 1897.8,753.1 1897.8,756.6 1897.8,760 1897.8,763.4 1897.8,766.9 1897.8,770.3 1897.8,773.7 1897.8,777.2 1897.8,780.6 1898.1,784 1898.5,787.5 1899.3,790.9 1900.3,794.4 1901.5,797.8 1902.6,801.2 1903.5,804.7 1903.8,808.1" fill="#ff4a06" stroke="#2e2e2e" stroke-width="1.2" stroke-linejoin="round"/>
<polygon points="1939.6,808.1 1939.9,804.8 1940.7,801.5 1941.8,798.3 1942.9,795 1943.9,791.7 1944.7,788.4 1945.2,785.2 1945.5,781.9 1945.6,778.6 1945.6,775.3 1945.6,772 1945.6,768.8 1945.6,765.5 1945.6,762.2 1945.6,758.9 1945.6,755.7 1945.6,752.4 1945.6,749.1 1945.4,745.8 1945.2,742.5 1944.8,739.3 1944.4,736 1943.8,732.7 1943.1,729.4 1942.5,726.2 1941.8,722.9 1941.4,719.6 1941.1,716.3 1941,713 1941.2,709.8 1941.6,706.5 1942.2,703.2 1942.9,699.9 1943.6,696.7 1944.2,693.4 1944.7,690.1 1945.1,686.8 1945.3,683.5 1945.5,680.3 1945.6,677 1945.6,673.7 1945.6,670.4 1945.6,667.2 1945.6,663.9 1945.6,660.6 1945.6,657.3 1945.6,654 1946,654 1946,657.3 1946,660.6 1946,663.9 1946,667.2 1946,670.4 1946,673.7 1946,677 1946.1,680.3 1946.3,683.5 1946.5,686.8 1946.9,690.1 1947.4,693.4 1948,696.7 1948.7,699.9 1949.4,703.2 1950,706.5 1950.4,709.8 1950.6,713 1950.5,716.3 1950.2,719.6 1949.8,722.9 1949.1,726.2 1948.5,729.4 1947.8,732.7 1947.2,736 1946.8,739.3 1946.4,742.5 1946.2,745.8 1946,749.1 1946,752.4 1946,755.7 1946,758.9 1946,762.2 1946,765.5 1946,768.8 1946,772 1946,775.3 1946,778.6 1946.1,781.9 1946.4,785.2 1946.9,788.4 1947.7,791.7 1948.7,795 1949.8,798.3 1950.9,801.5 1951.7,804.8 1952,808.1" fill="#ff4a06" stroke="#2e2e2e" stroke-width="1.2" stroke-linejoin="round"/>
<polygon points="1987.2,808.1 1987.5,804.7 1988.4,801.3 1989.6,798 1990.8,794.6 1991.8,791.2 1992.6,787.8 1993.1,784.5 1993.4,781.1 1993.4,777.7 1993.4,774.3 1993.4,771 1993.4,767.6 1993.4,764.2 1993.4,760.8 1993.4,757.4 1993.4,754.1 1993.4,750.7 1993.4,747.3 1993.4,743.9 1993.4,740.6 1993.3,737.2 1993.1,733.8 1992.8,730.4 1992.4,727.1 1991.9,723.7 1991.3,720.3 1990.6,716.9 1989.9,713.5 1989.3,710.2 1988.9,706.8 1988.8,703.4 1988.9,700 1989.3,696.7 1989.9,693.3 1990.5,689.9 1991.2,686.5 1991.9,683.2 1992.4,679.8 1992.8,676.4 1993.1,673 1993.3,669.6 1993.4,666.3 1993.4,662.9 1993.4,659.5 1993.4,656.1 1993.4,652.8 1993.4,649.4 1993.8,649.4 1993.8,652.8 1993.8,656.1 1993.8,659.5 1993.8,662.9 1993.8,666.3 1993.9,669.6 1994.1,673 1994.4,676.4 1994.8,679.8 1995.3,683.2 1996,686.5 1996.7,689.9 1997.3,693.3 1997.9,696.7 1998.3,700 1998.4,703.4 1998.3,706.8 1997.9,710.2 1997.3,713.5 1996.6,716.9 1995.9,720.3 1995.3,723.7 1994.8,727.1 1994.4,730.4 1994.1,733.8 1993.9,737.2 1993.8,740.6 1993.8,743.9 1993.8,747.3 1993.8,750.7 1993.8,754.1 1993.8,757.4 1993.8,760.8 1993.8,764.2 1993.8,767.6 1993.8,771 1993.8,774.3 1993.8,777.7 1993.8,781.1 1994.1,784.5 1994.6,787.8 1995.4,791.2 1996.4,794.6 1997.6,798 1998.8,801.3 1999.7,804.7 2000,808.1" fill="#ff4a06" stroke="#2e2e2e" stroke-width="1.2" stroke-linejoin="round"/>
<polygon points="2035.5,808.1 2035.8,804.7 2036.6,801.3 2037.8,797.8 2038.9,794.4 2039.9,791 2040.7,787.6 2041.1,784.2 2041.4,780.8 2041.4,777.3 2041.4,773.9 2041.4,770.5 2041.4,767.1 2041.4,763.7 2041.4,760.2 2041.4,756.8 2041.4,753.4 2041.4,750 2041.4,746.6 2041.4,743.1 2041.4,739.7 2041.2,736.3 2041,732.9 2040.6,729.5 2040.2,726.1 2039.6,722.6 2038.9,719.2 2038.2,715.8 2037.5,712.4 2037,709 2036.7,705.5 2036.7,702.1 2037,698.7 2037.6,695.3 2038.2,691.9 2038.9,688.4 2039.6,685 2040.2,681.6 2040.7,678.2 2041,674.8 2041.3,671.4 2041.4,667.9 2041.4,664.5 2041.4,661.1 2041.4,657.7 2041.4,654.3 2041.4,650.8 2041.4,647.4 2041.8,647.4 2041.8,650.8 2041.8,654.3 2041.8,657.7 2041.8,661.1 2041.8,664.5 2041.8,667.9 2041.9,671.4 2042.2,674.8 2042.5,678.2 2043,681.6 2043.6,685 2044.3,688.4 2045,691.9 2045.6,695.3 2046.2,698.7 2046.5,702.1 2046.5,705.5 2046.2,709 2045.7,712.4 2045,715.8 2044.3,719.2 2043.6,722.6 2043,726.1 2042.6,729.5 2042.2,732.9 2042,736.3 2041.8,739.7 2041.8,743.1 2041.8,746.6 2041.8,750 2041.8,753.4 2041.8,756.8 2041.8,760.2 2041.8,763.7 2041.8,767.1 2041.8,770.5 2041.8,773.9 2041.8,777.3 2041.8,780.8 2042.1,784.2 2042.5,787.6 2043.3,791 2044.3,794.4 2045.4,797.8 2046.6,801.3 2047.4,804.7 2047.7,808.1" fill="#ff4a06" stroke="#2e2e2e" stroke-width="1.2" stroke-linejoin="round"/>
<polygon points="2084.6,808.1 2084.8,804.7 2085.5,801.3 2086.4,797.9 2087.4,794.5 2088.2,791.1 2088.8,787.7 2089.2,784.3 2089.4,780.9 2089.4,777.5 2089.4,774.1 2089.4,770.7 2089.4,767.3 2089.4,763.9 2089.4,760.5 2089.4,757.1 2089.4,753.7 2089.4,750.3 2089.4,746.9 2089.1,743.5 2088.8,740.1 2088.3,736.7 2087.7,733.3 2086.9,729.9 2086,726.5 2085.2,723.1 2084.5,719.7 2084.1,716.3 2084,712.9 2084.3,709.5 2084.9,706.1 2085.7,702.7 2086.6,699.3 2087.4,695.9 2088.1,692.5 2088.7,689.1 2089,685.7 2089.3,682.3 2089.4,678.9 2089.4,675.5 2089.4,672.1 2089.4,668.7 2089.4,665.3 2089.4,662 2089.4,658.6 2089.4,655.2 2089.4,651.8 2089.4,648.4 2089.8,648.4 2089.8,651.8 2089.8,655.2 2089.8,658.6 2089.8,662 2089.8,665.3 2089.8,668.7 2089.8,672.1 2089.8,675.5 2089.8,678.9 2089.9,682.3 2090.2,685.7 2090.5,689.1 2091.1,692.5 2091.8,695.9 2092.6,699.3 2093.5,702.7 2094.3,706.1 2094.9,709.5 2095.2,712.9 2095.1,716.3 2094.7,719.7 2094,723.1 2093.2,726.5 2092.3,729.9 2091.5,733.3 2090.9,736.7 2090.4,740.1 2090.1,743.5 2089.8,746.9 2089.8,750.3 2089.8,753.7 2089.8,757.1 2089.8,760.5 2089.8,763.9 2089.8,767.3 2089.8,770.7 2089.8,774.1 2089.8,777.5 2089.8,780.9 2090,784.3 2090.4,787.7 2091,791.1 2091.8,794.5 2092.8,797.9 2093.7,801.3 2094.4,804.7 2094.6,808.1" fill="#ff4a06" stroke="#2e2e2e" stroke-width="1.2" stroke-linejoin="round"/>
<line x1="1157.6" y1="625.6" x2="1157.6" y2="817.2" stroke="#000" stroke-width="2.1" stroke-linecap="butt"/>
<line x1="1156.6" y1="816.2" x2="2127" y2="816.2" stroke="#000" stroke-width="2.1" stroke-linecap="butt"/>
<line x1="1151.8" y1="808.1" x2="1157.6" y2="808.1" stroke="#000" stroke-width="1.8" stroke-linecap="butt"/>
<text x="1151.6" y="817" font-size="25" text-anchor="end">0</text>
<line x1="1151.8" y1="761.5" x2="1157.6" y2="761.5" stroke="#000" stroke-width="1.8" stroke-linecap="butt"/>
<text x="1151.6" y="770.4" font-size="25" text-anchor="end">5</text>
<line x1="1151.8" y1="714.9" x2="1157.6" y2="714.9" stroke="#000" stroke-width="1.8" stroke-linecap="butt"/>
<text x="1151.6" y="723.8" font-size="25" text-anchor="end">10</text>
<line x1="1151.8" y1="668.3" x2="1157.6" y2="668.3" stroke="#000" stroke-width="1.8" stroke-linecap="butt"/>
<text x="1151.6" y="677.2" font-size="25" text-anchor="end">15</text>
<line x1="1186.4" y1="816.2" x2="1186.4" y2="819.2" stroke="#000" stroke-width="1.5" stroke-linecap="butt"/>
<text x="1193.1" y="821" font-size="24.6" text-anchor="end" transform="rotate(-90 1193.1 821)">ASTRO</text>
<line x1="1234.4" y1="816.2" x2="1234.4" y2="819.2" stroke="#000" stroke-width="1.5" stroke-linecap="butt"/>
<text x="1241.1" y="821" font-size="24.6" text-anchor="end" transform="rotate(-90 1241.1 821)">ENDO</text>
<line x1="1282.3" y1="816.2" x2="1282.3" y2="819.2" stroke="#000" stroke-width="1.5" stroke-linecap="butt"/>
<text x="1289" y="821" font-size="24.6" text-anchor="end" transform="rotate(-90 1289 821)">EX2/3_IT</text>
<line x1="1330.3" y1="816.2" x2="1330.3" y2="819.2" stroke="#000" stroke-width="1.5" stroke-linecap="butt"/>
<text x="1337" y="821" font-size="24.6" text-anchor="end" transform="rotate(-90 1337 821)">EX4/5_IT</text>
<line x1="1378.3" y1="816.2" x2="1378.3" y2="819.2" stroke="#000" stroke-width="1.5" stroke-linecap="butt"/>
<text x="1385" y="821" font-size="24.6" text-anchor="end" transform="rotate(-90 1385 821)">EX5_ET</text>
<line x1="1426.2" y1="816.2" x2="1426.2" y2="819.2" stroke="#000" stroke-width="1.5" stroke-linecap="butt"/>
<text x="1433" y="821" font-size="24.6" text-anchor="end" transform="rotate(-90 1433 821)">EX5_IT</text>
<line x1="1474.2" y1="816.2" x2="1474.2" y2="819.2" stroke="#000" stroke-width="1.5" stroke-linecap="butt"/>
<text x="1480.9" y="821" font-size="24.6" text-anchor="end" transform="rotate(-90 1480.9 821)">EX5/6_NP</text>
<line x1="1522.2" y1="816.2" x2="1522.2" y2="819.2" stroke="#000" stroke-width="1.5" stroke-linecap="butt"/>
<text x="1528.9" y="821" font-size="24.6" text-anchor="end" transform="rotate(-90 1528.9 821)">EX6_CT</text>
<line x1="1570.2" y1="816.2" x2="1570.2" y2="819.2" stroke="#000" stroke-width="1.5" stroke-linecap="butt"/>
<text x="1576.9" y="821" font-size="24.6" text-anchor="end" transform="rotate(-90 1576.9 821)">EX6_IT</text>
<line x1="1618.1" y1="816.2" x2="1618.1" y2="819.2" stroke="#000" stroke-width="1.5" stroke-linecap="butt"/>
<text x="1624.8" y="821" font-size="24.6" text-anchor="end" transform="rotate(-90 1624.8 821)">EX6b</text>
<line x1="1666.1" y1="816.2" x2="1666.1" y2="819.2" stroke="#000" stroke-width="1.5" stroke-linecap="butt"/>
<text x="1672.8" y="821" font-size="24.6" text-anchor="end" transform="rotate(-90 1672.8 821)">IN_Pvalb</text>
<line x1="1714.1" y1="816.2" x2="1714.1" y2="819.2" stroke="#000" stroke-width="1.5" stroke-linecap="butt"/>
<text x="1720.8" y="821" font-size="24.6" text-anchor="end" transform="rotate(-90 1720.8 821)">IN_Sncg</text>
<line x1="1762" y1="816.2" x2="1762" y2="819.2" stroke="#000" stroke-width="1.5" stroke-linecap="butt"/>
<text x="1768.7" y="821" font-size="24.6" text-anchor="end" transform="rotate(-90 1768.7 821)">IN_Sst</text>
<line x1="1810" y1="816.2" x2="1810" y2="819.2" stroke="#000" stroke-width="1.5" stroke-linecap="butt"/>
<text x="1816.7" y="821" font-size="24.6" text-anchor="end" transform="rotate(-90 1816.7 821)">IN_Vip</text>
<line x1="1858" y1="816.2" x2="1858" y2="819.2" stroke="#000" stroke-width="1.5" stroke-linecap="butt"/>
<text x="1864.7" y="821" font-size="24.6" text-anchor="end" transform="rotate(-90 1864.7 821)">MICRO</text>
<line x1="1906" y1="816.2" x2="1906" y2="819.2" stroke="#000" stroke-width="1.5" stroke-linecap="butt"/>
<text x="1912.7" y="821" font-size="24.6" text-anchor="end" transform="rotate(-90 1912.7 821)">MOL</text>
<line x1="1953.9" y1="816.2" x2="1953.9" y2="819.2" stroke="#000" stroke-width="1.5" stroke-linecap="butt"/>
<text x="1960.6" y="821" font-size="24.6" text-anchor="end" transform="rotate(-90 1960.6 821)">OPC</text>
<line x1="2001.9" y1="816.2" x2="2001.9" y2="819.2" stroke="#000" stroke-width="1.5" stroke-linecap="butt"/>
<text x="2008.6" y="821" font-size="24.6" text-anchor="end" transform="rotate(-90 2008.6 821)">Pericyte</text>
<line x1="2049.9" y1="816.2" x2="2049.9" y2="819.2" stroke="#000" stroke-width="1.5" stroke-linecap="butt"/>
<text x="2056.6" y="821" font-size="24.6" text-anchor="end" transform="rotate(-90 2056.6 821)">PVM</text>
<line x1="2097.8" y1="816.2" x2="2097.8" y2="819.2" stroke="#000" stroke-width="1.5" stroke-linecap="butt"/>
<text x="2104.5" y="821" font-size="24.6" text-anchor="end" transform="rotate(-90 2104.5 821)">VLMC</text>
<text x="1049" y="601.4" font-size="37.5">D</text>
<text x="1170.7" y="624.8" font-size="26.4">P56</text>
<text x="1081.4" y="754" font-size="24.7" text-anchor="middle" transform="rotate(-90 1081.4 754)">Normalized expression</text>
<text x="1112.4" y="750.8" font-size="24.7" text-anchor="middle" transform="rotate(-90 1112.4 750.8)">of <tspan font-style="italic">CLOCK</tspan></text>
<rect x="1515.2" y="603.9" width="14.2" height="14" fill="#ff4a06" stroke="#333" stroke-width="1.2"/>
<text x="1537" y="618.8" font-size="25.3">HU</text>
<rect x="1515.2" y="645.7" width="14.2" height="14" fill="#8a8a8a" stroke="#333" stroke-width="1.2"/>
<text x="1537.8" y="660.7" font-size="24.8">WT</text>
<g fill="#d3d3d3" filter="url(#fgE1)">
<path d="M153.6,1034.4C154.9,1033.8 159,1032.6 162.6,1033.7C166.2,1034.8 171.1,1038.5 175.4,1040.8C179.7,1043.1 184,1046.4 188.3,1047.5C192.6,1048.6 196.8,1047.8 201.1,1047.5C205.4,1047.2 211.5,1045.2 214,1045.5C216.5,1045.8 217.1,1048.2 216,1049.5C214.9,1050.8 210.4,1051.6 207.5,1053.6C204.6,1055.6 202.8,1059.4 198.5,1061.3C194.2,1063.2 187.5,1063.9 181.9,1065.2C176.3,1066.5 168.5,1070.1 165.2,1069C161.9,1067.9 162.7,1062.8 162,1058.7C161.3,1054.6 162.5,1048.1 161.3,1044.6C160.1,1041.1 156.3,1039.3 155,1037.6C153.7,1035.9 152.3,1035.1 153.6,1034.4Z"/>
</g>
<g fill="#b59ae3" filter="url(#fmE1)">
<path d="M126,1135C127.5,1133.7 133,1132.6 137,1130.6C141,1128.6 145.5,1125.5 149.8,1122.9C154.1,1120.3 158.8,1117.8 162.6,1115.2C166.4,1112.6 169.9,1110.5 172.9,1107.5C175.9,1104.5 178.7,1099.2 180.6,1097.2C182.5,1095.2 184.2,1094.4 184.4,1095.3C184.6,1096.2 182.2,1099.1 181.9,1102.4C181.6,1105.7 182.2,1110.3 182.5,1115.2C182.8,1120.1 183.8,1127.8 183.8,1131.9C183.8,1136 183.9,1137.2 182.5,1139.6C181.1,1141.9 178.7,1144.3 175.4,1146C172.1,1147.7 166.9,1149.5 162.6,1149.8C158.3,1150.1 154.1,1149.2 149.8,1147.9C145.5,1146.6 140.6,1143.7 137,1142.1C133.4,1140.5 129.8,1139.5 128,1138.3C126.2,1137.1 124.5,1136.3 126,1135Z"/>
<path d="M286.6,1043.7C289.7,1045.3 298.6,1054.7 305.3,1059.4C312,1064.1 319.6,1067.9 326.8,1072.1C334,1076.3 342.1,1080.4 348.3,1084.8C354.5,1089.2 358.8,1094.2 364,1098.5C369.2,1102.8 374.1,1107.3 379.7,1110.3C385.2,1113.2 392.1,1113.6 397.3,1116.2C402.5,1118.8 407.2,1122.1 411,1126C414.8,1129.9 418.2,1132.9 419.8,1139.7C421.4,1146.5 420.5,1157.6 420.8,1167.1C421.1,1176.6 420.8,1188.3 421.8,1196.5C422.8,1204.7 425.4,1209.5 426.7,1216C428,1222.5 429.6,1229.1 429.6,1235.6C429.6,1242.1 428.8,1249.7 426.7,1255.2C424.6,1260.8 420.2,1264.7 416.9,1268.9C413.6,1273.2 409.4,1276.5 407.1,1280.7C404.8,1285 405.8,1290.5 403.2,1294.4C400.6,1298.3 396,1302.2 391.4,1304.2C386.8,1306.2 380.4,1307.4 375.8,1306.1C371.2,1304.8 367.6,1300.3 364,1296.4C360.4,1292.5 357.1,1286.2 354.2,1282.6C351.3,1279 346.7,1277.1 346.4,1274.8C346.1,1272.5 349.7,1271.8 352.3,1268.9C354.9,1266 358.8,1261.1 362,1257.2C365.2,1253.3 369.4,1249.3 371.8,1245.4C374.2,1241.5 375.4,1237.9 376.7,1233.7C378,1229.5 381.2,1223.9 379.7,1220C378.2,1216.1 372.1,1212.8 367.9,1210.2C363.6,1207.6 358.8,1206.6 354.2,1204.3C349.6,1202 344.4,1199.8 340.5,1196.5C336.6,1193.2 333,1189.6 330.7,1184.7C328.4,1179.8 327.9,1172.6 326.8,1167.1C325.7,1161.5 325.9,1156.6 323.9,1151.4C321.9,1146.2 317.8,1141 315,1135.8C312.2,1130.6 308.2,1124 307.2,1120.1C306.2,1116.2 307.2,1114.6 309.2,1112.3C311.2,1110 317.1,1109.4 319,1106.4C320.9,1103.5 322.5,1099.2 320.9,1094.6C319.3,1090 313.4,1084.2 309.2,1079C305,1073.8 299.3,1068.2 295.5,1063.3C291.7,1058.4 288.1,1052.9 286.6,1049.6C285.1,1046.3 283.5,1042.1 286.6,1043.7Z"/>
<path d="M204.9,1212.5C206.3,1210.7 211.4,1208.7 215.8,1207.7C220.2,1206.7 227.1,1207.5 231.6,1206.5C236.1,1205.5 239.1,1203.4 242.6,1201.6C246.1,1199.8 249.9,1196.7 252.3,1195.5C254.7,1194.3 255.9,1193.3 257.1,1194.3C258.3,1195.3 258,1197.9 259.6,1201.6C261.2,1205.2 264.5,1211.3 266.9,1216.2C269.3,1221.1 272,1226 274.2,1230.8C276.4,1235.6 278,1241.2 280.2,1245.3C282.4,1249.3 284.4,1251.6 287.5,1255.1C290.6,1258.5 295.4,1263.2 298.5,1266C301.6,1268.8 304.8,1270.3 305.8,1272.1C306.8,1273.9 306.3,1276.3 304.5,1276.9C302.7,1277.5 298.4,1275.7 294.8,1275.7C291.2,1275.7 286.8,1276.3 282.7,1276.9C278.6,1277.5 275,1278.6 270.5,1279.4C266,1280.2 259.9,1282.2 255.9,1281.8C251.8,1281.4 248.4,1279.3 246.2,1276.9C244,1274.5 243.4,1270.8 242.6,1267.2C241.8,1263.6 241.7,1258.8 241.3,1255.1C240.9,1251.4 242.3,1248.5 240.1,1245.3C237.9,1242 232.1,1238.8 228,1235.6C223.9,1232.4 219.2,1228.7 215.8,1225.9C212.4,1223.1 209.1,1220.8 207.3,1218.6C205.5,1216.4 203.5,1214.3 204.9,1212.5Z"/>
<path d="M144.7,1207.7C146.7,1208.9 151.8,1213.6 155.1,1217.4C158.4,1221.2 162,1226.5 164.8,1230.8C167.6,1235 170,1239.9 172.1,1242.9C174.2,1245.9 176.9,1247.2 177.5,1249C178.1,1250.8 176.7,1252.4 175.7,1253.8C174.7,1255.2 172.3,1255.5 171.5,1257.5C170.7,1259.5 171,1262.9 171,1266C171,1269.1 171.2,1273.4 171.5,1276C171.8,1278.6 172.4,1280.3 172.5,1281.5C172.6,1282.7 169.9,1280.9 172.1,1283C174.2,1285.1 180.9,1291.4 185.4,1294C189.9,1296.6 195.2,1296.8 198.8,1298.8C202.5,1300.8 205,1302.6 207.3,1306.1C209.6,1309.5 211.8,1315.5 212.8,1319.5C213.8,1323.5 214.3,1327.2 213.4,1330.4C212.5,1333.6 211,1336.7 207.3,1338.9C203.7,1341.1 197.2,1342.8 191.5,1343.8C185.8,1344.8 178.6,1345.4 173.3,1345C168,1344.6 163.8,1343.3 159.9,1341.3C156.1,1339.3 152.5,1336.2 150.2,1332.8C147.9,1329.4 146.9,1325 146,1320.7C145.1,1316.5 144.8,1311.3 144.7,1307.3C144.6,1303.2 144.6,1300.1 145.3,1296.4C146,1292.7 147.6,1287.6 149,1285C150.4,1282.4 152.9,1283.2 154,1281C155.1,1278.8 155.3,1275.2 155.5,1272C155.7,1268.8 155.6,1264.8 155,1262C154.4,1259.2 153.2,1257.3 152,1255.5C150.8,1253.7 150.1,1251.7 147.8,1251.4C145.5,1251.1 141.6,1253.2 138.1,1253.8C134.6,1254.4 129.7,1255.5 127.1,1255.1C124.5,1254.7 122.9,1253.4 122.3,1251.4C121.7,1249.4 122.1,1245.9 123.5,1242.9C124.9,1239.9 128.8,1236.9 130.8,1233.2C132.8,1229.5 133.6,1224.8 135.6,1221C137.6,1217.2 141.4,1212.3 142.9,1210.1C144.4,1207.9 142.7,1206.5 144.7,1207.7Z"/>
<path d="M125,1403.1C126,1401.5 129.3,1398.7 132.6,1397.1C135.9,1395.5 141.6,1393.2 144.6,1393.3C147.6,1393.4 148.1,1395.9 150.6,1397.8C153.1,1399.7 156.3,1402.6 159.6,1404.6C162.9,1406.6 166.4,1408.5 170.2,1409.9C174,1411.3 178.2,1412.2 182.2,1412.9C186.2,1413.6 191.2,1414.7 194.2,1414.1C197.2,1413.5 198.8,1411.2 200.3,1409.1C201.8,1407 202.1,1402 203.3,1401.6C204.6,1401.2 205.3,1406.3 207.8,1406.6C210.3,1406.8 216.1,1401.7 218.3,1403.1C220.6,1404.5 221.1,1411.6 221.3,1415.1C221.6,1418.6 221.3,1421.8 219.8,1424.2C218.3,1426.6 215.1,1429.2 212.3,1429.4C209.6,1429.7 206.3,1427.1 203.3,1425.7C200.3,1424.3 198.7,1422.4 194.2,1421.2C189.7,1420 180.4,1419.6 176.2,1418.6C171.9,1417.6 171.5,1416.5 168.7,1415.1C165.9,1413.6 162.9,1411.2 159.6,1409.9C156.3,1408.7 152.8,1407.8 149.1,1407.6C145.3,1407.3 140.9,1408.5 137.1,1408.4C133.3,1408.3 128.5,1407.8 126.5,1406.9C124.5,1406 124,1404.7 125,1403.1Z"/>
<path d="M389.8,1389.6C391.8,1388.6 395.6,1389.3 398.9,1391.1C402.2,1392.8 406.6,1396.8 409.4,1400.1C412.1,1403.3 414.9,1407.3 415.4,1410.6C415.9,1413.8 414.4,1417.5 412.4,1419.6C410.4,1421.7 406.9,1423.3 403.4,1423.4C399.9,1423.5 393.9,1422.5 391.3,1420.4C388.7,1418.3 388.4,1414.5 387.6,1410.6C386.9,1406.7 386.4,1400.6 386.8,1397.1C387.2,1393.6 387.8,1390.6 389.8,1389.6Z"/>
<g transform="translate(0,0)"><path d="M98.5,1228.5 L77.5,1259.5" fill="none" stroke="#b194e5" stroke-width="4.2" stroke-linecap="round"/><path d="M79,1262 C82,1268 90,1270 95,1264 C97,1259 95,1254 91,1255 C86,1257 82,1259 79,1262" fill="none" stroke="#b194e5" stroke-width="2.8" stroke-linecap="round"/><path d="M214,1047.5 L236,1039.5 L256,1031.5" fill="none" stroke="#cfc9e3" stroke-width="1.4" stroke-linecap="round"/><path d="M113.7,1201.6 L123.5,1182.2" fill="none" stroke="#c4bce0" stroke-width="1.6" stroke-linecap="round"/></g>
</g>
<g fill="#d3d3d3" filter="url(#fgE1)">
<path d="M286.6,1043.7C288.2,1043.1 298.6,1054.7 305.3,1059.4C312,1064.1 319.6,1067.9 326.8,1072.1C334,1076.3 342.1,1080.4 348.3,1084.8C354.5,1089.2 365.4,1096 364,1098.5C362.6,1101 347.2,1100.7 340,1100C332.8,1099.3 326,1098.1 320.9,1094.6C315.8,1091.1 313.4,1084.2 309.2,1079C305,1073.8 299.3,1069.2 295.5,1063.3C291.7,1057.4 285,1044.3 286.6,1043.7Z"/>
<path d="M141,1225C143.2,1221.8 147.8,1218.8 152,1221C156.2,1223.2 162.2,1233.2 166,1238C169.8,1242.8 174.2,1246.8 175,1250C175.8,1253.2 171.8,1253.7 171,1257C170.2,1260.3 170.5,1265.5 170.5,1270C170.5,1274.5 173.4,1281.7 171,1284C168.6,1286.3 158.5,1287.7 156,1284C153.5,1280.3 157.3,1267.5 156,1262C154.7,1256.5 150.8,1254.7 148,1251C145.2,1247.3 140.2,1244.3 139,1240C137.8,1235.7 138.8,1228.2 141,1225Z"/>
</g>
<g fill="#e6e4ec" filter="url(#fsE1)">
<path d="M134,1097C136,1092.8 144.3,1092.8 150,1093C155.7,1093.2 163.7,1096.2 168,1098C172.3,1099.8 176.3,1101.3 176,1104C175.7,1106.7 170.3,1110.8 166,1114C161.7,1117.2 154.7,1122.3 150,1123C145.3,1123.7 140.7,1122.3 138,1118C135.3,1113.7 132,1101.2 134,1097Z"/>
<path d="M222,1214C223.7,1210.8 235,1210.8 240,1209C245,1207.2 249.3,1202 252,1203C254.7,1204 255,1210.2 256,1215C257,1219.8 258.7,1226.8 258,1232C257.3,1237.2 254.7,1244.7 252,1246C249.3,1247.3 245.7,1243 242,1240C238.3,1237 233.3,1232.3 230,1228C226.7,1223.7 220.3,1217.2 222,1214Z"/>
<path d="M166,1306C168,1301.8 175.5,1302.3 180,1303C184.5,1303.7 190,1306.8 193,1310C196,1313.2 198,1318 198,1322C198,1326 196,1331.7 193,1334C190,1336.3 184.2,1337 180,1336C175.8,1335 170.3,1333 168,1328C165.7,1323 164,1310.2 166,1306Z"/>
</g>
<g fill="#ab8be7" filter="url(#fmE2)">
<path d="M686.1,1034.4C687.4,1033.8 691.5,1032.6 695.1,1033.7C698.7,1034.8 703.6,1038.5 707.9,1040.8C712.2,1043.1 716.5,1046.4 720.8,1047.5C725.1,1048.6 729.3,1047.8 733.6,1047.5C737.9,1047.2 744,1045.2 746.5,1045.5C749,1045.8 749.6,1048.2 748.5,1049.5C747.4,1050.8 742.9,1051.6 740,1053.6C737.1,1055.6 735.3,1059.4 731,1061.3C726.7,1063.2 719.9,1063.9 714.4,1065.2C708.9,1066.5 701,1070.1 697.7,1069C694.4,1067.9 695.1,1062.8 694.5,1058.7C693.9,1054.6 695,1048.1 693.8,1044.6C692.6,1041.1 688.8,1039.3 687.5,1037.6C686.2,1035.9 684.8,1035.1 686.1,1034.4Z"/>
<path d="M658.5,1135C660,1133.7 665.5,1132.6 669.5,1130.6C673.5,1128.6 678,1125.5 682.3,1122.9C686.6,1120.3 691.2,1117.8 695.1,1115.2C699,1112.6 702.4,1110.5 705.4,1107.5C708.4,1104.5 711.2,1099.2 713.1,1097.2C715,1095.2 716.7,1094.4 716.9,1095.3C717.1,1096.2 714.7,1099.1 714.4,1102.4C714.1,1105.7 714.7,1110.3 715,1115.2C715.3,1120.1 716.3,1127.8 716.3,1131.9C716.3,1136 716.4,1137.2 715,1139.6C713.6,1141.9 711.2,1144.3 707.9,1146C704.6,1147.7 699.4,1149.5 695.1,1149.8C690.8,1150.1 686.6,1149.2 682.3,1147.9C678,1146.6 673.1,1143.7 669.5,1142.1C665.9,1140.5 662.3,1139.5 660.5,1138.3C658.7,1137.1 657,1136.3 658.5,1135Z"/>
<path d="M819.1,1043.7C822.2,1045.3 831.1,1054.7 837.8,1059.4C844.5,1064.1 852.1,1067.9 859.3,1072.1C866.5,1076.3 874.6,1080.4 880.8,1084.8C887,1089.2 891.3,1094.2 896.5,1098.5C901.7,1102.8 906.7,1107.3 912.2,1110.3C917.8,1113.2 924.6,1113.6 929.8,1116.2C935,1118.8 939.8,1122.1 943.5,1126C947.2,1129.9 950.7,1132.9 952.3,1139.7C953.9,1146.5 953,1157.6 953.3,1167.1C953.6,1176.6 953.3,1188.3 954.3,1196.5C955.3,1204.7 957.9,1209.5 959.2,1216C960.5,1222.5 962.1,1229.1 962.1,1235.6C962.1,1242.1 961.3,1249.7 959.2,1255.2C957.1,1260.8 952.7,1264.7 949.4,1268.9C946.1,1273.2 941.9,1276.5 939.6,1280.7C937.3,1285 938.3,1290.5 935.7,1294.4C933.1,1298.3 928.5,1302.2 923.9,1304.2C919.3,1306.2 912.9,1307.4 908.3,1306.1C903.7,1304.8 900.1,1300.3 896.5,1296.4C892.9,1292.5 889.6,1286.2 886.7,1282.6C883.8,1279 879.2,1277.1 878.9,1274.8C878.6,1272.5 882.2,1271.8 884.8,1268.9C887.4,1266 891.2,1261.1 894.5,1257.2C897.8,1253.3 901.8,1249.3 904.3,1245.4C906.8,1241.5 907.9,1237.9 909.2,1233.7C910.5,1229.5 913.7,1223.9 912.2,1220C910.7,1216.1 904.6,1212.8 900.4,1210.2C896.1,1207.6 891.3,1206.6 886.7,1204.3C882.1,1202 876.9,1199.8 873,1196.5C869.1,1193.2 865.5,1189.6 863.2,1184.7C860.9,1179.8 860.4,1172.6 859.3,1167.1C858.2,1161.5 858.4,1156.6 856.4,1151.4C854.4,1146.2 850.3,1141 847.5,1135.8C844.7,1130.6 840.7,1124 839.7,1120.1C838.7,1116.2 839.7,1114.6 841.7,1112.3C843.7,1110 849.5,1109.4 851.5,1106.4C853.5,1103.5 855,1099.2 853.4,1094.6C851.8,1090 845.9,1084.2 841.7,1079C837.5,1073.8 831.8,1068.2 828,1063.3C824.2,1058.4 820.6,1052.9 819.1,1049.6C817.6,1046.3 816,1042.1 819.1,1043.7Z"/>
<path d="M737.4,1212.5C738.8,1210.7 743.8,1208.7 748.3,1207.7C752.8,1206.7 759.6,1207.5 764.1,1206.5C768.6,1205.5 771.7,1203.4 775.1,1201.6C778.5,1199.8 782.4,1196.7 784.8,1195.5C787.2,1194.3 788.4,1193.3 789.6,1194.3C790.8,1195.3 790.5,1197.9 792.1,1201.6C793.7,1205.2 797,1211.3 799.4,1216.2C801.8,1221.1 804.5,1226 806.7,1230.8C808.9,1235.6 810.5,1241.2 812.7,1245.3C814.9,1249.3 817,1251.6 820,1255.1C823,1258.5 828,1263.2 831,1266C834,1268.8 837.3,1270.3 838.3,1272.1C839.3,1273.9 838.8,1276.3 837,1276.9C835.2,1277.5 830.9,1275.7 827.3,1275.7C823.7,1275.7 819.2,1276.3 815.2,1276.9C811.2,1277.5 807.5,1278.6 803,1279.4C798.5,1280.2 792.4,1282.2 788.4,1281.8C784.4,1281.4 780.9,1279.3 778.7,1276.9C776.5,1274.5 775.9,1270.8 775.1,1267.2C774.3,1263.6 774.2,1258.8 773.8,1255.1C773.4,1251.4 774.8,1248.5 772.6,1245.3C770.4,1242 764.5,1238.8 760.5,1235.6C756.5,1232.4 751.8,1228.7 748.3,1225.9C744.8,1223.1 741.6,1220.8 739.8,1218.6C738,1216.4 736,1214.3 737.4,1212.5Z"/>
<path d="M677.2,1207.7C679.2,1208.9 684.2,1213.6 687.6,1217.4C691,1221.2 694.5,1226.5 697.3,1230.8C700.1,1235 702.5,1239.9 704.6,1242.9C706.7,1245.9 709.4,1247.2 710,1249C710.6,1250.8 709.2,1252.4 708.2,1253.8C707.2,1255.2 704.8,1255.5 704,1257.5C703.2,1259.5 703.5,1262.9 703.5,1266C703.5,1269.1 703.8,1273.4 704,1276C704.2,1278.6 704.9,1280.3 705,1281.5C705.1,1282.7 702.5,1280.9 704.6,1283C706.8,1285.1 713.5,1291.4 717.9,1294C722.3,1296.6 727.6,1296.8 731.3,1298.8C734.9,1300.8 737.5,1302.6 739.8,1306.1C742.1,1309.5 744.3,1315.5 745.3,1319.5C746.3,1323.5 746.8,1327.2 745.9,1330.4C745,1333.6 743.4,1336.7 739.8,1338.9C736.1,1341.1 729.7,1342.8 724,1343.8C718.3,1344.8 711.1,1345.4 705.8,1345C700.5,1344.6 696.2,1343.3 692.4,1341.3C688.5,1339.3 685,1336.2 682.7,1332.8C680.4,1329.4 679.4,1325 678.5,1320.7C677.6,1316.5 677.3,1311.3 677.2,1307.3C677.1,1303.2 677.1,1300.1 677.8,1296.4C678.5,1292.7 680,1287.6 681.5,1285C683,1282.4 685.4,1283.2 686.5,1281C687.6,1278.8 687.8,1275.2 688,1272C688.2,1268.8 688.1,1264.8 687.5,1262C686.9,1259.2 685.7,1257.3 684.5,1255.5C683.3,1253.7 682.6,1251.7 680.3,1251.4C678,1251.1 674,1253.2 670.6,1253.8C667.2,1254.4 662.2,1255.5 659.6,1255.1C657,1254.7 655.4,1253.4 654.8,1251.4C654.2,1249.4 654.6,1245.9 656,1242.9C657.4,1239.9 661.3,1236.9 663.3,1233.2C665.3,1229.5 666.1,1224.8 668.1,1221C670.1,1217.2 673.9,1212.3 675.4,1210.1C676.9,1207.9 675.2,1206.5 677.2,1207.7Z"/>
<path d="M657.5,1403.1C658.5,1401.5 661.8,1398.7 665.1,1397.1C668.4,1395.5 674.1,1393.2 677.1,1393.3C680.1,1393.4 680.6,1395.9 683.1,1397.8C685.6,1399.7 688.8,1402.6 692.1,1404.6C695.4,1406.6 698.9,1408.5 702.7,1409.9C706.5,1411.3 710.7,1412.2 714.7,1412.9C718.7,1413.6 723.7,1414.7 726.7,1414.1C729.7,1413.5 731.3,1411.2 732.8,1409.1C734.3,1407 734.5,1402 735.8,1401.6C737,1401.2 737.8,1406.3 740.3,1406.6C742.8,1406.8 748.5,1401.7 750.8,1403.1C753,1404.5 753.5,1411.6 753.8,1415.1C754,1418.6 753.8,1421.8 752.3,1424.2C750.8,1426.6 747.5,1429.2 744.8,1429.4C742,1429.7 738.8,1427.1 735.8,1425.7C732.8,1424.3 731.2,1422.4 726.7,1421.2C722.2,1420 713,1419.6 708.7,1418.6C704.5,1417.6 704,1416.5 701.2,1415.1C698.4,1413.6 695.4,1411.2 692.1,1409.9C688.8,1408.7 685.4,1407.8 681.6,1407.6C677.9,1407.3 673.4,1408.5 669.6,1408.4C665.8,1408.3 661,1407.8 659,1406.9C657,1406 656.5,1404.7 657.5,1403.1Z"/>
<path d="M922.3,1389.6C924.3,1388.6 928.1,1389.3 931.4,1391.1C934.7,1392.8 939.1,1396.8 941.9,1400.1C944.6,1403.3 947.4,1407.3 947.9,1410.6C948.4,1413.8 946.9,1417.5 944.9,1419.6C942.9,1421.7 939.4,1423.3 935.9,1423.4C932.4,1423.5 926.4,1422.5 923.8,1420.4C921.2,1418.3 920.9,1414.5 920.1,1410.6C919.4,1406.7 918.9,1400.6 919.3,1397.1C919.7,1393.6 920.3,1390.6 922.3,1389.6Z"/>
<g transform="translate(532.5,0)"><path d="M98.5,1228.5 L77.5,1259.5" fill="none" stroke="#b194e5" stroke-width="4.2" stroke-linecap="round"/><path d="M79,1262 C82,1268 90,1270 95,1264 C97,1259 95,1254 91,1255 C86,1257 82,1259 79,1262" fill="none" stroke="#b194e5" stroke-width="2.8" stroke-linecap="round"/><path d="M214,1047.5 L236,1039.5 L256,1031.5" fill="none" stroke="#cfc9e3" stroke-width="1.4" stroke-linecap="round"/><path d="M113.7,1201.6 L123.5,1182.2" fill="none" stroke="#c4bce0" stroke-width="1.6" stroke-linecap="round"/></g>
</g>
<g fill="#d0cce0" filter="url(#fgE2)">
<path d="M686.1,1034.4C687.4,1033.8 692,1032.9 695.1,1033.7C698.2,1034.5 703.3,1036.6 704.5,1039C705.7,1041.4 704,1045.5 702.5,1048C701,1050.5 697,1054.6 695.5,1054C694,1053.4 695.1,1047.3 693.8,1044.6C692.5,1041.9 688.8,1039.3 687.5,1037.6C686.2,1035.9 684.8,1035.1 686.1,1034.4Z"/>
<path d="M838,1108C840.2,1104.5 848,1102.8 852,1104C856,1105.2 860.7,1110.3 862,1115C863.3,1119.7 862.7,1128.7 860,1132C857.3,1135.3 849.6,1136.2 846,1135C842.4,1133.8 839.8,1129.5 838.5,1125C837.2,1120.5 835.8,1111.5 838,1108Z"/>
<path d="M673.5,1225C675.7,1221.8 680.3,1218.8 684.5,1221C688.7,1223.2 694.7,1233.2 698.5,1238C702.3,1242.8 706.7,1246.8 707.5,1250C708.3,1253.2 704.2,1253.7 703.5,1257C702.8,1260.3 703,1265.5 703,1270C703,1274.5 705.9,1281.7 703.5,1284C701.1,1286.3 691,1287.7 688.5,1284C686,1280.3 689.8,1267.5 688.5,1262C687.2,1256.5 683.3,1254.7 680.5,1251C677.7,1247.3 672.7,1244.3 671.5,1240C670.3,1235.7 671.3,1228.2 673.5,1225Z"/>
</g>
<g fill="#e4e0ee" filter="url(#fsE2)">
<path d="M819.1,1043.7C820.7,1043.1 831.1,1054.7 837.8,1059.4C844.5,1064.1 852.1,1067.9 859.3,1072.1C866.5,1076.3 874.6,1080.4 880.8,1084.8C887,1089.2 897.9,1096 896.5,1098.5C895.1,1101 879.7,1100.7 872.5,1100C865.3,1099.3 858.5,1098.1 853.4,1094.6C848.3,1091.1 845.9,1084.2 841.7,1079C837.5,1073.8 831.8,1069.2 828,1063.3C824.2,1057.4 817.5,1044.3 819.1,1043.7Z"/>
<path d="M666.5,1097C668.5,1092.8 676.8,1092.8 682.5,1093C688.2,1093.2 696.2,1096.2 700.5,1098C704.8,1099.8 708.8,1101.3 708.5,1104C708.2,1106.7 702.8,1110.8 698.5,1114C694.2,1117.2 687.2,1122.3 682.5,1123C677.8,1123.7 673.2,1122.3 670.5,1118C667.8,1113.7 664.5,1101.2 666.5,1097Z"/>
<path d="M754.5,1214C756.2,1210.8 767.5,1210.8 772.5,1209C777.5,1207.2 781.8,1202 784.5,1203C787.2,1204 787.5,1210.2 788.5,1215C789.5,1219.8 791.2,1226.8 790.5,1232C789.8,1237.2 787.2,1244.7 784.5,1246C781.8,1247.3 778.2,1243 774.5,1240C770.8,1237 765.8,1232.3 762.5,1228C759.2,1223.7 752.8,1217.2 754.5,1214Z"/>
<path d="M698.5,1306C700.5,1301.8 708,1302.3 712.5,1303C717,1303.7 722.5,1306.8 725.5,1310C728.5,1313.2 730.5,1318 730.5,1322C730.5,1326 728.5,1331.7 725.5,1334C722.5,1336.3 716.7,1337 712.5,1336C708.3,1335 702.8,1333 700.5,1328C698.2,1323 696.5,1310.2 698.5,1306Z"/>
</g>
<rect x="460" y="1178.9" width="17" height="153.5" fill="url(#cbE1)"/>
<text x="482.9" y="1340" font-size="25">0</text>
<line x1="460" y1="1290.9" x2="463.5" y2="1290.9" stroke="#fff" stroke-width="1.2" stroke-linecap="butt"/>
<line x1="473.5" y1="1290.9" x2="477" y2="1290.9" stroke="#fff" stroke-width="1.2" stroke-linecap="butt"/>
<text x="482.9" y="1298.5" font-size="25">2</text>
<line x1="460" y1="1249.4" x2="463.5" y2="1249.4" stroke="#fff" stroke-width="1.2" stroke-linecap="butt"/>
<line x1="473.5" y1="1249.4" x2="477" y2="1249.4" stroke="#fff" stroke-width="1.2" stroke-linecap="butt"/>
<text x="482.9" y="1257" font-size="25">4</text>
<line x1="460" y1="1207.9" x2="463.5" y2="1207.9" stroke="#fff" stroke-width="1.2" stroke-linecap="butt"/>
<line x1="473.5" y1="1207.9" x2="477" y2="1207.9" stroke="#fff" stroke-width="1.2" stroke-linecap="butt"/>
<text x="482.9" y="1215.5" font-size="25">6</text>
<rect x="998.9" y="1178.9" width="17" height="153.5" fill="url(#cbE2)"/>
<text x="1021.8" y="1340" font-size="25">0</text>
<line x1="998.9" y1="1290.9" x2="1002.4" y2="1290.9" stroke="#fff" stroke-width="1.2" stroke-linecap="butt"/>
<line x1="1012.4" y1="1290.9" x2="1015.9" y2="1290.9" stroke="#fff" stroke-width="1.2" stroke-linecap="butt"/>
<text x="1021.8" y="1298.5" font-size="25">2</text>
<line x1="998.9" y1="1249.4" x2="1002.4" y2="1249.4" stroke="#fff" stroke-width="1.2" stroke-linecap="butt"/>
<line x1="1012.4" y1="1249.4" x2="1015.9" y2="1249.4" stroke="#fff" stroke-width="1.2" stroke-linecap="butt"/>
<text x="1021.8" y="1257" font-size="25">4</text>
<line x1="998.9" y1="1207.9" x2="1002.4" y2="1207.9" stroke="#fff" stroke-width="1.2" stroke-linecap="butt"/>
<line x1="1012.4" y1="1207.9" x2="1015.9" y2="1207.9" stroke="#fff" stroke-width="1.2" stroke-linecap="butt"/>
<text x="1021.8" y="1215.5" font-size="25">6</text>
<line x1="64.4" y1="1457.5" x2="64.4" y2="1364" stroke="#000" stroke-width="2.3" stroke-linecap="butt"/>
<path d="M64.4,1353.7 L58.9,1372.5 L64.4,1367 L69.9,1372.5 Z" fill="#000"/>
<line x1="56.6" y1="1452" x2="152.9" y2="1452" stroke="#000" stroke-width="2.3" stroke-linecap="butt"/>
<path d="M160.9,1452 L142.4,1446.6 L147.9,1452 L142.4,1457.4 Z" fill="#000"/>
<text x="64.9" y="1478.6" font-size="24.5">UMAP1</text>
<text x="56.6" y="1409.5" font-size="24.5" text-anchor="middle" transform="rotate(-90 56.6 1409.5)">UMAP2</text>
<line x1="597.2" y1="1457.5" x2="597.2" y2="1364" stroke="#000" stroke-width="2.3" stroke-linecap="butt"/>
<path d="M597.2,1353.7 L591.7,1372.5 L597.2,1367 L602.7,1372.5 Z" fill="#000"/>
<line x1="589.4" y1="1452" x2="685.7" y2="1452" stroke="#000" stroke-width="2.3" stroke-linecap="butt"/>
<path d="M693.7,1452 L675.2,1446.6 L680.7,1452 L675.2,1457.4 Z" fill="#000"/>
<text x="597.7" y="1478.6" font-size="24.5">UMAP1</text>
<text x="589.4" y="1409.5" font-size="24.5" text-anchor="middle" transform="rotate(-90 589.4 1409.5)">UMAP2</text>
<text x="8.5" y="986.1" font-size="31.4">E</text>
<text x="63.4" y="994.4" font-size="24.9">P7</text>
<text x="212.5" y="994.9" font-size="24.4" font-style="italic">msClock</text>
<text x="711" y="994.9" font-size="24.6" font-style="italic">huCLOCK</text>
<g fill="#d3d3d3" filter="url(#fgF1)">
<path d="M1250.7,1033C1252.1,1029.6 1254.5,1026.9 1257.5,1026.1C1260.5,1025.3 1265.4,1026.7 1269,1028.4C1272.6,1030.1 1276.2,1033.2 1279.3,1036.4C1282.4,1039.7 1285.6,1044.3 1287.4,1047.9C1289.2,1051.5 1290.1,1055 1290.3,1058.2C1290.5,1061.5 1290,1064.3 1288.5,1067.4C1287,1070.5 1283.3,1073.2 1281.6,1076.6C1279.9,1080 1278.8,1083.8 1278.2,1088C1277.6,1092.2 1277.8,1097.6 1278.2,1101.8C1278.6,1106 1280.2,1109.5 1280.5,1113.3C1280.8,1117.1 1280.9,1122.1 1279.9,1124.8C1279,1127.5 1276.4,1129.3 1274.8,1129.3C1273.2,1129.3 1271.5,1127.5 1270.2,1124.8C1268.9,1122.1 1267.9,1117.1 1266.7,1113.3C1265.5,1109.5 1264.2,1106 1263.3,1101.8C1262.3,1097.6 1262,1092.6 1261,1088C1260,1083.4 1259,1078.7 1257.5,1074.3C1256,1069.9 1253.2,1066.2 1251.8,1061.6C1250.4,1057 1249.1,1051.5 1248.9,1046.7C1248.7,1041.9 1249.3,1036.4 1250.7,1033Z"/>
<path d="M1286.6,1376.3C1290.5,1374.2 1298.8,1374.2 1304.5,1374.7C1310.2,1375.2 1317.7,1376.5 1320.7,1379.5C1323.7,1382.5 1323.1,1388.2 1322.3,1392.5C1321.5,1396.8 1318.8,1401.5 1315.8,1405.5C1312.8,1409.5 1308.5,1414.4 1304.5,1416.8C1300.5,1419.2 1295,1420.5 1291.5,1420C1288,1419.5 1285.3,1416.7 1283.4,1413.5C1281.5,1410.3 1280.6,1404.9 1280.2,1400.6C1279.8,1396.3 1279.9,1391.6 1281,1387.6C1282.1,1383.5 1282.7,1378.4 1286.6,1376.3Z"/>
</g>
<g fill="#b092e5" filter="url(#fmF1)">
<path d="M1250.7,1033C1252.1,1029.6 1254.6,1026.9 1257.5,1026.1C1260.4,1025.3 1265.1,1026.3 1268,1028C1270.9,1029.7 1273.5,1032.7 1275,1036C1276.5,1039.3 1277.2,1044 1277,1048C1276.8,1052 1275.5,1056.3 1274,1060C1272.5,1063.7 1270,1067 1268,1070C1266,1073 1263.8,1077.3 1262,1078C1260.2,1078.7 1259.2,1077 1257.5,1074.3C1255.8,1071.6 1253.2,1066.2 1251.8,1061.6C1250.4,1057 1249.1,1051.5 1248.9,1046.7C1248.7,1041.9 1249.3,1036.4 1250.7,1033Z"/>
<path d="M1204.8,1110.4C1206.1,1110.3 1208.6,1110 1208.2,1111.6C1207.8,1113.2 1204,1116.9 1202.5,1120.2C1201,1123.5 1200.5,1128 1199,1131.6C1197.5,1135.2 1195,1138.7 1193.3,1142C1191.6,1145.3 1189.8,1148.3 1188.7,1151.2C1187.6,1154.1 1188.1,1156.3 1186.4,1159.2C1184.7,1162.1 1180.7,1168 1178.4,1168.4C1176.1,1168.8 1172.8,1164 1172.6,1161.5C1172.4,1159 1174.9,1156.1 1177.2,1153.4C1179.5,1150.7 1183.7,1148.7 1186.4,1145.4C1189.1,1142.2 1191.4,1138.1 1193.3,1133.9C1195.2,1129.7 1196.8,1123.8 1197.9,1120.2C1199.1,1116.6 1199.1,1113.7 1200.2,1112.1C1201.3,1110.5 1203.5,1110.5 1204.8,1110.4Z"/>
<path d="M1215.1,1127C1214.3,1126.4 1220.5,1124.5 1224.3,1123.6C1228.1,1122.6 1234.2,1121.9 1238,1121.3C1241.8,1120.7 1245.3,1119.6 1247.2,1120.2C1249.1,1120.8 1250.7,1123.5 1249.5,1124.8C1248.3,1126.1 1243.7,1127.8 1240.3,1128.2C1236.9,1128.6 1233.1,1127.2 1228.9,1127C1224.7,1126.8 1215.9,1127.6 1215.1,1127Z"/>
<path d="M1228.3,1158.6C1228.9,1158.2 1232.2,1161.7 1234.6,1162.6C1237,1163.5 1239.7,1164 1242.6,1163.8C1245.5,1163.6 1248.9,1162.7 1251.8,1161.5C1254.7,1160.3 1257.3,1158.2 1259.8,1156.9C1262.3,1155.6 1266.1,1152.9 1266.7,1153.5C1267.3,1154.1 1265,1158 1263.3,1160.3C1261.6,1162.6 1259.1,1165.3 1256.4,1167.2C1253.7,1169.1 1250.3,1171.2 1247.2,1171.8C1244.1,1172.4 1240.7,1171.8 1238,1170.7C1235.3,1169.6 1232.7,1166.9 1231.1,1164.9C1229.5,1162.9 1227.7,1159 1228.3,1158.6Z"/>
<path d="M1339,1088C1340.8,1084.4 1345.1,1080.8 1348.2,1080C1351.3,1079.2 1354.7,1081.7 1357.4,1083.4C1360.1,1085.1 1363,1086.8 1364.3,1090.3C1365.6,1093.8 1365.8,1100.6 1365.4,1104.1C1365,1107.5 1363,1108.3 1362,1111C1361,1113.7 1360.9,1120.2 1359.7,1120.2C1358.5,1120.2 1356.8,1111.4 1355.1,1111C1353.4,1110.6 1351.2,1116.4 1349.3,1117.9C1347.4,1119.4 1345.5,1119.8 1343.6,1120.2C1341.7,1120.6 1339,1123.3 1337.9,1120.2C1336.9,1117.1 1337.1,1107.2 1337.3,1101.8C1337.5,1096.4 1337.2,1091.6 1339,1088Z"/>
<path d="M1415.6,1091.8C1418.8,1091.6 1424.8,1092.6 1428.2,1094.1C1431.6,1095.6 1434.3,1097.5 1436.2,1101C1438.1,1104.5 1439.5,1110.2 1439.7,1114.8C1439.9,1119.4 1439.1,1124.4 1437.4,1128.6C1435.7,1132.8 1432.7,1137.1 1429.4,1140C1426.2,1142.9 1421.7,1144.1 1417.9,1145.8C1414.1,1147.5 1409.1,1149.1 1406.4,1150.4C1403.7,1151.7 1403.1,1155.9 1401.8,1153.8C1400.5,1151.7 1399.2,1143.9 1398.4,1137.8C1397.6,1131.7 1397.3,1122.1 1397.2,1117.1C1397.1,1112.1 1396.5,1110.6 1397.8,1107.9C1399.1,1105.2 1403.5,1103.1 1405.3,1101C1407.1,1098.9 1407,1096.8 1408.7,1095.3C1410.4,1093.8 1412.3,1092 1415.6,1091.8Z"/>
<path d="M1494.8,1093C1496.4,1091.7 1500.9,1091.9 1504,1090.7C1507.1,1089.5 1510.7,1085.7 1513.2,1086.1C1515.7,1086.5 1516.7,1090.5 1518.9,1093C1521.1,1095.5 1525.8,1098.1 1526.4,1101C1527,1103.9 1524.7,1107.3 1522.3,1110.2C1519.9,1113.1 1515,1117.2 1512,1118.2C1509,1119.2 1506.5,1117.8 1504,1115.9C1501.5,1114 1498.7,1109.7 1497.1,1106.8C1495.5,1103.9 1494.6,1101 1494.2,1098.7C1493.8,1096.4 1493.2,1094.3 1494.8,1093Z"/>
<path d="M1302.8,1253.2C1304.2,1249.7 1308.5,1245 1310.9,1241.8C1313.3,1238.5 1315,1233.2 1317.4,1233.7C1319.8,1234.2 1323.6,1240.2 1325.5,1245.1C1327.4,1250 1326.6,1258.6 1328.8,1262.9C1331,1267.2 1338,1269.7 1338.5,1271C1339,1272.3 1335,1271 1332,1271C1329,1271 1324.8,1271.3 1320.7,1271C1316.7,1270.7 1310.7,1270.8 1307.7,1269.4C1304.7,1268.1 1303.6,1265.6 1302.8,1262.9C1302,1260.2 1301.4,1256.7 1302.8,1253.2Z"/>
<path d="M1302.8,1313.1C1302.3,1310.4 1304.2,1304.8 1307.7,1301.8C1311.2,1298.8 1318.8,1296.9 1323.9,1295.3C1329,1293.7 1334.5,1292.4 1338.5,1292.1C1342.5,1291.8 1345,1292.3 1348.2,1293.7C1351.4,1295.1 1354.9,1298.1 1357.9,1300.2C1360.9,1302.3 1364.9,1303.4 1366,1306.6C1367.1,1309.8 1366,1317.2 1364.4,1319.6C1362.8,1322 1359,1322.3 1356.3,1321.2C1353.6,1320.1 1351.2,1316.1 1348.2,1313.1C1345.2,1310.1 1341.5,1305.3 1338.5,1303.4C1335.5,1301.5 1333.4,1301 1330.4,1301.8C1327.4,1302.6 1324,1305.6 1320.7,1308.3C1317.5,1311 1313.9,1317.2 1310.9,1318C1307.9,1318.8 1303.3,1315.8 1302.8,1313.1Z"/>
<path d="M1369,1233C1369,1230.3 1370.2,1224.7 1372,1222C1373.8,1219.3 1377.9,1219 1380,1217C1382.1,1215 1383.3,1209.8 1384.5,1210C1385.7,1210.2 1385.8,1215 1387,1218C1388.2,1221 1390.9,1225 1391.5,1228C1392.1,1231 1392.4,1234.2 1390.5,1236C1388.6,1237.8 1383.1,1238.7 1380,1239C1376.9,1239.3 1373.8,1239 1372,1238C1370.2,1237 1369,1235.7 1369,1233Z"/>
<path d="M1459.1,1182.1C1461.9,1180.4 1467.8,1179.6 1472.6,1180.4C1477.4,1181.2 1484.3,1183.8 1487.8,1187.2C1491.3,1190.6 1493.4,1196.2 1493.7,1200.7C1494,1205.2 1491.9,1210.3 1489.5,1214.2C1487.1,1218.1 1482.5,1220.9 1479.4,1224.3C1476.3,1227.7 1473,1229.9 1470.9,1234.4C1468.8,1238.9 1467.8,1245.7 1466.7,1251.3C1465.6,1256.9 1465.8,1262.6 1464.2,1268.2C1462.7,1273.8 1457.7,1280 1457.4,1285.1C1457.1,1290.2 1459.7,1295.5 1462.5,1298.6C1465.3,1301.7 1469.2,1302.6 1474.3,1303.7C1479.4,1304.8 1487.3,1304 1492.9,1305.4C1498.5,1306.8 1503.9,1309 1508.1,1312.1C1512.3,1315.2 1515.4,1319.2 1518.2,1324C1521,1328.8 1523.7,1335.2 1525,1340.8C1526.3,1346.4 1526.9,1352.6 1525.8,1357.7C1524.7,1362.8 1520.6,1366.4 1518.2,1371.2C1515.8,1376 1513.8,1382.7 1511.5,1386.4C1509.2,1390.1 1507,1393.8 1504.7,1393.2C1502.5,1392.7 1500.5,1386.8 1498,1383.1C1495.5,1379.4 1493.2,1374.9 1489.5,1371.2C1485.8,1367.5 1480.2,1364.2 1476,1361.1C1471.8,1358 1467.3,1356.6 1464.2,1352.7C1461.1,1348.8 1458.8,1342 1457.4,1337.5C1456,1333 1458,1328.4 1455.7,1325.6C1453.5,1322.8 1449,1321.4 1443.9,1320.6C1438.8,1319.8 1430.1,1322 1425.3,1320.6C1420.5,1319.2 1417.3,1315.8 1415.2,1312.1C1413.1,1308.4 1411.9,1303.1 1412.7,1298.6C1413.5,1294.1 1418.8,1290.2 1420.3,1285.1C1421.8,1280 1421.7,1274.4 1422,1268.2C1422.3,1262 1422.6,1254.8 1422,1248C1421.4,1241.2 1419.2,1233 1418.6,1227.7C1418,1222.4 1416.9,1218.7 1418.6,1215.9C1420.3,1213.1 1425.6,1212.8 1428.7,1210.8C1431.8,1208.8 1433.5,1206 1437.2,1204C1440.9,1202 1447.6,1201.2 1450.7,1199C1453.8,1196.8 1454.3,1193.3 1455.7,1190.5C1457.1,1187.7 1456.3,1183.8 1459.1,1182.1Z"/>
<g transform="translate(0,0)"><path d="M1205,1127 L1216,1126" fill="none" stroke="#c8c2e0" stroke-width="1.5" stroke-linecap="round"/><path d="M1328,1262 L1338,1270 M1340,1278 L1343,1290" fill="none" stroke="#b0a4e2" stroke-width="2" stroke-linecap="round"/><path d="M1392,1228 L1414,1229" fill="none" stroke="#c8c0e4" stroke-width="1.2" stroke-linecap="round"/><path d="M1482.8,1163.5 L1481,1173.6" fill="none" stroke="#aa89e7" stroke-width="3" stroke-linecap="round"/></g>
</g>
<g fill="#b296e4" filter="url(#fdF1)">
<path d="M1245,1140C1246.5,1138.7 1249.8,1140 1252,1142C1254.2,1144 1258.3,1149 1258,1152C1257.7,1155 1252.7,1158.7 1250,1160C1247.3,1161.3 1243.2,1161.7 1242,1160C1240.8,1158.3 1242.5,1153.3 1243,1150C1243.5,1146.7 1243.5,1141.3 1245,1140Z"/>
<path d="M1398,1108C1399.2,1103.2 1404,1104 1406,1106C1408,1108 1409.7,1114.3 1410,1120C1410.3,1125.7 1409.3,1135 1408,1140C1406.7,1145 1403.6,1150.8 1402,1150C1400.4,1149.2 1399.2,1142 1398.5,1135C1397.8,1128 1396.8,1112.8 1398,1108Z"/>
<path d="M1455,1200C1458.3,1196.8 1465.2,1195.3 1470,1196C1474.8,1196.7 1481.3,1200.7 1484,1204C1486.7,1207.3 1487.3,1212.3 1486,1216C1484.7,1219.7 1479.3,1223.3 1476,1226C1472.7,1228.7 1469.3,1231.7 1466,1232C1462.7,1232.3 1458.7,1230.8 1456,1228C1453.3,1225.2 1450.2,1219.7 1450,1215C1449.8,1210.3 1451.7,1203.2 1455,1200Z"/>
</g>
<g fill="#a480ea" filter="url(#fpF1)">
<path d="M1403,1013.5C1404,1013 1409.2,1014.1 1410,1015C1410.8,1015.9 1409,1018.5 1408,1019C1407,1019.5 1404.8,1018.9 1404,1018C1403.2,1017.1 1402,1014 1403,1013.5Z"/>
<path d="M1207.3,1215.9C1208.5,1213.2 1211.9,1207.6 1215.4,1206.2C1218.9,1204.8 1224.8,1206.7 1228.3,1207.8C1231.8,1208.9 1235.6,1210.3 1236.4,1212.7C1237.2,1215.1 1234.8,1219.7 1233.2,1222.4C1231.6,1225.1 1229.7,1228.1 1226.7,1228.9C1223.7,1229.7 1218.5,1228.4 1215.4,1227.3C1212.3,1226.2 1209.4,1224.3 1208.1,1222.4C1206.8,1220.5 1206.1,1218.6 1207.3,1215.9Z"/>
<path d="M1215.4,1272.6C1216.5,1275 1213.9,1282.1 1213.7,1287.2C1213.5,1292.3 1214.5,1296.9 1214.5,1303.4C1214.5,1309.9 1215.7,1322.6 1213.7,1326.1C1211.7,1329.6 1206.2,1325.8 1202.4,1324.5C1198.6,1323.2 1194.1,1321 1191.1,1318C1188.1,1315 1185.9,1310.6 1184.6,1306.6C1183.2,1302.5 1182.5,1297.5 1183,1293.7C1183.5,1289.9 1185.4,1286.7 1187.8,1284C1190.2,1281.3 1194.2,1279.4 1197.5,1277.5C1200.8,1275.6 1204.3,1273.4 1207.3,1272.6C1210.3,1271.8 1214.3,1270.2 1215.4,1272.6Z"/>
<path d="M1281,1386C1283,1382.9 1288,1382.5 1292,1382C1296,1381.5 1301.7,1381.7 1305,1383C1308.3,1384.3 1310.7,1386.8 1312,1390C1313.3,1393.2 1314,1398 1313,1402C1312,1406 1309.5,1411 1306,1414C1302.5,1417 1295.8,1420.1 1292,1420C1288.2,1419.9 1285.4,1416.7 1283.4,1413.5C1281.4,1410.3 1280.6,1405.2 1280.2,1400.6C1279.8,1396 1279,1389.1 1281,1386Z"/>
<g transform="translate(0,0)"><path d="M1232,1228 C1244,1236 1256,1249 1254,1257 C1252,1265 1240,1266 1230,1268.5 C1222,1271 1214,1273.5 1209,1277" fill="none" stroke="#ac8de6" stroke-width="2.6" stroke-linecap="round"/><path d="M1275.3,1235.4 L1302,1223.2" fill="none" stroke="#a480ea" stroke-width="3" stroke-linecap="round"/><path d="M1267.2,1337.4 L1289.9,1370" fill="none" stroke="#bdb4dc" stroke-width="2.4" stroke-linecap="round"/></g>
</g>
<g fill="#d3d3d3" filter="url(#fgF1)">
<path d="M1228.3,1207.8C1229.9,1207.2 1235.6,1210.3 1236.4,1212.7C1237.2,1215.1 1234.4,1220.2 1233.2,1222.4C1232,1224.6 1230,1227.1 1229,1226C1228,1224.9 1227.1,1219 1227,1216C1226.9,1213 1226.7,1208.3 1228.3,1207.8Z"/>
<path d="M1215.4,1272.6C1216.2,1273.8 1213.9,1282.1 1213.7,1287.2C1213.5,1292.3 1214.5,1296.9 1214.5,1303.4C1214.5,1309.9 1214.8,1322.5 1213.7,1326.1C1212.6,1329.7 1209,1329.3 1208,1325C1207,1320.7 1207.8,1307.5 1208,1300C1208.2,1292.5 1207.8,1284.6 1209,1280C1210.2,1275.4 1214.6,1271.4 1215.4,1272.6Z"/>
</g>
<g fill="#d3d3d3" filter="url(#fgF2)">
<path d="M1778.2,1033C1779.6,1029.6 1782,1026.9 1785,1026.1C1788,1025.3 1792.9,1026.7 1796.5,1028.4C1800.1,1030.1 1803.7,1033.2 1806.8,1036.4C1809.9,1039.7 1813.1,1044.3 1814.9,1047.9C1816.7,1051.5 1817.6,1055 1817.8,1058.2C1818,1061.5 1817.5,1064.3 1816,1067.4C1814.5,1070.5 1810.8,1073.2 1809.1,1076.6C1807.4,1080 1806.3,1083.8 1805.7,1088C1805.1,1092.2 1805.3,1097.6 1805.7,1101.8C1806.1,1106 1807.7,1109.5 1808,1113.3C1808.3,1117.1 1808.4,1122.1 1807.4,1124.8C1806.5,1127.5 1803.9,1129.3 1802.3,1129.3C1800.7,1129.3 1799,1127.5 1797.7,1124.8C1796.4,1122.1 1795.4,1117.1 1794.2,1113.3C1793,1109.5 1791.8,1106 1790.8,1101.8C1789.8,1097.6 1789.5,1092.6 1788.5,1088C1787.5,1083.4 1786.5,1078.7 1785,1074.3C1783.5,1069.9 1780.7,1066.2 1779.3,1061.6C1777.9,1057 1776.6,1051.5 1776.4,1046.7C1776.2,1041.9 1776.8,1036.4 1778.2,1033Z"/>
<path d="M1814.1,1376.3C1818,1374.2 1826.3,1374.2 1832,1374.7C1837.7,1375.2 1845.2,1376.5 1848.2,1379.5C1851.2,1382.5 1850.6,1388.2 1849.8,1392.5C1849,1396.8 1846.3,1401.5 1843.3,1405.5C1840.3,1409.5 1836,1414.4 1832,1416.8C1828,1419.2 1822.5,1420.5 1819,1420C1815.5,1419.5 1812.8,1416.7 1810.9,1413.5C1809,1410.3 1808.1,1404.9 1807.7,1400.6C1807.3,1396.3 1807.4,1391.6 1808.5,1387.6C1809.6,1383.5 1810.2,1378.4 1814.1,1376.3Z"/>
</g>
<g fill="#a684e8" filter="url(#fmF2)">
<path d="M1778.2,1033C1779.6,1029.6 1782.1,1026.9 1785,1026.1C1787.9,1025.3 1792.4,1026.3 1795.5,1028C1798.6,1029.7 1801.5,1032.7 1803.5,1036C1805.5,1039.3 1807,1043.7 1807.5,1048C1808,1052.3 1807.5,1057.3 1806.5,1062C1805.5,1066.7 1802.8,1071 1801.5,1076C1800.2,1081 1798.8,1086.7 1798.5,1092C1798.2,1097.3 1798.7,1103 1799.5,1108C1800.3,1113 1803,1118.5 1803.5,1122C1804,1125.5 1803.3,1128.8 1802.3,1129.3C1801.3,1129.8 1799,1127.5 1797.7,1124.8C1796.4,1122.1 1795.4,1117.1 1794.2,1113.3C1793,1109.5 1791.8,1106 1790.8,1101.8C1789.8,1097.6 1789.5,1092.6 1788.5,1088C1787.5,1083.4 1786.5,1078.7 1785,1074.3C1783.5,1069.9 1780.7,1066.2 1779.3,1061.6C1777.9,1057 1776.6,1051.5 1776.4,1046.7C1776.2,1041.9 1776.8,1036.4 1778.2,1033Z"/>
<path d="M1732.3,1110.4C1733.6,1110.3 1736.1,1110 1735.7,1111.6C1735.3,1113.2 1731.5,1116.9 1730,1120.2C1728.5,1123.5 1728,1128 1726.5,1131.6C1725,1135.2 1722.5,1138.7 1720.8,1142C1719.1,1145.3 1717.3,1148.3 1716.2,1151.2C1715.1,1154.1 1715.6,1156.3 1713.9,1159.2C1712.2,1162.1 1708.2,1168 1705.9,1168.4C1703.6,1168.8 1700.3,1164 1700.1,1161.5C1699.9,1159 1702.4,1156.1 1704.7,1153.4C1707,1150.7 1711.2,1148.7 1713.9,1145.4C1716.6,1142.2 1718.9,1138.1 1720.8,1133.9C1722.7,1129.7 1724.2,1123.8 1725.4,1120.2C1726.6,1116.6 1726.6,1113.7 1727.7,1112.1C1728.8,1110.5 1731,1110.5 1732.3,1110.4Z"/>
<path d="M1742.6,1127C1741.8,1126.4 1748,1124.5 1751.8,1123.6C1755.6,1122.6 1761.7,1121.9 1765.5,1121.3C1769.3,1120.7 1772.8,1119.6 1774.7,1120.2C1776.6,1120.8 1778.2,1123.5 1777,1124.8C1775.8,1126.1 1771.2,1127.8 1767.8,1128.2C1764.4,1128.6 1760.6,1127.2 1756.4,1127C1752.2,1126.8 1743.4,1127.6 1742.6,1127Z"/>
<path d="M1755.8,1158.6C1756.4,1158.2 1759.7,1161.7 1762.1,1162.6C1764.5,1163.5 1767.2,1164 1770.1,1163.8C1773,1163.6 1776.4,1162.7 1779.3,1161.5C1782.2,1160.3 1784.8,1158.2 1787.3,1156.9C1789.8,1155.6 1793.6,1152.9 1794.2,1153.5C1794.8,1154.1 1792.5,1158 1790.8,1160.3C1789.1,1162.6 1786.6,1165.3 1783.9,1167.2C1781.2,1169.1 1777.8,1171.2 1774.7,1171.8C1771.6,1172.4 1768.2,1171.8 1765.5,1170.7C1762.8,1169.6 1760.2,1166.9 1758.6,1164.9C1757,1162.9 1755.2,1159 1755.8,1158.6Z"/>
<path d="M1866.5,1088C1868.3,1084.4 1872.6,1080.8 1875.7,1080C1878.8,1079.2 1882.2,1081.7 1884.9,1083.4C1887.6,1085.1 1890.5,1086.8 1891.8,1090.3C1893.1,1093.8 1893.3,1100.6 1892.9,1104.1C1892.5,1107.5 1890.5,1108.3 1889.5,1111C1888.5,1113.7 1888.4,1120.2 1887.2,1120.2C1886,1120.2 1884.3,1111.4 1882.6,1111C1880.9,1110.6 1878.7,1116.4 1876.8,1117.9C1874.9,1119.4 1873,1119.8 1871.1,1120.2C1869.2,1120.6 1866.5,1123.3 1865.4,1120.2C1864.4,1117.1 1864.6,1107.2 1864.8,1101.8C1865,1096.4 1864.7,1091.6 1866.5,1088Z"/>
<path d="M1943.1,1091.8C1946.3,1091.6 1952.3,1092.6 1955.7,1094.1C1959.1,1095.6 1961.8,1097.5 1963.7,1101C1965.6,1104.5 1967,1110.2 1967.2,1114.8C1967.4,1119.4 1966.6,1124.4 1964.9,1128.6C1963.2,1132.8 1960.2,1137.1 1956.9,1140C1953.7,1142.9 1949.2,1144.1 1945.4,1145.8C1941.6,1147.5 1936.6,1149.1 1933.9,1150.4C1931.2,1151.7 1930.6,1155.9 1929.3,1153.8C1928,1151.7 1926.7,1143.9 1925.9,1137.8C1925.1,1131.7 1924.8,1122.1 1924.7,1117.1C1924.6,1112.1 1924,1110.6 1925.3,1107.9C1926.6,1105.2 1931,1103.1 1932.8,1101C1934.6,1098.9 1934.5,1096.8 1936.2,1095.3C1937.9,1093.8 1939.8,1092 1943.1,1091.8Z"/>
<path d="M2022.3,1093C2023.9,1091.7 2028.4,1091.9 2031.5,1090.7C2034.6,1089.5 2038.2,1085.7 2040.7,1086.1C2043.2,1086.5 2044.2,1090.5 2046.4,1093C2048.6,1095.5 2053.3,1098.1 2053.9,1101C2054.5,1103.9 2052.2,1107.3 2049.8,1110.2C2047.4,1113.1 2042.5,1117.2 2039.5,1118.2C2036.5,1119.2 2034,1117.8 2031.5,1115.9C2029,1114 2026.2,1109.7 2024.6,1106.8C2023,1103.9 2022.1,1101 2021.7,1098.7C2021.3,1096.4 2020.7,1094.3 2022.3,1093Z"/>
<path d="M1830.3,1253.2C1831.7,1249.7 1836,1245 1838.4,1241.8C1840.8,1238.5 1842.5,1233.2 1844.9,1233.7C1847.3,1234.2 1851.1,1240.2 1853,1245.1C1854.9,1250 1854.1,1258.6 1856.3,1262.9C1858.5,1267.2 1865.5,1269.7 1866,1271C1866.5,1272.3 1862.5,1271 1859.5,1271C1856.5,1271 1852.2,1271.3 1848.2,1271C1844.2,1270.7 1838.2,1270.8 1835.2,1269.4C1832.2,1268.1 1831.1,1265.6 1830.3,1262.9C1829.5,1260.2 1828.9,1256.7 1830.3,1253.2Z"/>
<path d="M1830.3,1313.1C1829.8,1310.4 1831.7,1304.8 1835.2,1301.8C1838.7,1298.8 1846.3,1296.9 1851.4,1295.3C1856.5,1293.7 1862,1292.4 1866,1292.1C1870,1291.8 1872.5,1292.3 1875.7,1293.7C1878.9,1295.1 1882.4,1298.1 1885.4,1300.2C1888.4,1302.3 1892.4,1303.4 1893.5,1306.6C1894.6,1309.8 1893.5,1317.2 1891.9,1319.6C1890.3,1322 1886.5,1322.3 1883.8,1321.2C1881.1,1320.1 1878.7,1316.1 1875.7,1313.1C1872.7,1310.1 1869,1305.3 1866,1303.4C1863,1301.5 1860.9,1301 1857.9,1301.8C1854.9,1302.6 1851.5,1305.6 1848.2,1308.3C1845,1311 1841.4,1317.2 1838.4,1318C1835.4,1318.8 1830.8,1315.8 1830.3,1313.1Z"/>
<path d="M1896.5,1233C1896.5,1230.3 1897.7,1224.7 1899.5,1222C1901.3,1219.3 1905.4,1219 1907.5,1217C1909.6,1215 1910.8,1209.8 1912,1210C1913.2,1210.2 1913.3,1215 1914.5,1218C1915.7,1221 1918.4,1225 1919,1228C1919.6,1231 1919.9,1234.2 1918,1236C1916.1,1237.8 1910.6,1238.7 1907.5,1239C1904.4,1239.3 1901.3,1239 1899.5,1238C1897.7,1237 1896.5,1235.7 1896.5,1233Z"/>
<path d="M1986.6,1182.1C1989.4,1180.4 1995.3,1179.6 2000.1,1180.4C2004.9,1181.2 2011.8,1183.8 2015.3,1187.2C2018.8,1190.6 2020.9,1196.2 2021.2,1200.7C2021.5,1205.2 2019.4,1210.3 2017,1214.2C2014.6,1218.1 2010,1220.9 2006.9,1224.3C2003.8,1227.7 2000.5,1229.9 1998.4,1234.4C1996.3,1238.9 1995.3,1245.7 1994.2,1251.3C1993.1,1256.9 1993.2,1262.6 1991.7,1268.2C1990.2,1273.8 1985.2,1280 1984.9,1285.1C1984.6,1290.2 1987.2,1295.5 1990,1298.6C1992.8,1301.7 1996.7,1302.6 2001.8,1303.7C2006.9,1304.8 2014.8,1304 2020.4,1305.4C2026,1306.8 2031.4,1309 2035.6,1312.1C2039.8,1315.2 2042.9,1319.2 2045.7,1324C2048.5,1328.8 2051.2,1335.2 2052.5,1340.8C2053.8,1346.4 2054.4,1352.6 2053.3,1357.7C2052.2,1362.8 2048.1,1366.4 2045.7,1371.2C2043.3,1376 2041.2,1382.7 2039,1386.4C2036.8,1390.1 2034.5,1393.8 2032.2,1393.2C2030,1392.7 2028,1386.8 2025.5,1383.1C2023,1379.4 2020.7,1374.9 2017,1371.2C2013.3,1367.5 2007.7,1364.2 2003.5,1361.1C1999.3,1358 1994.8,1356.6 1991.7,1352.7C1988.6,1348.8 1986.3,1342 1984.9,1337.5C1983.5,1333 1985.5,1328.4 1983.2,1325.6C1981,1322.8 1976.5,1321.4 1971.4,1320.6C1966.3,1319.8 1957.6,1322 1952.8,1320.6C1948,1319.2 1944.8,1315.8 1942.7,1312.1C1940.6,1308.4 1939.4,1303.1 1940.2,1298.6C1941,1294.1 1946.2,1290.2 1947.8,1285.1C1949.3,1280 1949.2,1274.4 1949.5,1268.2C1949.8,1262 1950.1,1254.8 1949.5,1248C1948.9,1241.2 1946.7,1233 1946.1,1227.7C1945.5,1222.4 1944.4,1218.7 1946.1,1215.9C1947.8,1213.1 1953.1,1212.8 1956.2,1210.8C1959.3,1208.8 1961,1206 1964.7,1204C1968.4,1202 1975.1,1201.2 1978.2,1199C1981.3,1196.8 1981.8,1193.3 1983.2,1190.5C1984.6,1187.7 1983.8,1183.8 1986.6,1182.1Z"/>
<g transform="translate(527.5,0)"><path d="M1205,1127 L1216,1126" fill="none" stroke="#c8c2e0" stroke-width="1.5" stroke-linecap="round"/><path d="M1328,1262 L1338,1270 M1340,1278 L1343,1290" fill="none" stroke="#b0a4e2" stroke-width="2" stroke-linecap="round"/><path d="M1392,1228 L1414,1229" fill="none" stroke="#c8c0e4" stroke-width="1.2" stroke-linecap="round"/><path d="M1482.8,1163.5 L1481,1173.6" fill="none" stroke="#aa89e7" stroke-width="3" stroke-linecap="round"/></g>
</g>
<g fill="#aa89e7" filter="url(#fdF2)">
<path d="M1772.5,1140C1774,1138.7 1777.3,1140 1779.5,1142C1781.7,1144 1785.8,1149 1785.5,1152C1785.2,1155 1780.2,1158.7 1777.5,1160C1774.8,1161.3 1770.7,1161.7 1769.5,1160C1768.3,1158.3 1770,1153.3 1770.5,1150C1771,1146.7 1771,1141.3 1772.5,1140Z"/>
<path d="M1925.5,1108C1926.8,1103.2 1931.5,1104 1933.5,1106C1935.5,1108 1937.2,1114.3 1937.5,1120C1937.8,1125.7 1936.8,1135 1935.5,1140C1934.2,1145 1931.1,1150.8 1929.5,1150C1927.9,1149.2 1926.7,1142 1926,1135C1925.3,1128 1924.2,1112.8 1925.5,1108Z"/>
<path d="M1982.5,1200C1985.8,1196.8 1992.7,1195.3 1997.5,1196C2002.3,1196.7 2008.8,1200.7 2011.5,1204C2014.2,1207.3 2014.8,1212.3 2013.5,1216C2012.2,1219.7 2006.8,1223.3 2003.5,1226C2000.2,1228.7 1996.8,1231.7 1993.5,1232C1990.2,1232.3 1986.2,1230.8 1983.5,1228C1980.8,1225.2 1977.7,1219.7 1977.5,1215C1977.3,1210.3 1979.2,1203.2 1982.5,1200Z"/>
</g>
<g fill="#966eee" filter="url(#fpF2)">
<path d="M1930.5,1013.5C1931.5,1013 1936.7,1014.1 1937.5,1015C1938.3,1015.9 1936.5,1018.5 1935.5,1019C1934.5,1019.5 1932.3,1018.9 1931.5,1018C1930.7,1017.1 1929.5,1014 1930.5,1013.5Z"/>
<path d="M1734.8,1215.9C1736,1213.2 1739.4,1207.6 1742.9,1206.2C1746.4,1204.8 1752.3,1206.7 1755.8,1207.8C1759.3,1208.9 1763.1,1210.3 1763.9,1212.7C1764.7,1215.1 1762.3,1219.7 1760.7,1222.4C1759.1,1225.1 1757.2,1228.1 1754.2,1228.9C1751.2,1229.7 1746,1228.4 1742.9,1227.3C1739.8,1226.2 1736.9,1224.3 1735.6,1222.4C1734.2,1220.5 1733.6,1218.6 1734.8,1215.9Z"/>
<path d="M1742.9,1272.6C1744,1275 1741.4,1282.1 1741.2,1287.2C1741,1292.3 1742,1296.9 1742,1303.4C1742,1309.9 1743.2,1322.6 1741.2,1326.1C1739.2,1329.6 1733.7,1325.8 1729.9,1324.5C1726.1,1323.2 1721.6,1321 1718.6,1318C1715.6,1315 1713.4,1310.6 1712.1,1306.6C1710.8,1302.5 1710,1297.5 1710.5,1293.7C1711,1289.9 1712.9,1286.7 1715.3,1284C1717.7,1281.3 1721.8,1279.4 1725,1277.5C1728.2,1275.6 1731.8,1273.4 1734.8,1272.6C1737.8,1271.8 1741.8,1270.2 1742.9,1272.6Z"/>
<path d="M1808.5,1386C1810.5,1382.9 1815.5,1382.5 1819.5,1382C1823.5,1381.5 1829.2,1381.7 1832.5,1383C1835.8,1384.3 1838.2,1386.8 1839.5,1390C1840.8,1393.2 1841.5,1398 1840.5,1402C1839.5,1406 1837,1411 1833.5,1414C1830,1417 1823.3,1420.1 1819.5,1420C1815.7,1419.9 1812.9,1416.7 1810.9,1413.5C1808.9,1410.3 1808.1,1405.2 1807.7,1400.6C1807.3,1396 1806.5,1389.1 1808.5,1386Z"/>
<g transform="translate(527.5,0)"><path d="M1232,1228 C1244,1236 1256,1249 1254,1257 C1252,1265 1240,1266 1230,1268.5 C1222,1271 1214,1273.5 1209,1277" fill="none" stroke="#ac8de6" stroke-width="2.6" stroke-linecap="round"/><path d="M1275.3,1235.4 L1302,1223.2" fill="none" stroke="#a480ea" stroke-width="3" stroke-linecap="round"/><path d="M1267.2,1337.4 L1289.9,1370" fill="none" stroke="#bdb4dc" stroke-width="2.4" stroke-linecap="round"/></g>
</g>
<g fill="#d3d3d3" filter="url(#fgF2)">
<path d="M1755.8,1207.8C1757.4,1207.2 1763.1,1210.3 1763.9,1212.7C1764.7,1215.1 1761.9,1220.2 1760.7,1222.4C1759.5,1224.6 1757.5,1227.1 1756.5,1226C1755.5,1224.9 1754.6,1219 1754.5,1216C1754.4,1213 1754.2,1208.3 1755.8,1207.8Z"/>
<path d="M1742.9,1272.6C1743.7,1273.8 1741.4,1282.1 1741.2,1287.2C1741,1292.3 1742,1296.9 1742,1303.4C1742,1309.9 1742.3,1322.5 1741.2,1326.1C1740.1,1329.7 1736.5,1329.3 1735.5,1325C1734.5,1320.7 1735.3,1307.5 1735.5,1300C1735.7,1292.5 1735.3,1284.6 1736.5,1280C1737.7,1275.4 1742.1,1271.4 1742.9,1272.6Z"/>
</g>
<rect x="1552.4" y="1165.9" width="17" height="153.4" fill="url(#cbF1)"/>
<text x="1576.5" y="1328.1" font-size="25">0</text>
<line x1="1552.4" y1="1289.6" x2="1555.9" y2="1289.6" stroke="#fff" stroke-width="1.2" stroke-linecap="butt"/>
<line x1="1565.9" y1="1289.6" x2="1569.4" y2="1289.6" stroke="#fff" stroke-width="1.2" stroke-linecap="butt"/>
<text x="1576.5" y="1297.6" font-size="25">1</text>
<line x1="1552.4" y1="1260" x2="1555.9" y2="1260" stroke="#fff" stroke-width="1.2" stroke-linecap="butt"/>
<line x1="1565.9" y1="1260" x2="1569.4" y2="1260" stroke="#fff" stroke-width="1.2" stroke-linecap="butt"/>
<text x="1576.5" y="1267" font-size="25">2</text>
<line x1="1552.4" y1="1230.3" x2="1555.9" y2="1230.3" stroke="#fff" stroke-width="1.2" stroke-linecap="butt"/>
<line x1="1565.9" y1="1230.3" x2="1569.4" y2="1230.3" stroke="#fff" stroke-width="1.2" stroke-linecap="butt"/>
<text x="1576.5" y="1236.5" font-size="25">3</text>
<line x1="1552.4" y1="1200.6" x2="1555.9" y2="1200.6" stroke="#fff" stroke-width="1.2" stroke-linecap="butt"/>
<line x1="1565.9" y1="1200.6" x2="1569.4" y2="1200.6" stroke="#fff" stroke-width="1.2" stroke-linecap="butt"/>
<text x="1576.5" y="1205.9" font-size="25">4</text>
<line x1="1552.4" y1="1170.9" x2="1555.9" y2="1170.9" stroke="#fff" stroke-width="1.2" stroke-linecap="butt"/>
<line x1="1565.9" y1="1170.9" x2="1569.4" y2="1170.9" stroke="#fff" stroke-width="1.2" stroke-linecap="butt"/>
<text x="1576.5" y="1175.4" font-size="25">5</text>
<rect x="2071.6" y="1165.9" width="17" height="153.4" fill="url(#cbF2)"/>
<text x="2095.7" y="1328.1" font-size="25">0</text>
<line x1="2071.6" y1="1289.6" x2="2075.1" y2="1289.6" stroke="#fff" stroke-width="1.2" stroke-linecap="butt"/>
<line x1="2085.1" y1="1289.6" x2="2088.6" y2="1289.6" stroke="#fff" stroke-width="1.2" stroke-linecap="butt"/>
<text x="2095.7" y="1297.6" font-size="25">1</text>
<line x1="2071.6" y1="1260" x2="2075.1" y2="1260" stroke="#fff" stroke-width="1.2" stroke-linecap="butt"/>
<line x1="2085.1" y1="1260" x2="2088.6" y2="1260" stroke="#fff" stroke-width="1.2" stroke-linecap="butt"/>
<text x="2095.7" y="1267" font-size="25">2</text>
<line x1="2071.6" y1="1230.3" x2="2075.1" y2="1230.3" stroke="#fff" stroke-width="1.2" stroke-linecap="butt"/>
<line x1="2085.1" y1="1230.3" x2="2088.6" y2="1230.3" stroke="#fff" stroke-width="1.2" stroke-linecap="butt"/>
<text x="2095.7" y="1236.5" font-size="25">3</text>
<line x1="2071.6" y1="1200.6" x2="2075.1" y2="1200.6" stroke="#fff" stroke-width="1.2" stroke-linecap="butt"/>
<line x1="2085.1" y1="1200.6" x2="2088.6" y2="1200.6" stroke="#fff" stroke-width="1.2" stroke-linecap="butt"/>
<text x="2095.7" y="1205.9" font-size="25">4</text>
<line x1="2071.6" y1="1170.9" x2="2075.1" y2="1170.9" stroke="#fff" stroke-width="1.2" stroke-linecap="butt"/>
<line x1="2085.1" y1="1170.9" x2="2088.6" y2="1170.9" stroke="#fff" stroke-width="1.2" stroke-linecap="butt"/>
<text x="2095.7" y="1175.4" font-size="25">5</text>
<line x1="1165" y1="1457.5" x2="1165" y2="1364" stroke="#000" stroke-width="2.3" stroke-linecap="butt"/>
<path d="M1165,1353.7 L1159.5,1372.5 L1165,1367 L1170.5,1372.5 Z" fill="#000"/>
<line x1="1157.2" y1="1452" x2="1253.4" y2="1452" stroke="#000" stroke-width="2.3" stroke-linecap="butt"/>
<path d="M1261.4,1452 L1242.9,1446.6 L1248.4,1452 L1242.9,1457.4 Z" fill="#000"/>
<text x="1165.5" y="1478.6" font-size="24.5">UMAP1</text>
<text x="1157.2" y="1409.5" font-size="24.5" text-anchor="middle" transform="rotate(-90 1157.2 1409.5)">UMAP2</text>
<line x1="1691" y1="1457.5" x2="1691" y2="1364" stroke="#000" stroke-width="2.3" stroke-linecap="butt"/>
<path d="M1691,1353.7 L1685.5,1372.5 L1691,1367 L1696.5,1372.5 Z" fill="#000"/>
<line x1="1683.2" y1="1452" x2="1779.4" y2="1452" stroke="#000" stroke-width="2.3" stroke-linecap="butt"/>
<path d="M1787.4,1452 L1768.9,1446.6 L1774.4,1452 L1768.9,1457.4 Z" fill="#000"/>
<text x="1691.5" y="1478.6" font-size="24.5">UMAP1</text>
<text x="1683.2" y="1409.5" font-size="24.5" text-anchor="middle" transform="rotate(-90 1683.2 1409.5)">UMAP2</text>
<text x="1103.5" y="986.9" font-size="31.4">F</text>
<text x="1157.6" y="993.9" font-size="25.3">P56</text>
<text x="1309.1" y="994.9" font-size="24.4" font-style="italic">msClock</text>
<text x="1804.6" y="994.9" font-size="24.6" font-style="italic">huCLOCK</text>
</svg></body></html>
